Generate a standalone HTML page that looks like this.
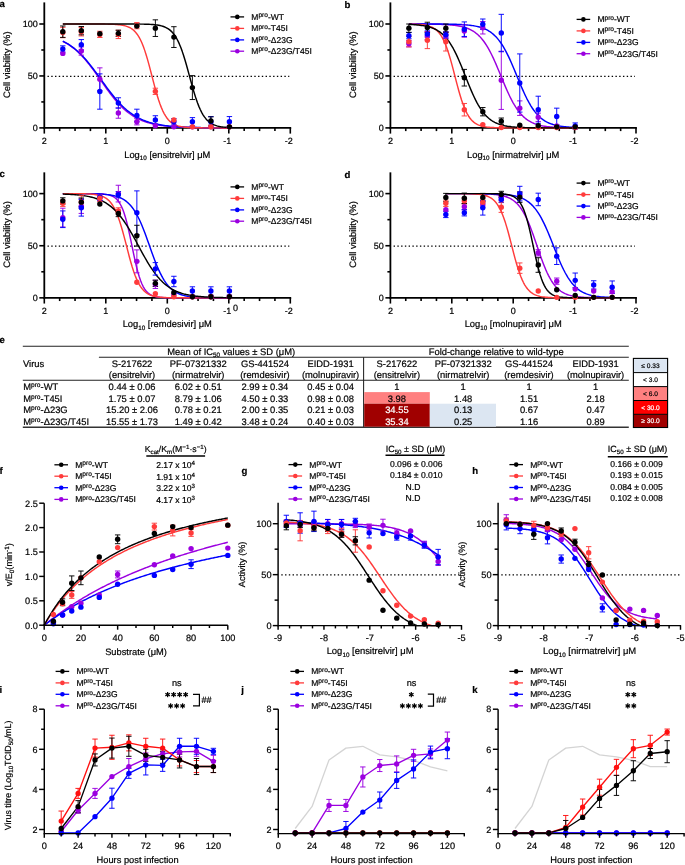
<!DOCTYPE html><html><head><meta charset="utf-8"><style>html,body{margin:0;padding:0;background:#fff;overflow:hidden}svg{display:block}text{font-family:"Liberation Sans",sans-serif;text-rendering:geometricPrecision;stroke:#000;stroke-width:.2px}text.w{stroke:#fff}</style></head><body><div style="will-change:transform"><svg width="685" height="865" viewBox="0 0 685 865" font-family="Liberation Sans, sans-serif">
<rect width="685" height="865" fill="#fff"/>
<text x="-0.6" y="7.2" font-size="9.6" text-anchor="start" fill="#000" font-weight="bold">a</text>
<line x1="47.5" y1="76.25" x2="289.3" y2="76.25" stroke="#000" stroke-width="1.25" stroke-dasharray="1.4 2.36"/>
<line x1="44.3" y1="2.4" x2="44.3" y2="128.8" stroke="#000" stroke-width="1.8" />
<line x1="43.4" y1="127.9" x2="291.2" y2="127.9" stroke="#000" stroke-width="1.8" />
<line x1="39.3" y1="127.9" x2="44.3" y2="127.9" stroke="#000" stroke-width="1.6" />
<line x1="39.3" y1="75.95" x2="44.3" y2="75.95" stroke="#000" stroke-width="1.6" />
<line x1="39.3" y1="24" x2="44.3" y2="24" stroke="#000" stroke-width="1.6" />
<line x1="41.3" y1="101.93" x2="44.3" y2="101.93" stroke="#000" stroke-width="1.6" />
<line x1="41.3" y1="49.98" x2="44.3" y2="49.98" stroke="#000" stroke-width="1.6" />
<line x1="44.3" y1="127.9" x2="44.3" y2="133.6" stroke="#000" stroke-width="1.6" />
<line x1="59.67" y1="127.9" x2="59.67" y2="131.1" stroke="#000" stroke-width="1.6" />
<line x1="75.05" y1="127.9" x2="75.05" y2="131.1" stroke="#000" stroke-width="1.6" />
<line x1="90.42" y1="127.9" x2="90.42" y2="131.1" stroke="#000" stroke-width="1.6" />
<line x1="105.8" y1="127.9" x2="105.8" y2="133.6" stroke="#000" stroke-width="1.6" />
<line x1="121.17" y1="127.9" x2="121.17" y2="131.1" stroke="#000" stroke-width="1.6" />
<line x1="136.55" y1="127.9" x2="136.55" y2="131.1" stroke="#000" stroke-width="1.6" />
<line x1="151.93" y1="127.9" x2="151.93" y2="131.1" stroke="#000" stroke-width="1.6" />
<line x1="167.3" y1="127.9" x2="167.3" y2="133.6" stroke="#000" stroke-width="1.6" />
<line x1="182.68" y1="127.9" x2="182.68" y2="131.1" stroke="#000" stroke-width="1.6" />
<line x1="198.05" y1="127.9" x2="198.05" y2="131.1" stroke="#000" stroke-width="1.6" />
<line x1="213.43" y1="127.9" x2="213.43" y2="131.1" stroke="#000" stroke-width="1.6" />
<line x1="228.8" y1="127.9" x2="228.8" y2="133.6" stroke="#000" stroke-width="1.6" />
<line x1="244.18" y1="127.9" x2="244.18" y2="131.1" stroke="#000" stroke-width="1.6" />
<line x1="259.55" y1="127.9" x2="259.55" y2="131.1" stroke="#000" stroke-width="1.6" />
<line x1="274.93" y1="127.9" x2="274.93" y2="131.1" stroke="#000" stroke-width="1.6" />
<line x1="290.3" y1="127.9" x2="290.3" y2="133.6" stroke="#000" stroke-width="1.6" />
<text x="37.7" y="131.1" font-size="9.0" text-anchor="end" fill="#000" >0</text>
<text x="37.7" y="79.15" font-size="9.0" text-anchor="end" fill="#000" >50</text>
<text x="37.7" y="27.2" font-size="9.0" text-anchor="end" fill="#000" >100</text>
<text x="44.3" y="143.7" font-size="9.0" text-anchor="middle" fill="#000" >2</text>
<text x="105.8" y="143.7" font-size="9.0" text-anchor="middle" fill="#000" >1</text>
<text x="167.3" y="143.7" font-size="9.0" text-anchor="middle" fill="#000" >0</text>
<text x="227.3" y="143.7" font-size="9.0" text-anchor="middle" fill="#000" >-1</text>
<text x="288.8" y="143.7" font-size="9.0" text-anchor="middle" fill="#000" >-2</text>
<text transform="translate(9.9,64.73) rotate(-90)" font-size="9.35" text-anchor="middle">Cell viability (%)</text>
<text x="167.3" y="157.5" font-size="9.35" text-anchor="middle">Log<tspan font-size="6.3" dy="2.2">10</tspan><tspan dy="-2.2"> [ensitrelvir] μM</tspan></text>
<polyline points="62.81,41.33 64.2,42.03 65.59,42.78 66.98,43.58 68.36,44.43 69.75,45.34 71.14,46.31 72.53,47.33 73.92,48.41 75.31,49.56 76.7,50.76 78.08,52.03 79.47,53.37 80.86,54.77 82.25,56.23 83.64,57.75 85.03,59.33 86.41,60.97 87.8,62.67 89.19,64.42 90.58,66.21 91.97,68.05 93.36,69.93 94.74,71.85 96.13,73.79 97.52,75.75 98.91,77.73 100.3,79.71 101.69,81.7 103.07,83.68 104.46,85.65 105.85,87.6 107.24,89.52 108.63,91.42 110.02,93.28 111.4,95.09 112.79,96.86 114.18,98.58 115.57,100.24 116.96,101.84 118.35,103.39 119.73,104.88 121.12,106.3 122.51,107.66 123.9,108.95 125.29,110.18 126.68,111.35 128.06,112.46 129.45,113.51 130.84,114.49 132.23,115.42 133.62,116.3 135.01,117.12 136.39,117.89 137.78,118.61 139.17,119.29 140.56,119.92 141.95,120.5 143.34,121.05 144.72,121.56 146.11,122.04 147.5,122.48 148.89,122.89 150.28,123.27 151.67,123.62 153.06,123.95 154.44,124.25 155.83,124.53 157.22,124.79 158.61,125.03 160,125.26 161.39,125.46 162.77,125.65 164.16,125.83 165.55,125.99 166.94,126.14 168.33,126.28 169.72,126.4 171.1,126.52 172.49,126.63 173.88,126.73 175.27,126.82 176.66,126.91 178.05,126.99 179.43,127.06 180.82,127.13 182.21,127.19 183.6,127.24 184.99,127.3 186.38,127.34 187.76,127.39 189.15,127.43 190.54,127.47 191.93,127.5 193.32,127.53 194.71,127.56 196.09,127.59 197.48,127.61 198.87,127.64 200.26,127.66 201.65,127.68 203.04,127.69 204.42,127.71 205.81,127.73 207.2,127.74 208.59,127.75 209.98,127.76 211.37,127.77 212.75,127.78 214.14,127.79 215.53,127.8 216.92,127.81 218.31,127.82 219.7,127.82 221.08,127.83 222.47,127.84 223.86,127.84 225.25,127.85 226.64,127.85 228.03,127.85 229.41,127.86" fill="none" stroke="#9b00e0" stroke-width="1.45" stroke-linejoin="round" />
<polyline points="62.81,41.14 64.2,41.84 65.59,42.59 66.98,43.38 68.36,44.23 69.75,45.12 71.14,46.07 72.53,47.08 73.92,48.14 75.31,49.26 76.7,50.44 78.08,51.68 79.47,52.98 80.86,54.34 82.25,55.75 83.64,57.23 85.03,58.76 86.41,60.35 87.8,61.99 89.19,63.68 90.58,65.41 91.97,67.19 93.36,69.01 94.74,70.86 96.13,72.74 97.52,74.64 98.91,76.55 100.3,78.48 101.69,80.41 103.07,82.34 104.46,84.26 105.85,86.17 107.24,88.06 108.63,89.92 110.02,91.75 111.4,93.55 112.79,95.3 114.18,97.01 115.57,98.67 116.96,100.28 118.35,101.83 119.73,103.33 121.12,104.78 122.51,106.16 123.9,107.48 125.29,108.74 126.68,109.95 128.06,111.09 129.45,112.18 130.84,113.21 132.23,114.18 133.62,115.1 135.01,115.97 136.39,116.78 137.78,117.55 139.17,118.27 140.56,118.94 141.95,119.57 143.34,120.17 144.72,120.72 146.11,121.24 147.5,121.72 148.89,122.17 150.28,122.58 151.67,122.97 153.06,123.34 154.44,123.67 155.83,123.99 157.22,124.28 158.61,124.55 160,124.8 161.39,125.03 162.77,125.25 164.16,125.45 165.55,125.63 166.94,125.8 168.33,125.96 169.72,126.11 171.1,126.24 172.49,126.37 173.88,126.49 175.27,126.59 176.66,126.69 178.05,126.79 179.43,126.87 180.82,126.95 182.21,127.02 183.6,127.09 184.99,127.15 186.38,127.21 187.76,127.26 189.15,127.31 190.54,127.36 191.93,127.4 193.32,127.44 194.71,127.47 196.09,127.51 197.48,127.54 198.87,127.56 200.26,127.59 201.65,127.61 203.04,127.64 204.42,127.66 205.81,127.67 207.2,127.69 208.59,127.71 209.98,127.72 211.37,127.74 212.75,127.75 214.14,127.76 215.53,127.77 216.92,127.78 218.31,127.79 219.7,127.8 221.08,127.81 222.47,127.81 223.86,127.82 225.25,127.83 226.64,127.83 228.03,127.84 229.41,127.84" fill="none" stroke="#0000ff" stroke-width="1.45" stroke-linejoin="round" />
<polyline points="62.81,24 64.2,24 65.59,24 66.98,24 68.36,24 69.75,24 71.14,24 72.53,24 73.92,24 75.31,24 76.7,24 78.08,24 79.47,24 80.86,24 82.25,24 83.64,24 85.03,24 86.41,24.01 87.8,24.01 89.19,24.01 90.58,24.01 91.97,24.01 93.36,24.02 94.74,24.02 96.13,24.02 97.52,24.03 98.91,24.04 100.3,24.05 101.69,24.06 103.07,24.07 104.46,24.08 105.85,24.1 107.24,24.13 108.63,24.16 110.02,24.19 111.4,24.24 112.79,24.3 114.18,24.36 115.57,24.45 116.96,24.55 118.35,24.68 119.73,24.83 121.12,25.02 122.51,25.25 123.9,25.54 125.29,25.89 126.68,26.32 128.06,26.84 129.45,27.47 130.84,28.24 132.23,29.17 133.62,30.29 135.01,31.64 136.39,33.25 137.78,35.16 139.17,37.4 140.56,40.02 141.95,43.04 143.34,46.49 144.72,50.37 146.11,54.67 147.5,59.35 148.89,64.34 150.28,69.58 151.67,74.95 153.06,80.34 154.44,85.63 155.83,90.73 157.22,95.53 158.61,99.98 160,104.01 161.39,107.62 162.77,110.8 164.16,113.57 165.55,115.95 166.94,117.98 168.33,119.69 169.72,121.13 171.1,122.34 172.49,123.34 173.88,124.16 175.27,124.84 176.66,125.4 178.05,125.86 179.43,126.24 180.82,126.55 182.21,126.8 183.6,127 184.99,127.17 186.38,127.31 187.76,127.42 189.15,127.51 190.54,127.58 191.93,127.64 193.32,127.69 194.71,127.73 196.09,127.76 197.48,127.79 198.87,127.81 200.26,127.83 201.65,127.84 203.04,127.85 204.42,127.86 205.81,127.87 207.2,127.87 208.59,127.88 209.98,127.88 211.37,127.89 212.75,127.89 214.14,127.89 215.53,127.89 216.92,127.89 218.31,127.89 219.7,127.9 221.08,127.9 222.47,127.9 223.86,127.9 225.25,127.9 226.64,127.9 228.03,127.9 229.41,127.9" fill="none" stroke="#ff3b3b" stroke-width="1.45" stroke-linejoin="round" />
<polyline points="62.81,24 64.2,24 65.59,24 66.98,24 68.36,24 69.75,24 71.14,24 72.53,24 73.92,24 75.31,24 76.7,24 78.08,24 79.47,24 80.86,24 82.25,24 83.64,24 85.03,24 86.41,24 87.8,24 89.19,24 90.58,24 91.97,24 93.36,24 94.74,24 96.13,24 97.52,24 98.91,24 100.3,24 101.69,24 103.07,24 104.46,24 105.85,24 107.24,24 108.63,24 110.02,24 111.4,24 112.79,24 114.18,24 115.57,24 116.96,24 118.35,24 119.73,24.01 121.12,24.01 122.51,24.01 123.9,24.01 125.29,24.01 126.68,24.01 128.06,24.02 129.45,24.02 130.84,24.02 132.23,24.03 133.62,24.04 135.01,24.04 136.39,24.05 137.78,24.07 139.17,24.08 140.56,24.1 141.95,24.12 143.34,24.15 144.72,24.18 146.11,24.22 147.5,24.27 148.89,24.32 150.28,24.39 151.67,24.48 153.06,24.58 154.44,24.71 155.83,24.86 157.22,25.05 158.61,25.28 160,25.55 161.39,25.88 162.77,26.29 164.16,26.77 165.55,27.36 166.94,28.06 168.33,28.91 169.72,29.92 171.1,31.13 172.49,32.55 173.88,34.24 175.27,36.21 176.66,38.5 178.05,41.15 179.43,44.17 180.82,47.57 182.21,51.36 183.6,55.53 184.99,60.02 186.38,64.8 187.76,69.79 189.15,74.89 190.54,80.01 191.93,85.05 193.32,89.93 194.71,94.55 196.09,98.86 197.48,102.8 198.87,106.37 200.26,109.55 201.65,112.34 203.04,114.78 204.42,116.88 205.81,118.68 207.2,120.21 208.59,121.51 209.98,122.59 211.37,123.5 212.75,124.26 214.14,124.9 215.53,125.42 216.92,125.86 218.31,126.22 219.7,126.52 221.08,126.76 222.47,126.96 223.86,127.13 225.25,127.27 226.64,127.38 228.03,127.47 229.41,127.55" fill="none" stroke="#000000" stroke-width="1.45" stroke-linejoin="round" />
<line x1="81.32" y1="46.86" x2="81.32" y2="55.17" stroke="#9b00e0" stroke-width="0.95" />
<line x1="78.62" y1="46.86" x2="84.02" y2="46.86" stroke="#9b00e0" stroke-width="0.95" />
<line x1="78.62" y1="55.17" x2="84.02" y2="55.17" stroke="#9b00e0" stroke-width="0.95" />
<line x1="99.83" y1="67.85" x2="99.83" y2="90.7" stroke="#9b00e0" stroke-width="0.95" />
<line x1="97.13" y1="67.85" x2="102.53" y2="67.85" stroke="#9b00e0" stroke-width="0.95" />
<line x1="97.13" y1="90.7" x2="102.53" y2="90.7" stroke="#9b00e0" stroke-width="0.95" />
<line x1="118.35" y1="107.85" x2="118.35" y2="118.24" stroke="#9b00e0" stroke-width="0.95" />
<line x1="115.65" y1="107.85" x2="121.05" y2="107.85" stroke="#9b00e0" stroke-width="0.95" />
<line x1="115.65" y1="118.24" x2="121.05" y2="118.24" stroke="#9b00e0" stroke-width="0.95" />
<line x1="136.86" y1="118.65" x2="136.86" y2="124.89" stroke="#9b00e0" stroke-width="0.95" />
<line x1="134.16" y1="118.65" x2="139.56" y2="118.65" stroke="#9b00e0" stroke-width="0.95" />
<line x1="134.16" y1="124.89" x2="139.56" y2="124.89" stroke="#9b00e0" stroke-width="0.95" />
<line x1="62.81" y1="45.82" x2="62.81" y2="52.05" stroke="#0000ff" stroke-width="0.95" />
<line x1="60.11" y1="45.82" x2="65.51" y2="45.82" stroke="#0000ff" stroke-width="0.95" />
<line x1="60.11" y1="52.05" x2="65.51" y2="52.05" stroke="#0000ff" stroke-width="0.95" />
<line x1="81.32" y1="39.59" x2="81.32" y2="49.98" stroke="#0000ff" stroke-width="0.95" />
<line x1="78.62" y1="39.59" x2="84.02" y2="39.59" stroke="#0000ff" stroke-width="0.95" />
<line x1="78.62" y1="49.98" x2="84.02" y2="49.98" stroke="#0000ff" stroke-width="0.95" />
<line x1="99.83" y1="73.87" x2="99.83" y2="109.2" stroke="#0000ff" stroke-width="0.95" />
<line x1="97.13" y1="73.87" x2="102.53" y2="73.87" stroke="#0000ff" stroke-width="0.95" />
<line x1="97.13" y1="109.2" x2="102.53" y2="109.2" stroke="#0000ff" stroke-width="0.95" />
<line x1="118.35" y1="97.77" x2="118.35" y2="108.16" stroke="#0000ff" stroke-width="0.95" />
<line x1="115.65" y1="97.77" x2="121.05" y2="97.77" stroke="#0000ff" stroke-width="0.95" />
<line x1="115.65" y1="108.16" x2="121.05" y2="108.16" stroke="#0000ff" stroke-width="0.95" />
<line x1="136.86" y1="109.2" x2="136.86" y2="121.67" stroke="#0000ff" stroke-width="0.95" />
<line x1="134.16" y1="109.2" x2="139.56" y2="109.2" stroke="#0000ff" stroke-width="0.95" />
<line x1="134.16" y1="121.67" x2="139.56" y2="121.67" stroke="#0000ff" stroke-width="0.95" />
<line x1="155.37" y1="115.74" x2="155.37" y2="124.06" stroke="#0000ff" stroke-width="0.95" />
<line x1="152.67" y1="115.74" x2="158.07" y2="115.74" stroke="#0000ff" stroke-width="0.95" />
<line x1="152.67" y1="124.06" x2="158.07" y2="124.06" stroke="#0000ff" stroke-width="0.95" />
<line x1="173.88" y1="118.65" x2="173.88" y2="124.89" stroke="#0000ff" stroke-width="0.95" />
<line x1="171.18" y1="118.65" x2="176.58" y2="118.65" stroke="#0000ff" stroke-width="0.95" />
<line x1="171.18" y1="124.89" x2="176.58" y2="124.89" stroke="#0000ff" stroke-width="0.95" />
<line x1="192.39" y1="117.61" x2="192.39" y2="125.93" stroke="#0000ff" stroke-width="0.95" />
<line x1="189.69" y1="117.61" x2="195.09" y2="117.61" stroke="#0000ff" stroke-width="0.95" />
<line x1="189.69" y1="125.93" x2="195.09" y2="125.93" stroke="#0000ff" stroke-width="0.95" />
<line x1="210.9" y1="116.57" x2="210.9" y2="126.96" stroke="#0000ff" stroke-width="0.95" />
<line x1="208.2" y1="116.57" x2="213.6" y2="116.57" stroke="#0000ff" stroke-width="0.95" />
<line x1="208.2" y1="126.96" x2="213.6" y2="126.96" stroke="#0000ff" stroke-width="0.95" />
<line x1="229.41" y1="116.57" x2="229.41" y2="126.96" stroke="#0000ff" stroke-width="0.95" />
<line x1="226.71" y1="116.57" x2="232.11" y2="116.57" stroke="#0000ff" stroke-width="0.95" />
<line x1="226.71" y1="126.96" x2="232.11" y2="126.96" stroke="#0000ff" stroke-width="0.95" />
<line x1="62.81" y1="27.32" x2="62.81" y2="37.71" stroke="#ff3b3b" stroke-width="0.95" />
<line x1="60.11" y1="27.32" x2="65.51" y2="27.32" stroke="#ff3b3b" stroke-width="0.95" />
<line x1="60.11" y1="37.71" x2="65.51" y2="37.71" stroke="#ff3b3b" stroke-width="0.95" />
<line x1="81.32" y1="27.64" x2="81.32" y2="35.95" stroke="#ff3b3b" stroke-width="0.95" />
<line x1="78.62" y1="27.64" x2="84.02" y2="27.64" stroke="#ff3b3b" stroke-width="0.95" />
<line x1="78.62" y1="35.95" x2="84.02" y2="35.95" stroke="#ff3b3b" stroke-width="0.95" />
<line x1="99.83" y1="31.27" x2="99.83" y2="37.51" stroke="#ff3b3b" stroke-width="0.95" />
<line x1="97.13" y1="31.27" x2="102.53" y2="31.27" stroke="#ff3b3b" stroke-width="0.95" />
<line x1="97.13" y1="37.51" x2="102.53" y2="37.51" stroke="#ff3b3b" stroke-width="0.95" />
<line x1="118.35" y1="30.23" x2="118.35" y2="38.55" stroke="#ff3b3b" stroke-width="0.95" />
<line x1="115.65" y1="30.23" x2="121.05" y2="30.23" stroke="#ff3b3b" stroke-width="0.95" />
<line x1="115.65" y1="38.55" x2="121.05" y2="38.55" stroke="#ff3b3b" stroke-width="0.95" />
<line x1="136.86" y1="22.55" x2="136.86" y2="28.78" stroke="#ff3b3b" stroke-width="0.95" />
<line x1="134.16" y1="22.55" x2="139.56" y2="22.55" stroke="#ff3b3b" stroke-width="0.95" />
<line x1="134.16" y1="28.78" x2="139.56" y2="28.78" stroke="#ff3b3b" stroke-width="0.95" />
<line x1="155.37" y1="88.21" x2="155.37" y2="94.44" stroke="#ff3b3b" stroke-width="0.95" />
<line x1="152.67" y1="88.21" x2="158.07" y2="88.21" stroke="#ff3b3b" stroke-width="0.95" />
<line x1="152.67" y1="94.44" x2="158.07" y2="94.44" stroke="#ff3b3b" stroke-width="0.95" />
<line x1="62.81" y1="25.97" x2="62.81" y2="37.4" stroke="#000000" stroke-width="0.95" />
<line x1="60.11" y1="25.97" x2="65.51" y2="25.97" stroke="#000000" stroke-width="0.95" />
<line x1="60.11" y1="37.4" x2="65.51" y2="37.4" stroke="#000000" stroke-width="0.95" />
<line x1="81.32" y1="26.49" x2="81.32" y2="34.81" stroke="#000000" stroke-width="0.95" />
<line x1="78.62" y1="26.49" x2="84.02" y2="26.49" stroke="#000000" stroke-width="0.95" />
<line x1="78.62" y1="34.81" x2="84.02" y2="34.81" stroke="#000000" stroke-width="0.95" />
<line x1="118.35" y1="30.23" x2="118.35" y2="36.47" stroke="#000000" stroke-width="0.95" />
<line x1="115.65" y1="30.23" x2="121.05" y2="30.23" stroke="#000000" stroke-width="0.95" />
<line x1="115.65" y1="36.47" x2="121.05" y2="36.47" stroke="#000000" stroke-width="0.95" />
<line x1="155.37" y1="19.84" x2="155.37" y2="36.47" stroke="#000000" stroke-width="0.95" />
<line x1="152.67" y1="19.84" x2="158.07" y2="19.84" stroke="#000000" stroke-width="0.95" />
<line x1="152.67" y1="36.47" x2="158.07" y2="36.47" stroke="#000000" stroke-width="0.95" />
<line x1="173.88" y1="26.7" x2="173.88" y2="47.48" stroke="#000000" stroke-width="0.95" />
<line x1="171.18" y1="26.7" x2="176.58" y2="26.7" stroke="#000000" stroke-width="0.95" />
<line x1="171.18" y1="47.48" x2="176.58" y2="47.48" stroke="#000000" stroke-width="0.95" />
<line x1="192.39" y1="75.64" x2="192.39" y2="99.54" stroke="#000000" stroke-width="0.95" />
<line x1="189.69" y1="75.64" x2="195.09" y2="75.64" stroke="#000000" stroke-width="0.95" />
<line x1="189.69" y1="99.54" x2="195.09" y2="99.54" stroke="#000000" stroke-width="0.95" />
<line x1="210.9" y1="116.89" x2="210.9" y2="125.2" stroke="#000000" stroke-width="0.95" />
<line x1="208.2" y1="116.89" x2="213.6" y2="116.89" stroke="#000000" stroke-width="0.95" />
<line x1="208.2" y1="125.2" x2="213.6" y2="125.2" stroke="#000000" stroke-width="0.95" />
<circle cx="62.81" cy="53.4" r="2.7" fill="#9b00e0"/>
<circle cx="81.32" cy="51.01" r="2.7" fill="#9b00e0"/>
<circle cx="99.83" cy="79.27" r="2.7" fill="#9b00e0"/>
<circle cx="118.35" cy="113.04" r="2.7" fill="#9b00e0"/>
<circle cx="136.86" cy="121.77" r="2.7" fill="#9b00e0"/>
<circle cx="155.37" cy="125.82" r="2.7" fill="#9b00e0"/>
<circle cx="173.88" cy="126.86" r="2.7" fill="#9b00e0"/>
<circle cx="192.39" cy="126.86" r="2.7" fill="#9b00e0"/>
<circle cx="210.9" cy="126.86" r="2.7" fill="#9b00e0"/>
<circle cx="229.41" cy="126.86" r="2.7" fill="#9b00e0"/>
<circle cx="62.81" cy="48.94" r="2.7" fill="#0000ff"/>
<circle cx="81.32" cy="44.78" r="2.7" fill="#0000ff"/>
<circle cx="99.83" cy="91.54" r="2.7" fill="#0000ff"/>
<circle cx="118.35" cy="102.96" r="2.7" fill="#0000ff"/>
<circle cx="136.86" cy="115.43" r="2.7" fill="#0000ff"/>
<circle cx="155.37" cy="119.9" r="2.7" fill="#0000ff"/>
<circle cx="173.88" cy="121.77" r="2.7" fill="#0000ff"/>
<circle cx="192.39" cy="121.77" r="2.7" fill="#0000ff"/>
<circle cx="210.9" cy="121.77" r="2.7" fill="#0000ff"/>
<circle cx="229.41" cy="121.77" r="2.7" fill="#0000ff"/>
<circle cx="62.81" cy="32.52" r="2.7" fill="#ff3b3b"/>
<circle cx="81.32" cy="31.79" r="2.7" fill="#ff3b3b"/>
<circle cx="99.83" cy="34.39" r="2.7" fill="#ff3b3b"/>
<circle cx="118.35" cy="34.39" r="2.7" fill="#ff3b3b"/>
<circle cx="136.86" cy="25.66" r="2.7" fill="#ff3b3b"/>
<circle cx="155.37" cy="91.33" r="2.7" fill="#ff3b3b"/>
<circle cx="173.88" cy="119.9" r="2.7" fill="#ff3b3b"/>
<circle cx="192.39" cy="126.86" r="2.7" fill="#ff3b3b"/>
<circle cx="210.9" cy="126.86" r="2.7" fill="#ff3b3b"/>
<circle cx="229.41" cy="126.86" r="2.7" fill="#ff3b3b"/>
<circle cx="62.81" cy="31.69" r="2.7" fill="#000000"/>
<circle cx="81.32" cy="30.65" r="2.7" fill="#000000"/>
<circle cx="99.83" cy="33.66" r="2.7" fill="#000000"/>
<circle cx="118.35" cy="33.35" r="2.7" fill="#000000"/>
<circle cx="136.86" cy="26.08" r="2.7" fill="#000000"/>
<circle cx="155.37" cy="28.16" r="2.7" fill="#000000"/>
<circle cx="173.88" cy="37.09" r="2.7" fill="#000000"/>
<circle cx="192.39" cy="87.59" r="2.7" fill="#000000"/>
<circle cx="210.9" cy="121.04" r="2.7" fill="#000000"/>
<circle cx="229.41" cy="126.86" r="2.7" fill="#000000"/>
<line x1="230.5" y1="16.9" x2="244.1" y2="16.9" stroke="#000000" stroke-width="1.3" />
<circle cx="237.3" cy="16.9" r="2.3" fill="#000000"/>
<text x="251.3" y="19.9" font-size="8.5" text-anchor="start" fill="#000" >M<tspan font-size="6.6" dy="-2.8">pro</tspan><tspan dy="2.8">-WT</tspan></text>
<line x1="230.5" y1="28.4" x2="244.1" y2="28.4" stroke="#ff3b3b" stroke-width="1.3" />
<circle cx="237.3" cy="28.4" r="2.3" fill="#ff3b3b"/>
<text x="251.3" y="31.4" font-size="8.5" text-anchor="start" fill="#000" >M<tspan font-size="6.6" dy="-2.8">pro</tspan><tspan dy="2.8">-T45I</tspan></text>
<line x1="230.5" y1="39.9" x2="244.1" y2="39.9" stroke="#0000ff" stroke-width="1.3" />
<circle cx="237.3" cy="39.9" r="2.3" fill="#0000ff"/>
<text x="251.3" y="42.9" font-size="8.5" text-anchor="start" fill="#000" >M<tspan font-size="6.6" dy="-2.8">pro</tspan><tspan dy="2.8">-Δ23G</tspan></text>
<line x1="230.5" y1="51.2" x2="244.1" y2="51.2" stroke="#9b00e0" stroke-width="1.3" />
<circle cx="237.3" cy="51.2" r="2.3" fill="#9b00e0"/>
<text x="251.3" y="54.2" font-size="8.5" text-anchor="start" fill="#000" >M<tspan font-size="6.6" dy="-2.8">pro</tspan><tspan dy="2.8">-Δ23G/T45I</tspan></text>
<text x="344.6" y="8.3" font-size="9.6" text-anchor="start" fill="#000" font-weight="bold">b</text>
<line x1="393.6" y1="76.25" x2="635" y2="76.25" stroke="#000" stroke-width="1.25" stroke-dasharray="1.4 2.36"/>
<line x1="390.4" y1="2.4" x2="390.4" y2="128.8" stroke="#000" stroke-width="1.8" />
<line x1="389.5" y1="127.9" x2="636.9" y2="127.9" stroke="#000" stroke-width="1.8" />
<line x1="385.4" y1="127.9" x2="390.4" y2="127.9" stroke="#000" stroke-width="1.6" />
<line x1="385.4" y1="75.95" x2="390.4" y2="75.95" stroke="#000" stroke-width="1.6" />
<line x1="385.4" y1="24" x2="390.4" y2="24" stroke="#000" stroke-width="1.6" />
<line x1="387.4" y1="101.93" x2="390.4" y2="101.93" stroke="#000" stroke-width="1.6" />
<line x1="387.4" y1="49.98" x2="390.4" y2="49.98" stroke="#000" stroke-width="1.6" />
<line x1="390.4" y1="127.9" x2="390.4" y2="133.6" stroke="#000" stroke-width="1.6" />
<line x1="405.75" y1="127.9" x2="405.75" y2="131.1" stroke="#000" stroke-width="1.6" />
<line x1="421.1" y1="127.9" x2="421.1" y2="131.1" stroke="#000" stroke-width="1.6" />
<line x1="436.45" y1="127.9" x2="436.45" y2="131.1" stroke="#000" stroke-width="1.6" />
<line x1="451.8" y1="127.9" x2="451.8" y2="133.6" stroke="#000" stroke-width="1.6" />
<line x1="467.15" y1="127.9" x2="467.15" y2="131.1" stroke="#000" stroke-width="1.6" />
<line x1="482.5" y1="127.9" x2="482.5" y2="131.1" stroke="#000" stroke-width="1.6" />
<line x1="497.85" y1="127.9" x2="497.85" y2="131.1" stroke="#000" stroke-width="1.6" />
<line x1="513.2" y1="127.9" x2="513.2" y2="133.6" stroke="#000" stroke-width="1.6" />
<line x1="528.55" y1="127.9" x2="528.55" y2="131.1" stroke="#000" stroke-width="1.6" />
<line x1="543.9" y1="127.9" x2="543.9" y2="131.1" stroke="#000" stroke-width="1.6" />
<line x1="559.25" y1="127.9" x2="559.25" y2="131.1" stroke="#000" stroke-width="1.6" />
<line x1="574.6" y1="127.9" x2="574.6" y2="133.6" stroke="#000" stroke-width="1.6" />
<line x1="589.95" y1="127.9" x2="589.95" y2="131.1" stroke="#000" stroke-width="1.6" />
<line x1="605.3" y1="127.9" x2="605.3" y2="131.1" stroke="#000" stroke-width="1.6" />
<line x1="620.65" y1="127.9" x2="620.65" y2="131.1" stroke="#000" stroke-width="1.6" />
<line x1="636" y1="127.9" x2="636" y2="133.6" stroke="#000" stroke-width="1.6" />
<text x="383.8" y="131.1" font-size="9.0" text-anchor="end" fill="#000" >0</text>
<text x="383.8" y="79.15" font-size="9.0" text-anchor="end" fill="#000" >50</text>
<text x="383.8" y="27.2" font-size="9.0" text-anchor="end" fill="#000" >100</text>
<text x="390.4" y="143.7" font-size="9.0" text-anchor="middle" fill="#000" >2</text>
<text x="451.8" y="143.7" font-size="9.0" text-anchor="middle" fill="#000" >1</text>
<text x="513.2" y="143.7" font-size="9.0" text-anchor="middle" fill="#000" >0</text>
<text x="573.1" y="143.7" font-size="9.0" text-anchor="middle" fill="#000" >-1</text>
<text x="634.5" y="143.7" font-size="9.0" text-anchor="middle" fill="#000" >-2</text>
<text transform="translate(356,64.73) rotate(-90)" font-size="9.35" text-anchor="middle">Cell viability (%)</text>
<text x="513.2" y="157.5" font-size="9.35" text-anchor="middle">Log<tspan font-size="6.3" dy="2.2">10</tspan><tspan dy="-2.2"> [nirmatrelvir] μM</tspan></text>
<polyline points="408.88,24.02 410.27,24.02 411.65,24.02 413.04,24.03 414.43,24.03 415.81,24.04 417.2,24.04 418.58,24.05 419.97,24.05 421.36,24.06 422.74,24.07 424.13,24.08 425.51,24.09 426.9,24.1 428.29,24.11 429.67,24.13 431.06,24.15 432.45,24.17 433.83,24.19 435.22,24.22 436.6,24.25 437.99,24.28 439.38,24.32 440.76,24.37 442.15,24.42 443.53,24.48 444.92,24.54 446.31,24.62 447.69,24.7 449.08,24.8 450.46,24.91 451.85,25.03 453.24,25.18 454.62,25.34 456.01,25.52 457.4,25.73 458.78,25.96 460.17,26.23 461.55,26.53 462.94,26.87 464.33,27.26 465.71,27.69 467.1,28.18 468.48,28.74 469.87,29.36 471.26,30.06 472.64,30.85 474.03,31.73 475.41,32.71 476.8,33.81 478.19,35.02 479.57,36.37 480.96,37.86 482.34,39.49 483.73,41.29 485.12,43.24 486.5,45.36 487.89,47.65 489.28,50.11 490.66,52.73 492.05,55.51 493.43,58.43 494.82,61.49 496.21,64.65 497.59,67.91 498.98,71.23 500.36,74.6 501.75,77.97 503.14,81.33 504.52,84.64 505.91,87.88 507.29,91.03 508.68,94.06 510.07,96.95 511.45,99.7 512.84,102.29 514.23,104.72 515.61,106.97 517,109.06 518.38,110.98 519.77,112.74 521.16,114.35 522.54,115.81 523.93,117.13 525.31,118.32 526.7,119.39 528.09,120.35 529.47,121.21 530.86,121.98 532.24,122.67 533.63,123.28 535.02,123.82 536.4,124.3 537.79,124.72 539.18,125.1 540.56,125.43 541.95,125.73 543.33,125.99 544.72,126.22 546.11,126.42 547.49,126.6 548.88,126.75 550.26,126.89 551.65,127.01 553.04,127.12 554.42,127.22 555.81,127.3 557.19,127.37 558.58,127.44 559.97,127.49 561.35,127.54 562.74,127.59 564.13,127.62 565.51,127.66 566.9,127.69 568.28,127.71 569.67,127.74 571.06,127.76 572.44,127.77 573.83,127.79 575.21,127.8" fill="none" stroke="#9b00e0" stroke-width="1.45" stroke-linejoin="round" />
<polyline points="408.88,24 410.27,24 411.65,24.01 413.04,24.01 414.43,24.01 415.81,24.01 417.2,24.01 418.58,24.01 419.97,24.01 421.36,24.01 422.74,24.02 424.13,24.02 425.51,24.02 426.9,24.02 428.29,24.03 429.67,24.03 431.06,24.03 432.45,24.04 433.83,24.04 435.22,24.05 436.6,24.06 437.99,24.06 439.38,24.07 440.76,24.08 442.15,24.09 443.53,24.11 444.92,24.12 446.31,24.14 447.69,24.16 449.08,24.18 450.46,24.2 451.85,24.23 453.24,24.27 454.62,24.3 456.01,24.34 457.4,24.39 458.78,24.45 460.17,24.51 461.55,24.58 462.94,24.66 464.33,24.75 465.71,24.85 467.1,24.97 468.48,25.1 469.87,25.25 471.26,25.42 472.64,25.62 474.03,25.84 475.41,26.09 476.8,26.37 478.19,26.69 479.57,27.05 480.96,27.46 482.34,27.92 483.73,28.44 485.12,29.03 486.5,29.69 487.89,30.43 489.28,31.26 490.66,32.19 492.05,33.23 493.43,34.38 494.82,35.66 496.21,37.07 497.59,38.63 498.98,40.34 500.36,42.21 501.75,44.24 503.14,46.45 504.52,48.82 505.91,51.36 507.29,54.05 508.68,56.9 510.07,59.89 511.45,63 512.84,66.22 514.23,69.51 515.61,72.85 517,76.23 518.38,79.6 519.77,82.94 521.16,86.22 522.54,89.41 523.93,92.51 525.31,95.47 526.7,98.3 528.09,100.97 529.47,103.48 530.86,105.83 532.24,108 533.63,110.01 535.02,111.85 536.4,113.54 537.79,115.07 539.18,116.46 540.56,117.72 541.95,118.85 543.33,119.87 544.72,120.78 546.11,121.6 547.49,122.32 548.88,122.97 550.26,123.55 551.65,124.06 553.04,124.51 554.42,124.91 555.81,125.27 557.19,125.58 558.58,125.86 559.97,126.1 561.35,126.32 562.74,126.51 564.13,126.68 565.51,126.82 566.9,126.95 568.28,127.07 569.67,127.17 571.06,127.26 572.44,127.33 573.83,127.4 575.21,127.46" fill="none" stroke="#0000ff" stroke-width="1.45" stroke-linejoin="round" />
<polyline points="408.88,24.1 410.27,24.13 411.65,24.16 413.04,24.2 414.43,24.24 415.81,24.3 417.2,24.36 418.58,24.45 419.97,24.55 421.36,24.68 422.74,24.83 424.13,25.02 425.51,25.26 426.9,25.54 428.29,25.89 429.67,26.32 431.06,26.84 432.45,27.47 433.83,28.25 435.22,29.18 436.6,30.3 437.99,31.65 439.38,33.26 440.76,35.17 442.15,37.42 443.53,40.04 444.92,43.07 446.31,46.52 447.69,50.4 449.08,54.7 450.46,59.38 451.85,64.38 453.24,69.62 454.62,74.99 456.01,80.38 457.4,85.67 458.78,90.77 460.17,95.57 461.55,100.01 462.94,104.04 464.33,107.65 465.71,110.83 467.1,113.59 468.48,115.97 469.87,117.99 471.26,119.71 472.64,121.15 474.03,122.35 475.41,123.34 476.8,124.17 478.19,124.85 479.57,125.41 480.96,125.87 482.34,126.24 483.73,126.55 485.12,126.8 486.5,127 487.89,127.17 489.28,127.31 490.66,127.42 492.05,127.51 493.43,127.58 494.82,127.64 496.21,127.69 497.59,127.73 498.98,127.76 500.36,127.79 501.75,127.81 503.14,127.83 504.52,127.84 505.91,127.85 507.29,127.86 508.68,127.87 510.07,127.87 511.45,127.88 512.84,127.88 514.23,127.89 515.61,127.89 517,127.89 518.38,127.89 519.77,127.89 521.16,127.9 522.54,127.9 523.93,127.9 525.31,127.9 526.7,127.9 528.09,127.9 529.47,127.9 530.86,127.9 532.24,127.9 533.63,127.9 535.02,127.9 536.4,127.9 537.79,127.9 539.18,127.9 540.56,127.9 541.95,127.9 543.33,127.9 544.72,127.9 546.11,127.9 547.49,127.9 548.88,127.9 550.26,127.9 551.65,127.9 553.04,127.9 554.42,127.9 555.81,127.9 557.19,127.9 558.58,127.9 559.97,127.9 561.35,127.9 562.74,127.9 564.13,127.9 565.51,127.9 566.9,127.9 568.28,127.9 569.67,127.9 571.06,127.9 572.44,127.9 573.83,127.9 575.21,127.9" fill="none" stroke="#ff3b3b" stroke-width="1.45" stroke-linejoin="round" />
<polyline points="408.88,24.42 410.27,24.48 411.65,24.55 413.04,24.63 414.43,24.72 415.81,24.83 417.2,24.94 418.58,25.08 419.97,25.23 421.36,25.41 422.74,25.61 424.13,25.84 425.51,26.1 426.9,26.4 428.29,26.74 429.67,27.12 431.06,27.56 432.45,28.05 433.83,28.61 435.22,29.25 436.6,29.96 437.99,30.77 439.38,31.68 440.76,32.69 442.15,33.83 443.53,35.1 444.92,36.52 446.31,38.08 447.69,39.81 449.08,41.71 450.46,43.78 451.85,46.04 453.24,48.48 454.62,51.1 456.01,53.89 457.4,56.85 458.78,59.96 460.17,63.2 461.55,66.55 462.94,69.98 464.33,73.46 465.71,76.97 467.1,80.47 468.48,83.93 469.87,87.32 471.26,90.61 472.64,93.77 474.03,96.79 475.41,99.66 476.8,102.35 478.19,104.86 479.57,107.2 480.96,109.35 482.34,111.32 483.73,113.12 485.12,114.75 486.5,116.22 487.89,117.55 489.28,118.75 490.66,119.81 492.05,120.76 493.43,121.61 494.82,122.36 496.21,123.03 497.59,123.62 498.98,124.14 500.36,124.6 501.75,125.01 503.14,125.36 504.52,125.68 505.91,125.95 507.29,126.2 508.68,126.41 510.07,126.59 511.45,126.76 512.84,126.9 514.23,127.03 515.61,127.14 517,127.23 518.38,127.32 519.77,127.39 521.16,127.45 522.54,127.51 523.93,127.56 525.31,127.6 526.7,127.64 528.09,127.67 529.47,127.7 530.86,127.73 532.24,127.75 533.63,127.77 535.02,127.78 536.4,127.8 537.79,127.81 539.18,127.82 540.56,127.83 541.95,127.84 543.33,127.85 544.72,127.85 546.11,127.86 547.49,127.87 548.88,127.87 550.26,127.87 551.65,127.88 553.04,127.88 554.42,127.88 555.81,127.88 557.19,127.89 558.58,127.89 559.97,127.89 561.35,127.89 562.74,127.89 564.13,127.89 565.51,127.89 566.9,127.89 568.28,127.9 569.67,127.9 571.06,127.9 572.44,127.9 573.83,127.9 575.21,127.9" fill="none" stroke="#000000" stroke-width="1.45" stroke-linejoin="round" />
<line x1="408.88" y1="40.62" x2="408.88" y2="46.86" stroke="#9b00e0" stroke-width="0.95" />
<line x1="406.18" y1="40.62" x2="411.58" y2="40.62" stroke="#9b00e0" stroke-width="0.95" />
<line x1="406.18" y1="46.86" x2="411.58" y2="46.86" stroke="#9b00e0" stroke-width="0.95" />
<line x1="427.36" y1="31.48" x2="427.36" y2="39.79" stroke="#9b00e0" stroke-width="0.95" />
<line x1="424.66" y1="31.48" x2="430.06" y2="31.48" stroke="#9b00e0" stroke-width="0.95" />
<line x1="424.66" y1="39.79" x2="430.06" y2="39.79" stroke="#9b00e0" stroke-width="0.95" />
<line x1="445.84" y1="32.31" x2="445.84" y2="38.55" stroke="#9b00e0" stroke-width="0.95" />
<line x1="443.14" y1="32.31" x2="448.54" y2="32.31" stroke="#9b00e0" stroke-width="0.95" />
<line x1="443.14" y1="38.55" x2="448.54" y2="38.55" stroke="#9b00e0" stroke-width="0.95" />
<line x1="464.33" y1="24.73" x2="464.33" y2="37.2" stroke="#9b00e0" stroke-width="0.95" />
<line x1="461.63" y1="24.73" x2="467.03" y2="24.73" stroke="#9b00e0" stroke-width="0.95" />
<line x1="461.63" y1="37.2" x2="467.03" y2="37.2" stroke="#9b00e0" stroke-width="0.95" />
<line x1="482.81" y1="21.51" x2="482.81" y2="33.97" stroke="#9b00e0" stroke-width="0.95" />
<line x1="480.11" y1="21.51" x2="485.51" y2="21.51" stroke="#9b00e0" stroke-width="0.95" />
<line x1="480.11" y1="33.97" x2="485.51" y2="33.97" stroke="#9b00e0" stroke-width="0.95" />
<line x1="501.29" y1="51.22" x2="501.29" y2="109.41" stroke="#9b00e0" stroke-width="0.95" />
<line x1="498.59" y1="51.22" x2="503.99" y2="51.22" stroke="#9b00e0" stroke-width="0.95" />
<line x1="498.59" y1="109.41" x2="503.99" y2="109.41" stroke="#9b00e0" stroke-width="0.95" />
<line x1="519.77" y1="100.89" x2="519.77" y2="115.43" stroke="#9b00e0" stroke-width="0.95" />
<line x1="517.07" y1="100.89" x2="522.47" y2="100.89" stroke="#9b00e0" stroke-width="0.95" />
<line x1="517.07" y1="115.43" x2="522.47" y2="115.43" stroke="#9b00e0" stroke-width="0.95" />
<line x1="538.25" y1="113.15" x2="538.25" y2="121.46" stroke="#9b00e0" stroke-width="0.95" />
<line x1="535.55" y1="113.15" x2="540.95" y2="113.15" stroke="#9b00e0" stroke-width="0.95" />
<line x1="535.55" y1="121.46" x2="540.95" y2="121.46" stroke="#9b00e0" stroke-width="0.95" />
<line x1="408.88" y1="32.52" x2="408.88" y2="38.75" stroke="#0000ff" stroke-width="0.95" />
<line x1="406.18" y1="32.52" x2="411.58" y2="32.52" stroke="#0000ff" stroke-width="0.95" />
<line x1="406.18" y1="38.75" x2="411.58" y2="38.75" stroke="#0000ff" stroke-width="0.95" />
<line x1="427.36" y1="30.86" x2="427.36" y2="37.09" stroke="#0000ff" stroke-width="0.95" />
<line x1="424.66" y1="30.86" x2="430.06" y2="30.86" stroke="#0000ff" stroke-width="0.95" />
<line x1="424.66" y1="37.09" x2="430.06" y2="37.09" stroke="#0000ff" stroke-width="0.95" />
<line x1="445.84" y1="31.58" x2="445.84" y2="37.82" stroke="#0000ff" stroke-width="0.95" />
<line x1="443.14" y1="31.58" x2="448.54" y2="31.58" stroke="#0000ff" stroke-width="0.95" />
<line x1="443.14" y1="37.82" x2="448.54" y2="37.82" stroke="#0000ff" stroke-width="0.95" />
<line x1="464.33" y1="21.92" x2="464.33" y2="36.47" stroke="#0000ff" stroke-width="0.95" />
<line x1="461.63" y1="21.92" x2="467.03" y2="21.92" stroke="#0000ff" stroke-width="0.95" />
<line x1="461.63" y1="36.47" x2="467.03" y2="36.47" stroke="#0000ff" stroke-width="0.95" />
<line x1="482.81" y1="19.01" x2="482.81" y2="29.4" stroke="#0000ff" stroke-width="0.95" />
<line x1="480.11" y1="19.01" x2="485.51" y2="19.01" stroke="#0000ff" stroke-width="0.95" />
<line x1="480.11" y1="29.4" x2="485.51" y2="29.4" stroke="#0000ff" stroke-width="0.95" />
<line x1="501.29" y1="14.34" x2="501.29" y2="51.74" stroke="#0000ff" stroke-width="0.95" />
<line x1="498.59" y1="14.34" x2="503.99" y2="14.34" stroke="#0000ff" stroke-width="0.95" />
<line x1="498.59" y1="51.74" x2="503.99" y2="51.74" stroke="#0000ff" stroke-width="0.95" />
<line x1="519.77" y1="53.92" x2="519.77" y2="112.11" stroke="#0000ff" stroke-width="0.95" />
<line x1="517.07" y1="53.92" x2="522.47" y2="53.92" stroke="#0000ff" stroke-width="0.95" />
<line x1="517.07" y1="112.11" x2="522.47" y2="112.11" stroke="#0000ff" stroke-width="0.95" />
<line x1="538.25" y1="96.21" x2="538.25" y2="123.22" stroke="#0000ff" stroke-width="0.95" />
<line x1="535.55" y1="96.21" x2="540.95" y2="96.21" stroke="#0000ff" stroke-width="0.95" />
<line x1="535.55" y1="123.22" x2="540.95" y2="123.22" stroke="#0000ff" stroke-width="0.95" />
<line x1="556.73" y1="108.16" x2="556.73" y2="124.78" stroke="#0000ff" stroke-width="0.95" />
<line x1="554.03" y1="108.16" x2="559.43" y2="108.16" stroke="#0000ff" stroke-width="0.95" />
<line x1="554.03" y1="124.78" x2="559.43" y2="124.78" stroke="#0000ff" stroke-width="0.95" />
<line x1="575.21" y1="122.91" x2="575.21" y2="129.15" stroke="#0000ff" stroke-width="0.95" />
<line x1="572.51" y1="122.91" x2="577.91" y2="122.91" stroke="#0000ff" stroke-width="0.95" />
<line x1="572.51" y1="129.15" x2="577.91" y2="129.15" stroke="#0000ff" stroke-width="0.95" />
<line x1="408.88" y1="36.47" x2="408.88" y2="46.86" stroke="#ff3b3b" stroke-width="0.95" />
<line x1="406.18" y1="36.47" x2="411.58" y2="36.47" stroke="#ff3b3b" stroke-width="0.95" />
<line x1="406.18" y1="46.86" x2="411.58" y2="46.86" stroke="#ff3b3b" stroke-width="0.95" />
<line x1="427.36" y1="32" x2="427.36" y2="48.62" stroke="#ff3b3b" stroke-width="0.95" />
<line x1="424.66" y1="32" x2="430.06" y2="32" stroke="#ff3b3b" stroke-width="0.95" />
<line x1="424.66" y1="48.62" x2="430.06" y2="48.62" stroke="#ff3b3b" stroke-width="0.95" />
<line x1="445.84" y1="32.31" x2="445.84" y2="51.01" stroke="#ff3b3b" stroke-width="0.95" />
<line x1="443.14" y1="32.31" x2="448.54" y2="32.31" stroke="#ff3b3b" stroke-width="0.95" />
<line x1="443.14" y1="51.01" x2="448.54" y2="51.01" stroke="#ff3b3b" stroke-width="0.95" />
<line x1="464.33" y1="103.48" x2="464.33" y2="115.95" stroke="#ff3b3b" stroke-width="0.95" />
<line x1="461.63" y1="103.48" x2="467.03" y2="103.48" stroke="#ff3b3b" stroke-width="0.95" />
<line x1="461.63" y1="115.95" x2="467.03" y2="115.95" stroke="#ff3b3b" stroke-width="0.95" />
<line x1="408.88" y1="24" x2="408.88" y2="32.31" stroke="#000000" stroke-width="0.95" />
<line x1="406.18" y1="24" x2="411.58" y2="24" stroke="#000000" stroke-width="0.95" />
<line x1="406.18" y1="32.31" x2="411.58" y2="32.31" stroke="#000000" stroke-width="0.95" />
<line x1="427.36" y1="22.23" x2="427.36" y2="32.62" stroke="#000000" stroke-width="0.95" />
<line x1="424.66" y1="22.23" x2="430.06" y2="22.23" stroke="#000000" stroke-width="0.95" />
<line x1="424.66" y1="32.62" x2="430.06" y2="32.62" stroke="#000000" stroke-width="0.95" />
<line x1="445.84" y1="24" x2="445.84" y2="32.31" stroke="#000000" stroke-width="0.95" />
<line x1="443.14" y1="24" x2="448.54" y2="24" stroke="#000000" stroke-width="0.95" />
<line x1="443.14" y1="32.31" x2="448.54" y2="32.31" stroke="#000000" stroke-width="0.95" />
<line x1="464.33" y1="69.4" x2="464.33" y2="86.03" stroke="#000000" stroke-width="0.95" />
<line x1="461.63" y1="69.4" x2="467.03" y2="69.4" stroke="#000000" stroke-width="0.95" />
<line x1="461.63" y1="86.03" x2="467.03" y2="86.03" stroke="#000000" stroke-width="0.95" />
<line x1="482.81" y1="107.54" x2="482.81" y2="115.85" stroke="#000000" stroke-width="0.95" />
<line x1="480.11" y1="107.54" x2="485.51" y2="107.54" stroke="#000000" stroke-width="0.95" />
<line x1="480.11" y1="115.85" x2="485.51" y2="115.85" stroke="#000000" stroke-width="0.95" />
<line x1="501.29" y1="118.03" x2="501.29" y2="124.26" stroke="#000000" stroke-width="0.95" />
<line x1="498.59" y1="118.03" x2="503.99" y2="118.03" stroke="#000000" stroke-width="0.95" />
<line x1="498.59" y1="124.26" x2="503.99" y2="124.26" stroke="#000000" stroke-width="0.95" />
<circle cx="408.88" cy="43.74" r="2.7" fill="#9b00e0"/>
<circle cx="427.36" cy="35.64" r="2.7" fill="#9b00e0"/>
<circle cx="445.84" cy="35.43" r="2.7" fill="#9b00e0"/>
<circle cx="464.33" cy="30.96" r="2.7" fill="#9b00e0"/>
<circle cx="482.81" cy="27.74" r="2.7" fill="#9b00e0"/>
<circle cx="501.29" cy="80.31" r="2.7" fill="#9b00e0"/>
<circle cx="519.77" cy="108.16" r="2.7" fill="#9b00e0"/>
<circle cx="538.25" cy="117.3" r="2.7" fill="#9b00e0"/>
<circle cx="556.73" cy="126.03" r="2.7" fill="#9b00e0"/>
<circle cx="575.21" cy="126.86" r="2.7" fill="#9b00e0"/>
<circle cx="408.88" cy="35.64" r="2.7" fill="#0000ff"/>
<circle cx="427.36" cy="33.97" r="2.7" fill="#0000ff"/>
<circle cx="445.84" cy="34.7" r="2.7" fill="#0000ff"/>
<circle cx="464.33" cy="29.2" r="2.7" fill="#0000ff"/>
<circle cx="482.81" cy="24.21" r="2.7" fill="#0000ff"/>
<circle cx="501.29" cy="33.04" r="2.7" fill="#0000ff"/>
<circle cx="519.77" cy="83.02" r="2.7" fill="#0000ff"/>
<circle cx="538.25" cy="109.72" r="2.7" fill="#0000ff"/>
<circle cx="556.73" cy="116.47" r="2.7" fill="#0000ff"/>
<circle cx="575.21" cy="126.03" r="2.7" fill="#0000ff"/>
<circle cx="408.88" cy="41.66" r="2.7" fill="#ff3b3b"/>
<circle cx="427.36" cy="40.31" r="2.7" fill="#ff3b3b"/>
<circle cx="445.84" cy="41.66" r="2.7" fill="#ff3b3b"/>
<circle cx="464.33" cy="109.72" r="2.7" fill="#ff3b3b"/>
<circle cx="482.81" cy="124.58" r="2.7" fill="#ff3b3b"/>
<circle cx="501.29" cy="127.59" r="2.7" fill="#ff3b3b"/>
<circle cx="519.77" cy="127.59" r="2.7" fill="#ff3b3b"/>
<circle cx="538.25" cy="127.59" r="2.7" fill="#ff3b3b"/>
<circle cx="556.73" cy="127.59" r="2.7" fill="#ff3b3b"/>
<circle cx="575.21" cy="127.59" r="2.7" fill="#ff3b3b"/>
<circle cx="408.88" cy="28.16" r="2.7" fill="#000000"/>
<circle cx="427.36" cy="27.43" r="2.7" fill="#000000"/>
<circle cx="445.84" cy="28.16" r="2.7" fill="#000000"/>
<circle cx="464.33" cy="77.72" r="2.7" fill="#000000"/>
<circle cx="482.81" cy="111.69" r="2.7" fill="#000000"/>
<circle cx="501.29" cy="121.15" r="2.7" fill="#000000"/>
<circle cx="519.77" cy="125.2" r="2.7" fill="#000000"/>
<circle cx="538.25" cy="125.82" r="2.7" fill="#000000"/>
<circle cx="556.73" cy="126.86" r="2.7" fill="#000000"/>
<circle cx="575.21" cy="126.86" r="2.7" fill="#000000"/>
<line x1="576.6" y1="19.4" x2="590.2" y2="19.4" stroke="#000000" stroke-width="1.3" />
<circle cx="583.4" cy="19.4" r="2.3" fill="#000000"/>
<text x="597.4" y="22.4" font-size="8.5" text-anchor="start" fill="#000" >M<tspan font-size="6.6" dy="-2.8">pro</tspan><tspan dy="2.8">-WT</tspan></text>
<line x1="576.6" y1="30.9" x2="590.2" y2="30.9" stroke="#ff3b3b" stroke-width="1.3" />
<circle cx="583.4" cy="30.9" r="2.3" fill="#ff3b3b"/>
<text x="597.4" y="33.9" font-size="8.5" text-anchor="start" fill="#000" >M<tspan font-size="6.6" dy="-2.8">pro</tspan><tspan dy="2.8">-T45I</tspan></text>
<line x1="576.6" y1="42.4" x2="590.2" y2="42.4" stroke="#0000ff" stroke-width="1.3" />
<circle cx="583.4" cy="42.4" r="2.3" fill="#0000ff"/>
<text x="597.4" y="45.4" font-size="8.5" text-anchor="start" fill="#000" >M<tspan font-size="6.6" dy="-2.8">pro</tspan><tspan dy="2.8">-Δ23G</tspan></text>
<line x1="576.6" y1="53.7" x2="590.2" y2="53.7" stroke="#9b00e0" stroke-width="1.3" />
<circle cx="583.4" cy="53.7" r="2.3" fill="#9b00e0"/>
<text x="597.4" y="56.7" font-size="8.5" text-anchor="start" fill="#000" >M<tspan font-size="6.6" dy="-2.8">pro</tspan><tspan dy="2.8">-Δ23G/T45I</tspan></text>
<text x="-0.6" y="177.2" font-size="9.6" text-anchor="start" fill="#000" font-weight="bold">c</text>
<line x1="47.5" y1="246.03" x2="289.3" y2="246.03" stroke="#000" stroke-width="1.25" stroke-dasharray="1.4 2.36"/>
<line x1="44.3" y1="172.35" x2="44.3" y2="298.75" stroke="#000" stroke-width="1.8" />
<line x1="43.4" y1="297.85" x2="291.2" y2="297.85" stroke="#000" stroke-width="1.8" />
<line x1="39.3" y1="297.85" x2="44.3" y2="297.85" stroke="#000" stroke-width="1.6" />
<line x1="39.3" y1="245.73" x2="44.3" y2="245.73" stroke="#000" stroke-width="1.6" />
<line x1="39.3" y1="193.6" x2="44.3" y2="193.6" stroke="#000" stroke-width="1.6" />
<line x1="41.3" y1="271.79" x2="44.3" y2="271.79" stroke="#000" stroke-width="1.6" />
<line x1="41.3" y1="219.66" x2="44.3" y2="219.66" stroke="#000" stroke-width="1.6" />
<line x1="44.3" y1="297.85" x2="44.3" y2="303.55" stroke="#000" stroke-width="1.6" />
<line x1="59.67" y1="297.85" x2="59.67" y2="301.05" stroke="#000" stroke-width="1.6" />
<line x1="75.05" y1="297.85" x2="75.05" y2="301.05" stroke="#000" stroke-width="1.6" />
<line x1="90.42" y1="297.85" x2="90.42" y2="301.05" stroke="#000" stroke-width="1.6" />
<line x1="105.8" y1="297.85" x2="105.8" y2="303.55" stroke="#000" stroke-width="1.6" />
<line x1="121.17" y1="297.85" x2="121.17" y2="301.05" stroke="#000" stroke-width="1.6" />
<line x1="136.55" y1="297.85" x2="136.55" y2="301.05" stroke="#000" stroke-width="1.6" />
<line x1="151.93" y1="297.85" x2="151.93" y2="301.05" stroke="#000" stroke-width="1.6" />
<line x1="167.3" y1="297.85" x2="167.3" y2="303.55" stroke="#000" stroke-width="1.6" />
<line x1="182.68" y1="297.85" x2="182.68" y2="301.05" stroke="#000" stroke-width="1.6" />
<line x1="198.05" y1="297.85" x2="198.05" y2="301.05" stroke="#000" stroke-width="1.6" />
<line x1="213.43" y1="297.85" x2="213.43" y2="301.05" stroke="#000" stroke-width="1.6" />
<line x1="228.8" y1="297.85" x2="228.8" y2="303.55" stroke="#000" stroke-width="1.6" />
<line x1="244.18" y1="297.85" x2="244.18" y2="301.05" stroke="#000" stroke-width="1.6" />
<line x1="259.55" y1="297.85" x2="259.55" y2="301.05" stroke="#000" stroke-width="1.6" />
<line x1="274.93" y1="297.85" x2="274.93" y2="301.05" stroke="#000" stroke-width="1.6" />
<line x1="290.3" y1="297.85" x2="290.3" y2="303.55" stroke="#000" stroke-width="1.6" />
<text x="37.7" y="301.05" font-size="9.0" text-anchor="end" fill="#000" >0</text>
<text x="37.7" y="248.93" font-size="9.0" text-anchor="end" fill="#000" >50</text>
<text x="37.7" y="196.8" font-size="9.0" text-anchor="end" fill="#000" >100</text>
<text x="44.3" y="313.65" font-size="9.0" text-anchor="middle" fill="#000" >2</text>
<text x="105.8" y="313.65" font-size="9.0" text-anchor="middle" fill="#000" >1</text>
<text x="167.3" y="313.65" font-size="9.0" text-anchor="middle" fill="#000" >0</text>
<text x="227.3" y="313.65" font-size="9.0" text-anchor="middle" fill="#000" >-1</text>
<text x="288.8" y="313.65" font-size="9.0" text-anchor="middle" fill="#000" >-2</text>
<text x="235.4" y="310.85" font-size="9.0" text-anchor="middle" fill="#000" >0</text>
<text transform="translate(9.9,234.47) rotate(-90)" font-size="9.35" text-anchor="middle">Cell viability (%)</text>
<text x="167.3" y="327.45" font-size="9.35" text-anchor="middle">Log<tspan font-size="6.3" dy="2.2">10</tspan><tspan dy="-2.2"> [remdesivir] μM</tspan></text>
<polyline points="62.81,193.6 64.2,193.6 65.59,193.6 66.98,193.6 68.36,193.6 69.75,193.6 71.14,193.6 72.53,193.6 73.92,193.6 75.31,193.6 76.7,193.6 78.08,193.6 79.47,193.61 80.86,193.61 82.25,193.61 83.64,193.61 85.03,193.62 86.41,193.62 87.8,193.63 89.19,193.63 90.58,193.65 91.97,193.66 93.36,193.68 94.74,193.7 96.13,193.73 97.52,193.77 98.91,193.81 100.3,193.88 101.69,193.96 103.07,194.07 104.46,194.21 105.85,194.38 107.24,194.61 108.63,194.91 110.02,195.29 111.4,195.79 112.79,196.42 114.18,197.22 115.57,198.25 116.96,199.55 118.35,201.19 119.73,203.23 121.12,205.76 122.51,208.84 123.9,212.54 125.29,216.91 126.68,221.95 128.06,227.62 129.45,233.82 130.84,240.4 132.23,247.15 133.62,253.86 135.01,260.3 136.39,266.29 137.78,271.7 139.17,276.46 140.56,280.54 141.95,283.98 143.34,286.82 144.72,289.13 146.11,290.99 147.5,292.48 148.89,293.66 150.28,294.59 151.67,295.32 153.06,295.89 154.44,296.33 155.83,296.67 157.22,296.94 158.61,297.15 160,297.31 161.39,297.43 162.77,297.53 164.16,297.6 165.55,297.66 166.94,297.7 168.33,297.74 169.72,297.76 171.1,297.78 172.49,297.8 173.88,297.81 175.27,297.82 176.66,297.83 178.05,297.83 179.43,297.84 180.82,297.84 182.21,297.84 183.6,297.84 184.99,297.84 186.38,297.85 187.76,297.85 189.15,297.85 190.54,297.85 191.93,297.85 193.32,297.85 194.71,297.85 196.09,297.85 197.48,297.85 198.87,297.85 200.26,297.85 201.65,297.85 203.04,297.85 204.42,297.85 205.81,297.85 207.2,297.85 208.59,297.85 209.98,297.85 211.37,297.85 212.75,297.85 214.14,297.85 215.53,297.85 216.92,297.85 218.31,297.85 219.7,297.85 221.08,297.85 222.47,297.85 223.86,297.85 225.25,297.85 226.64,297.85 228.03,297.85 229.41,297.85" fill="none" stroke="#9b00e0" stroke-width="1.45" stroke-linejoin="round" />
<polyline points="62.81,193.61 64.2,193.61 65.59,193.61 66.98,193.61 68.36,193.62 69.75,193.62 71.14,193.62 72.53,193.62 73.92,193.63 75.31,193.63 76.7,193.64 78.08,193.64 79.47,193.65 80.86,193.66 82.25,193.67 83.64,193.68 85.03,193.7 86.41,193.71 87.8,193.73 89.19,193.75 90.58,193.77 91.97,193.8 93.36,193.84 94.74,193.87 96.13,193.92 97.52,193.97 98.91,194.03 100.3,194.1 101.69,194.18 103.07,194.27 104.46,194.38 105.85,194.51 107.24,194.65 108.63,194.82 110.02,195.02 111.4,195.25 112.79,195.51 114.18,195.81 115.57,196.16 116.96,196.57 118.35,197.04 119.73,197.57 121.12,198.19 122.51,198.9 123.9,199.71 125.29,200.64 126.68,201.7 128.06,202.9 129.45,204.26 130.84,205.79 132.23,207.51 133.62,209.42 135.01,211.56 136.39,213.91 137.78,216.49 139.17,219.29 140.56,222.32 141.95,225.56 143.34,229 144.72,232.6 146.11,236.34 147.5,240.19 148.89,244.1 150.28,248.03 151.67,251.93 153.06,255.76 154.44,259.48 155.83,263.06 157.22,266.46 158.61,269.66 160,272.66 161.39,275.42 162.77,277.96 164.16,280.28 165.55,282.37 166.94,284.25 168.33,285.94 169.72,287.44 171.1,288.77 172.49,289.94 173.88,290.98 175.27,291.88 176.66,292.68 178.05,293.37 179.43,293.97 180.82,294.5 182.21,294.95 183.6,295.35 184.99,295.69 186.38,295.99 187.76,296.25 189.15,296.47 190.54,296.66 191.93,296.82 193.32,296.97 194.71,297.09 196.09,297.19 197.48,297.29 198.87,297.36 200.26,297.43 201.65,297.49 203.04,297.54 204.42,297.58 205.81,297.62 207.2,297.65 208.59,297.68 209.98,297.7 211.37,297.72 212.75,297.74 214.14,297.76 215.53,297.77 216.92,297.78 218.31,297.79 219.7,297.8 221.08,297.81 222.47,297.81 223.86,297.82 225.25,297.82 226.64,297.83 228.03,297.83 229.41,297.83" fill="none" stroke="#0000ff" stroke-width="1.45" stroke-linejoin="round" />
<polyline points="62.81,193.61 64.2,193.61 65.59,193.61 66.98,193.61 68.36,193.62 69.75,193.62 71.14,193.63 72.53,193.63 73.92,193.64 75.31,193.65 76.7,193.66 78.08,193.67 79.47,193.69 80.86,193.71 82.25,193.74 83.64,193.77 85.03,193.81 86.41,193.86 87.8,193.92 89.19,193.99 90.58,194.08 91.97,194.19 93.36,194.33 94.74,194.49 96.13,194.7 97.52,194.95 98.91,195.26 100.3,195.63 101.69,196.09 103.07,196.65 104.46,197.33 105.85,198.15 107.24,199.15 108.63,200.34 110.02,201.78 111.4,203.49 112.79,205.52 114.18,207.89 115.57,210.66 116.96,213.83 118.35,217.44 119.73,221.48 121.12,225.92 122.51,230.73 123.9,235.84 125.29,241.15 126.68,246.55 128.06,251.94 129.45,257.2 130.84,262.22 132.23,266.93 133.62,271.25 135.01,275.16 136.39,278.63 137.78,281.68 139.17,284.32 140.56,286.59 141.95,288.51 143.34,290.14 144.72,291.5 146.11,292.63 147.5,293.57 148.89,294.35 150.28,294.99 151.67,295.51 153.06,295.94 154.44,296.29 155.83,296.58 157.22,296.82 158.61,297.01 160,297.17 161.39,297.29 162.77,297.4 164.16,297.48 165.55,297.55 166.94,297.61 168.33,297.65 169.72,297.69 171.1,297.72 172.49,297.74 173.88,297.76 175.27,297.78 176.66,297.79 178.05,297.8 179.43,297.81 180.82,297.82 182.21,297.83 183.6,297.83 184.99,297.83 186.38,297.84 187.76,297.84 189.15,297.84 190.54,297.84 191.93,297.84 193.32,297.85 194.71,297.85 196.09,297.85 197.48,297.85 198.87,297.85 200.26,297.85 201.65,297.85 203.04,297.85 204.42,297.85 205.81,297.85 207.2,297.85 208.59,297.85 209.98,297.85 211.37,297.85 212.75,297.85 214.14,297.85 215.53,297.85 216.92,297.85 218.31,297.85 219.7,297.85 221.08,297.85 222.47,297.85 223.86,297.85 225.25,297.85 226.64,297.85 228.03,297.85 229.41,297.85" fill="none" stroke="#ff3b3b" stroke-width="1.45" stroke-linejoin="round" />
<polyline points="62.81,194.08 64.2,194.13 65.59,194.18 66.98,194.24 68.36,194.31 69.75,194.38 71.14,194.46 72.53,194.55 73.92,194.65 75.31,194.76 76.7,194.88 78.08,195.01 79.47,195.15 80.86,195.31 82.25,195.49 83.64,195.68 85.03,195.89 86.41,196.12 87.8,196.38 89.19,196.66 90.58,196.96 91.97,197.3 93.36,197.67 94.74,198.07 96.13,198.51 97.52,199 98.91,199.53 100.3,200.1 101.69,200.73 103.07,201.42 104.46,202.16 105.85,202.97 107.24,203.85 108.63,204.8 110.02,205.82 111.4,206.93 112.79,208.12 114.18,209.4 115.57,210.77 116.96,212.23 118.35,213.79 119.73,215.45 121.12,217.2 122.51,219.06 123.9,221 125.29,223.04 126.68,225.17 128.06,227.39 129.45,229.68 130.84,232.05 132.23,234.47 133.62,236.95 135.01,239.47 136.39,242.02 137.78,244.59 139.17,247.16 140.56,249.73 141.95,252.28 143.34,254.79 144.72,257.27 146.11,259.69 147.5,262.04 148.89,264.33 150.28,266.53 151.67,268.65 153.06,270.68 154.44,272.62 155.83,274.46 157.22,276.2 158.61,277.85 160,279.4 161.39,280.85 162.77,282.21 164.16,283.48 165.55,284.66 166.94,285.75 168.33,286.77 169.72,287.71 171.1,288.58 172.49,289.38 173.88,290.12 175.27,290.8 176.66,291.42 178.05,291.99 179.43,292.51 180.82,292.99 182.21,293.43 183.6,293.83 184.99,294.19 186.38,294.53 187.76,294.83 189.15,295.11 190.54,295.36 191.93,295.59 193.32,295.8 194.71,295.99 196.09,296.16 197.48,296.31 198.87,296.46 200.26,296.59 201.65,296.7 203.04,296.81 204.42,296.91 205.81,297 207.2,297.08 208.59,297.15 209.98,297.21 211.37,297.27 212.75,297.33 214.14,297.38 215.53,297.42 216.92,297.46 218.31,297.5 219.7,297.53 221.08,297.56 222.47,297.59 223.86,297.61 225.25,297.63 226.64,297.65 228.03,297.67 229.41,297.69" fill="none" stroke="#000000" stroke-width="1.45" stroke-linejoin="round" />
<line x1="62.81" y1="208.2" x2="62.81" y2="226.96" stroke="#9b00e0" stroke-width="0.95" />
<line x1="60.11" y1="208.2" x2="65.51" y2="208.2" stroke="#9b00e0" stroke-width="0.95" />
<line x1="60.11" y1="226.96" x2="65.51" y2="226.96" stroke="#9b00e0" stroke-width="0.95" />
<line x1="81.32" y1="198.81" x2="81.32" y2="213.41" stroke="#9b00e0" stroke-width="0.95" />
<line x1="78.62" y1="198.81" x2="84.02" y2="198.81" stroke="#9b00e0" stroke-width="0.95" />
<line x1="78.62" y1="213.41" x2="84.02" y2="213.41" stroke="#9b00e0" stroke-width="0.95" />
<line x1="99.83" y1="194.64" x2="99.83" y2="200.9" stroke="#9b00e0" stroke-width="0.95" />
<line x1="97.13" y1="194.64" x2="102.53" y2="194.64" stroke="#9b00e0" stroke-width="0.95" />
<line x1="97.13" y1="200.9" x2="102.53" y2="200.9" stroke="#9b00e0" stroke-width="0.95" />
<line x1="118.35" y1="185.26" x2="118.35" y2="201.94" stroke="#9b00e0" stroke-width="0.95" />
<line x1="115.65" y1="185.26" x2="121.05" y2="185.26" stroke="#9b00e0" stroke-width="0.95" />
<line x1="115.65" y1="201.94" x2="121.05" y2="201.94" stroke="#9b00e0" stroke-width="0.95" />
<line x1="136.86" y1="249.9" x2="136.86" y2="272.83" stroke="#9b00e0" stroke-width="0.95" />
<line x1="134.16" y1="249.9" x2="139.56" y2="249.9" stroke="#9b00e0" stroke-width="0.95" />
<line x1="134.16" y1="272.83" x2="139.56" y2="272.83" stroke="#9b00e0" stroke-width="0.95" />
<line x1="155.37" y1="280.13" x2="155.37" y2="288.47" stroke="#9b00e0" stroke-width="0.95" />
<line x1="152.67" y1="280.13" x2="158.07" y2="280.13" stroke="#9b00e0" stroke-width="0.95" />
<line x1="152.67" y1="288.47" x2="158.07" y2="288.47" stroke="#9b00e0" stroke-width="0.95" />
<line x1="62.81" y1="210.91" x2="62.81" y2="227.59" stroke="#0000ff" stroke-width="0.95" />
<line x1="60.11" y1="210.91" x2="65.51" y2="210.91" stroke="#0000ff" stroke-width="0.95" />
<line x1="60.11" y1="227.59" x2="65.51" y2="227.59" stroke="#0000ff" stroke-width="0.95" />
<line x1="81.32" y1="199.44" x2="81.32" y2="216.12" stroke="#0000ff" stroke-width="0.95" />
<line x1="78.62" y1="199.44" x2="84.02" y2="199.44" stroke="#0000ff" stroke-width="0.95" />
<line x1="78.62" y1="216.12" x2="84.02" y2="216.12" stroke="#0000ff" stroke-width="0.95" />
<line x1="99.83" y1="194.02" x2="99.83" y2="200.27" stroke="#0000ff" stroke-width="0.95" />
<line x1="97.13" y1="194.02" x2="102.53" y2="194.02" stroke="#0000ff" stroke-width="0.95" />
<line x1="97.13" y1="200.27" x2="102.53" y2="200.27" stroke="#0000ff" stroke-width="0.95" />
<line x1="118.35" y1="191.52" x2="118.35" y2="197.77" stroke="#0000ff" stroke-width="0.95" />
<line x1="115.65" y1="191.52" x2="121.05" y2="191.52" stroke="#0000ff" stroke-width="0.95" />
<line x1="115.65" y1="197.77" x2="121.05" y2="197.77" stroke="#0000ff" stroke-width="0.95" />
<line x1="136.86" y1="190.89" x2="136.86" y2="234.67" stroke="#0000ff" stroke-width="0.95" />
<line x1="134.16" y1="190.89" x2="139.56" y2="190.89" stroke="#0000ff" stroke-width="0.95" />
<line x1="134.16" y1="234.67" x2="139.56" y2="234.67" stroke="#0000ff" stroke-width="0.95" />
<line x1="155.37" y1="262.61" x2="155.37" y2="275.12" stroke="#0000ff" stroke-width="0.95" />
<line x1="152.67" y1="262.61" x2="158.07" y2="262.61" stroke="#0000ff" stroke-width="0.95" />
<line x1="152.67" y1="275.12" x2="158.07" y2="275.12" stroke="#0000ff" stroke-width="0.95" />
<line x1="173.88" y1="276.27" x2="173.88" y2="286.7" stroke="#0000ff" stroke-width="0.95" />
<line x1="171.18" y1="276.27" x2="176.58" y2="276.27" stroke="#0000ff" stroke-width="0.95" />
<line x1="171.18" y1="286.7" x2="176.58" y2="286.7" stroke="#0000ff" stroke-width="0.95" />
<line x1="192.39" y1="286.8" x2="192.39" y2="295.14" stroke="#0000ff" stroke-width="0.95" />
<line x1="189.69" y1="286.8" x2="195.09" y2="286.8" stroke="#0000ff" stroke-width="0.95" />
<line x1="189.69" y1="295.14" x2="195.09" y2="295.14" stroke="#0000ff" stroke-width="0.95" />
<line x1="210.9" y1="286.8" x2="210.9" y2="295.14" stroke="#0000ff" stroke-width="0.95" />
<line x1="208.2" y1="286.8" x2="213.6" y2="286.8" stroke="#0000ff" stroke-width="0.95" />
<line x1="208.2" y1="295.14" x2="213.6" y2="295.14" stroke="#0000ff" stroke-width="0.95" />
<line x1="229.41" y1="286.8" x2="229.41" y2="295.14" stroke="#0000ff" stroke-width="0.95" />
<line x1="226.71" y1="286.8" x2="232.11" y2="286.8" stroke="#0000ff" stroke-width="0.95" />
<line x1="226.71" y1="295.14" x2="232.11" y2="295.14" stroke="#0000ff" stroke-width="0.95" />
<line x1="62.81" y1="200.17" x2="62.81" y2="206.42" stroke="#ff3b3b" stroke-width="0.95" />
<line x1="60.11" y1="200.17" x2="65.51" y2="200.17" stroke="#ff3b3b" stroke-width="0.95" />
<line x1="60.11" y1="206.42" x2="65.51" y2="206.42" stroke="#ff3b3b" stroke-width="0.95" />
<line x1="81.32" y1="195.69" x2="81.32" y2="208.2" stroke="#ff3b3b" stroke-width="0.95" />
<line x1="78.62" y1="195.69" x2="84.02" y2="195.69" stroke="#ff3b3b" stroke-width="0.95" />
<line x1="78.62" y1="208.2" x2="84.02" y2="208.2" stroke="#ff3b3b" stroke-width="0.95" />
<line x1="99.83" y1="195.16" x2="99.83" y2="201.42" stroke="#ff3b3b" stroke-width="0.95" />
<line x1="97.13" y1="195.16" x2="102.53" y2="195.16" stroke="#ff3b3b" stroke-width="0.95" />
<line x1="97.13" y1="201.42" x2="102.53" y2="201.42" stroke="#ff3b3b" stroke-width="0.95" />
<line x1="118.35" y1="207.78" x2="118.35" y2="214.03" stroke="#ff3b3b" stroke-width="0.95" />
<line x1="115.65" y1="207.78" x2="121.05" y2="207.78" stroke="#ff3b3b" stroke-width="0.95" />
<line x1="115.65" y1="214.03" x2="121.05" y2="214.03" stroke="#ff3b3b" stroke-width="0.95" />
<line x1="62.81" y1="197.77" x2="62.81" y2="204.03" stroke="#000000" stroke-width="0.95" />
<line x1="60.11" y1="197.77" x2="65.51" y2="197.77" stroke="#000000" stroke-width="0.95" />
<line x1="60.11" y1="204.03" x2="65.51" y2="204.03" stroke="#000000" stroke-width="0.95" />
<line x1="81.32" y1="197.98" x2="81.32" y2="206.32" stroke="#000000" stroke-width="0.95" />
<line x1="78.62" y1="197.98" x2="84.02" y2="197.98" stroke="#000000" stroke-width="0.95" />
<line x1="78.62" y1="206.32" x2="84.02" y2="206.32" stroke="#000000" stroke-width="0.95" />
<line x1="118.35" y1="210.38" x2="118.35" y2="216.64" stroke="#000000" stroke-width="0.95" />
<line x1="115.65" y1="210.38" x2="121.05" y2="210.38" stroke="#000000" stroke-width="0.95" />
<line x1="115.65" y1="216.64" x2="121.05" y2="216.64" stroke="#000000" stroke-width="0.95" />
<line x1="136.86" y1="225.29" x2="136.86" y2="246.14" stroke="#000000" stroke-width="0.95" />
<line x1="134.16" y1="225.29" x2="139.56" y2="225.29" stroke="#000000" stroke-width="0.95" />
<line x1="134.16" y1="246.14" x2="139.56" y2="246.14" stroke="#000000" stroke-width="0.95" />
<line x1="155.37" y1="280.23" x2="155.37" y2="286.49" stroke="#000000" stroke-width="0.95" />
<line x1="152.67" y1="280.23" x2="158.07" y2="280.23" stroke="#000000" stroke-width="0.95" />
<line x1="152.67" y1="286.49" x2="158.07" y2="286.49" stroke="#000000" stroke-width="0.95" />
<circle cx="62.81" cy="217.58" r="2.7" fill="#9b00e0"/>
<circle cx="81.32" cy="206.11" r="2.7" fill="#9b00e0"/>
<circle cx="99.83" cy="197.77" r="2.7" fill="#9b00e0"/>
<circle cx="118.35" cy="193.6" r="2.7" fill="#9b00e0"/>
<circle cx="136.86" cy="261.36" r="2.7" fill="#9b00e0"/>
<circle cx="155.37" cy="284.3" r="2.7" fill="#9b00e0"/>
<circle cx="173.88" cy="294.72" r="2.7" fill="#9b00e0"/>
<circle cx="192.39" cy="296.81" r="2.7" fill="#9b00e0"/>
<circle cx="210.9" cy="296.81" r="2.7" fill="#9b00e0"/>
<circle cx="229.41" cy="296.81" r="2.7" fill="#9b00e0"/>
<circle cx="62.81" cy="219.25" r="2.7" fill="#0000ff"/>
<circle cx="81.32" cy="207.78" r="2.7" fill="#0000ff"/>
<circle cx="99.83" cy="197.14" r="2.7" fill="#0000ff"/>
<circle cx="118.35" cy="194.64" r="2.7" fill="#0000ff"/>
<circle cx="136.86" cy="212.78" r="2.7" fill="#0000ff"/>
<circle cx="155.37" cy="268.87" r="2.7" fill="#0000ff"/>
<circle cx="173.88" cy="281.48" r="2.7" fill="#0000ff"/>
<circle cx="192.39" cy="290.97" r="2.7" fill="#0000ff"/>
<circle cx="210.9" cy="290.97" r="2.7" fill="#0000ff"/>
<circle cx="229.41" cy="290.97" r="2.7" fill="#0000ff"/>
<circle cx="62.81" cy="203.3" r="2.7" fill="#ff3b3b"/>
<circle cx="81.32" cy="201.94" r="2.7" fill="#ff3b3b"/>
<circle cx="99.83" cy="198.29" r="2.7" fill="#ff3b3b"/>
<circle cx="118.35" cy="210.91" r="2.7" fill="#ff3b3b"/>
<circle cx="136.86" cy="282.21" r="2.7" fill="#ff3b3b"/>
<circle cx="155.37" cy="293.68" r="2.7" fill="#ff3b3b"/>
<circle cx="173.88" cy="296.81" r="2.7" fill="#ff3b3b"/>
<circle cx="192.39" cy="296.81" r="2.7" fill="#ff3b3b"/>
<circle cx="210.9" cy="296.81" r="2.7" fill="#ff3b3b"/>
<circle cx="229.41" cy="296.81" r="2.7" fill="#ff3b3b"/>
<circle cx="62.81" cy="200.9" r="2.7" fill="#000000"/>
<circle cx="81.32" cy="202.15" r="2.7" fill="#000000"/>
<circle cx="99.83" cy="204.03" r="2.7" fill="#000000"/>
<circle cx="118.35" cy="213.51" r="2.7" fill="#000000"/>
<circle cx="136.86" cy="235.72" r="2.7" fill="#000000"/>
<circle cx="155.37" cy="283.36" r="2.7" fill="#000000"/>
<circle cx="173.88" cy="292.53" r="2.7" fill="#000000"/>
<circle cx="192.39" cy="296.81" r="2.7" fill="#000000"/>
<circle cx="210.9" cy="296.81" r="2.7" fill="#000000"/>
<circle cx="229.41" cy="296.81" r="2.7" fill="#000000"/>
<line x1="230.5" y1="186.9" x2="244.1" y2="186.9" stroke="#000000" stroke-width="1.3" />
<circle cx="237.3" cy="186.9" r="2.3" fill="#000000"/>
<text x="251.3" y="189.9" font-size="8.5" text-anchor="start" fill="#000" >M<tspan font-size="6.6" dy="-2.8">pro</tspan><tspan dy="2.8">-WT</tspan></text>
<line x1="230.5" y1="198.4" x2="244.1" y2="198.4" stroke="#ff3b3b" stroke-width="1.3" />
<circle cx="237.3" cy="198.4" r="2.3" fill="#ff3b3b"/>
<text x="251.3" y="201.4" font-size="8.5" text-anchor="start" fill="#000" >M<tspan font-size="6.6" dy="-2.8">pro</tspan><tspan dy="2.8">-T45I</tspan></text>
<line x1="230.5" y1="209.9" x2="244.1" y2="209.9" stroke="#0000ff" stroke-width="1.3" />
<circle cx="237.3" cy="209.9" r="2.3" fill="#0000ff"/>
<text x="251.3" y="212.9" font-size="8.5" text-anchor="start" fill="#000" >M<tspan font-size="6.6" dy="-2.8">pro</tspan><tspan dy="2.8">-Δ23G</tspan></text>
<line x1="230.5" y1="221.2" x2="244.1" y2="221.2" stroke="#9b00e0" stroke-width="1.3" />
<circle cx="237.3" cy="221.2" r="2.3" fill="#9b00e0"/>
<text x="251.3" y="224.2" font-size="8.5" text-anchor="start" fill="#000" >M<tspan font-size="6.6" dy="-2.8">pro</tspan><tspan dy="2.8">-Δ23G/T45I</tspan></text>
<text x="344.6" y="178.3" font-size="9.6" text-anchor="start" fill="#000" font-weight="bold">d</text>
<line x1="393.6" y1="246.03" x2="635" y2="246.03" stroke="#000" stroke-width="1.25" stroke-dasharray="1.4 2.36"/>
<line x1="390.4" y1="172.35" x2="390.4" y2="298.75" stroke="#000" stroke-width="1.8" />
<line x1="389.5" y1="297.85" x2="636.9" y2="297.85" stroke="#000" stroke-width="1.8" />
<line x1="385.4" y1="297.85" x2="390.4" y2="297.85" stroke="#000" stroke-width="1.6" />
<line x1="385.4" y1="245.73" x2="390.4" y2="245.73" stroke="#000" stroke-width="1.6" />
<line x1="385.4" y1="193.6" x2="390.4" y2="193.6" stroke="#000" stroke-width="1.6" />
<line x1="387.4" y1="271.79" x2="390.4" y2="271.79" stroke="#000" stroke-width="1.6" />
<line x1="387.4" y1="219.66" x2="390.4" y2="219.66" stroke="#000" stroke-width="1.6" />
<line x1="390.4" y1="297.85" x2="390.4" y2="303.55" stroke="#000" stroke-width="1.6" />
<line x1="405.75" y1="297.85" x2="405.75" y2="301.05" stroke="#000" stroke-width="1.6" />
<line x1="421.1" y1="297.85" x2="421.1" y2="301.05" stroke="#000" stroke-width="1.6" />
<line x1="436.45" y1="297.85" x2="436.45" y2="301.05" stroke="#000" stroke-width="1.6" />
<line x1="451.8" y1="297.85" x2="451.8" y2="303.55" stroke="#000" stroke-width="1.6" />
<line x1="467.15" y1="297.85" x2="467.15" y2="301.05" stroke="#000" stroke-width="1.6" />
<line x1="482.5" y1="297.85" x2="482.5" y2="301.05" stroke="#000" stroke-width="1.6" />
<line x1="497.85" y1="297.85" x2="497.85" y2="301.05" stroke="#000" stroke-width="1.6" />
<line x1="513.2" y1="297.85" x2="513.2" y2="303.55" stroke="#000" stroke-width="1.6" />
<line x1="528.55" y1="297.85" x2="528.55" y2="301.05" stroke="#000" stroke-width="1.6" />
<line x1="543.9" y1="297.85" x2="543.9" y2="301.05" stroke="#000" stroke-width="1.6" />
<line x1="559.25" y1="297.85" x2="559.25" y2="301.05" stroke="#000" stroke-width="1.6" />
<line x1="574.6" y1="297.85" x2="574.6" y2="303.55" stroke="#000" stroke-width="1.6" />
<line x1="589.95" y1="297.85" x2="589.95" y2="301.05" stroke="#000" stroke-width="1.6" />
<line x1="605.3" y1="297.85" x2="605.3" y2="301.05" stroke="#000" stroke-width="1.6" />
<line x1="620.65" y1="297.85" x2="620.65" y2="301.05" stroke="#000" stroke-width="1.6" />
<line x1="636" y1="297.85" x2="636" y2="303.55" stroke="#000" stroke-width="1.6" />
<text x="383.8" y="301.05" font-size="9.0" text-anchor="end" fill="#000" >0</text>
<text x="383.8" y="248.93" font-size="9.0" text-anchor="end" fill="#000" >50</text>
<text x="383.8" y="196.8" font-size="9.0" text-anchor="end" fill="#000" >100</text>
<text x="390.4" y="313.65" font-size="9.0" text-anchor="middle" fill="#000" >2</text>
<text x="451.8" y="313.65" font-size="9.0" text-anchor="middle" fill="#000" >1</text>
<text x="513.2" y="313.65" font-size="9.0" text-anchor="middle" fill="#000" >0</text>
<text x="573.1" y="313.65" font-size="9.0" text-anchor="middle" fill="#000" >-1</text>
<text x="634.5" y="313.65" font-size="9.0" text-anchor="middle" fill="#000" >-2</text>
<text transform="translate(356,234.47) rotate(-90)" font-size="9.35" text-anchor="middle">Cell viability (%)</text>
<text x="513.2" y="327.45" font-size="9.35" text-anchor="middle">Log<tspan font-size="6.3" dy="2.2">10</tspan><tspan dy="-2.2"> [molnupiravir] μM</tspan></text>
<polyline points="445.84,193.6 447.23,193.6 448.62,193.61 450,193.61 451.39,193.61 452.77,193.61 454.16,193.61 455.55,193.61 456.93,193.61 458.32,193.61 459.71,193.62 461.09,193.62 462.48,193.62 463.86,193.63 465.25,193.63 466.64,193.64 468.02,193.64 469.41,193.65 470.79,193.66 472.18,193.67 473.57,193.68 474.95,193.7 476.34,193.71 477.72,193.73 479.11,193.76 480.5,193.78 481.88,193.81 483.27,193.85 484.66,193.89 486.04,193.94 487.43,193.99 488.81,194.06 490.2,194.14 491.59,194.23 492.97,194.33 494.36,194.46 495.74,194.6 497.13,194.77 498.52,194.96 499.9,195.19 501.29,195.45 502.67,195.76 504.06,196.11 505.45,196.52 506.83,197 508.22,197.55 509.61,198.19 510.99,198.93 512.38,199.77 513.76,200.74 515.15,201.85 516.54,203.12 517.92,204.55 519.31,206.18 520.69,208.01 522.08,210.06 523.47,212.33 524.85,214.85 526.24,217.61 527.62,220.61 529.01,223.85 530.4,227.3 531.78,230.95 533.17,234.77 534.55,238.71 535.94,242.74 537.33,246.8 538.71,250.84 540.1,254.83 541.49,258.71 542.87,262.44 544.26,265.99 545.64,269.33 547.03,272.45 548.42,275.32 549.8,277.96 551.19,280.35 552.57,282.5 553.96,284.43 555.35,286.15 556.73,287.68 558.12,289.02 559.5,290.2 560.89,291.24 562.28,292.14 563.66,292.92 565.05,293.61 566.44,294.2 567.82,294.71 569.21,295.15 570.59,295.53 571.98,295.86 573.37,296.14 574.75,296.39 576.14,296.59 577.52,296.77 578.91,296.93 580.3,297.06 581.68,297.17 583.07,297.27 584.45,297.35 585.84,297.43 587.23,297.49 588.61,297.54 590,297.58 591.39,297.62 592.77,297.65 594.16,297.68 595.54,297.71 596.93,297.73 598.32,297.75 599.7,297.76 601.09,297.77 602.47,297.78 603.86,297.79 605.25,297.8 606.63,297.81 608.02,297.81 609.4,297.82 610.79,297.82 612.18,297.83" fill="none" stroke="#9b00e0" stroke-width="1.45" stroke-linejoin="round" />
<polyline points="445.84,193.6 447.23,193.6 448.62,193.6 450,193.6 451.39,193.6 452.77,193.61 454.16,193.61 455.55,193.61 456.93,193.61 458.32,193.61 459.71,193.61 461.09,193.61 462.48,193.61 463.86,193.62 465.25,193.62 466.64,193.62 468.02,193.63 469.41,193.63 470.79,193.63 472.18,193.64 473.57,193.64 474.95,193.65 476.34,193.66 477.72,193.66 479.11,193.67 480.5,193.69 481.88,193.7 483.27,193.71 484.66,193.73 486.04,193.75 487.43,193.77 488.81,193.79 490.2,193.82 491.59,193.85 492.97,193.89 494.36,193.93 495.74,193.98 497.13,194.03 498.52,194.09 499.9,194.16 501.29,194.24 502.67,194.34 504.06,194.44 505.45,194.56 506.83,194.7 508.22,194.86 509.61,195.03 510.99,195.24 512.38,195.47 513.76,195.74 515.15,196.04 516.54,196.38 517.92,196.77 519.31,197.22 520.69,197.72 522.08,198.29 523.47,198.93 524.85,199.66 526.24,200.48 527.62,201.4 529.01,202.43 530.4,203.59 531.78,204.88 533.17,206.31 534.55,207.9 535.94,209.65 537.33,211.57 538.71,213.67 540.1,215.95 541.49,218.42 542.87,221.06 544.26,223.88 545.64,226.87 547.03,230 548.42,233.26 549.8,236.63 551.19,240.08 552.57,243.58 553.96,247.11 555.35,250.61 556.73,254.08 558.12,257.47 559.5,260.76 560.89,263.92 562.28,266.94 563.66,269.79 565.05,272.48 566.44,274.98 567.82,277.3 569.21,279.44 570.59,281.4 571.98,283.19 573.37,284.81 574.75,286.27 576.14,287.59 577.52,288.78 578.91,289.84 580.3,290.78 581.68,291.62 583.07,292.37 584.45,293.03 585.84,293.61 587.23,294.13 588.61,294.59 590,294.99 591.39,295.34 592.77,295.65 594.16,295.92 595.54,296.16 596.93,296.37 598.32,296.56 599.7,296.72 601.09,296.86 602.47,296.98 603.86,297.09 605.25,297.19 606.63,297.27 608.02,297.34 609.4,297.41 610.79,297.46 612.18,297.51" fill="none" stroke="#0000ff" stroke-width="1.45" stroke-linejoin="round" />
<polyline points="445.84,193.61 447.23,193.61 448.62,193.61 450,193.61 451.39,193.61 452.77,193.62 454.16,193.62 455.55,193.62 456.93,193.63 458.32,193.63 459.71,193.64 461.09,193.65 462.48,193.66 463.86,193.68 465.25,193.7 466.64,193.72 468.02,193.75 469.41,193.78 470.79,193.82 472.18,193.88 473.57,193.94 474.95,194.02 476.34,194.11 477.72,194.23 479.11,194.38 480.5,194.55 481.88,194.77 483.27,195.04 484.66,195.37 486.04,195.77 487.43,196.25 488.81,196.85 490.2,197.57 491.59,198.45 492.97,199.5 494.36,200.77 495.74,202.29 497.13,204.1 498.52,206.23 499.9,208.73 501.29,211.62 502.67,214.93 504.06,218.67 505.45,222.84 506.83,227.41 508.22,232.32 509.61,237.5 510.99,242.85 512.38,248.27 513.76,253.63 515.15,258.82 516.54,263.75 517.92,268.34 519.31,272.54 520.69,276.31 522.08,279.64 523.47,282.56 524.85,285.08 526.24,287.23 527.62,289.06 529.01,290.59 530.4,291.88 531.78,292.95 533.17,293.83 534.55,294.56 535.94,295.16 537.33,295.66 538.71,296.06 540.1,296.39 541.49,296.66 542.87,296.88 544.26,297.06 545.64,297.21 547.03,297.33 548.42,297.43 549.8,297.51 551.19,297.57 552.57,297.62 553.96,297.67 555.35,297.7 556.73,297.73 558.12,297.75 559.5,297.77 560.89,297.78 562.28,297.8 563.66,297.81 565.05,297.81 566.44,297.82 567.82,297.83 569.21,297.83 570.59,297.83 571.98,297.84 573.37,297.84 574.75,297.84 576.14,297.84 577.52,297.84 578.91,297.85 580.3,297.85 581.68,297.85 583.07,297.85 584.45,297.85 585.84,297.85 587.23,297.85 588.61,297.85 590,297.85 591.39,297.85 592.77,297.85 594.16,297.85 595.54,297.85 596.93,297.85 598.32,297.85 599.7,297.85 601.09,297.85 602.47,297.85 603.86,297.85 605.25,297.85 606.63,297.85 608.02,297.85 609.4,297.85 610.79,297.85 612.18,297.85" fill="none" stroke="#ff3b3b" stroke-width="1.45" stroke-linejoin="round" />
<polyline points="445.84,193.6 447.23,193.6 448.62,193.6 450,193.6 451.39,193.6 452.77,193.6 454.16,193.6 455.55,193.6 456.93,193.6 458.32,193.6 459.71,193.6 461.09,193.6 462.48,193.6 463.86,193.6 465.25,193.6 466.64,193.6 468.02,193.6 469.41,193.6 470.79,193.6 472.18,193.6 473.57,193.6 474.95,193.6 476.34,193.6 477.72,193.6 479.11,193.61 480.5,193.61 481.88,193.61 483.27,193.61 484.66,193.62 486.04,193.62 487.43,193.63 488.81,193.64 490.2,193.65 491.59,193.66 492.97,193.68 494.36,193.7 495.74,193.72 497.13,193.76 498.52,193.8 499.9,193.86 501.29,193.94 502.67,194.03 504.06,194.15 505.45,194.31 506.83,194.5 508.22,194.76 509.61,195.08 510.99,195.49 512.38,196.02 513.76,196.68 515.15,197.52 516.54,198.58 517.92,199.91 519.31,201.56 520.69,203.6 522.08,206.1 523.47,209.11 524.85,212.7 526.24,216.91 527.62,221.73 529.01,227.14 530.4,233.04 531.78,239.32 533.17,245.79 534.55,252.26 535.94,258.53 537.33,264.43 538.71,269.82 540.1,274.63 541.49,278.82 542.87,282.4 544.26,285.41 545.64,287.89 547.03,289.92 548.42,291.57 549.8,292.89 551.19,293.94 552.57,294.78 553.96,295.44 555.35,295.96 556.73,296.38 558.12,296.7 559.5,296.95 560.89,297.15 562.28,297.3 563.66,297.42 565.05,297.52 566.44,297.59 567.82,297.65 569.21,297.69 570.59,297.73 571.98,297.75 573.37,297.78 574.75,297.79 576.14,297.8 577.52,297.81 578.91,297.82 580.3,297.83 581.68,297.83 583.07,297.84 584.45,297.84 585.84,297.84 587.23,297.84 588.61,297.85 590,297.85 591.39,297.85 592.77,297.85 594.16,297.85 595.54,297.85 596.93,297.85 598.32,297.85 599.7,297.85 601.09,297.85 602.47,297.85 603.86,297.85 605.25,297.85 606.63,297.85 608.02,297.85 609.4,297.85 610.79,297.85 612.18,297.85" fill="none" stroke="#000000" stroke-width="1.45" stroke-linejoin="round" />
<line x1="464.33" y1="203.61" x2="464.33" y2="209.86" stroke="#9b00e0" stroke-width="0.95" />
<line x1="461.63" y1="203.61" x2="467.03" y2="203.61" stroke="#9b00e0" stroke-width="0.95" />
<line x1="461.63" y1="209.86" x2="467.03" y2="209.86" stroke="#9b00e0" stroke-width="0.95" />
<line x1="482.81" y1="200.9" x2="482.81" y2="207.15" stroke="#9b00e0" stroke-width="0.95" />
<line x1="480.11" y1="200.9" x2="485.51" y2="200.9" stroke="#9b00e0" stroke-width="0.95" />
<line x1="480.11" y1="207.15" x2="485.51" y2="207.15" stroke="#9b00e0" stroke-width="0.95" />
<line x1="501.29" y1="194.02" x2="501.29" y2="200.27" stroke="#9b00e0" stroke-width="0.95" />
<line x1="498.59" y1="194.02" x2="503.99" y2="194.02" stroke="#9b00e0" stroke-width="0.95" />
<line x1="498.59" y1="200.27" x2="503.99" y2="200.27" stroke="#9b00e0" stroke-width="0.95" />
<line x1="519.77" y1="192.14" x2="519.77" y2="198.4" stroke="#9b00e0" stroke-width="0.95" />
<line x1="517.07" y1="192.14" x2="522.47" y2="192.14" stroke="#9b00e0" stroke-width="0.95" />
<line x1="517.07" y1="198.4" x2="522.47" y2="198.4" stroke="#9b00e0" stroke-width="0.95" />
<line x1="538.25" y1="249.69" x2="538.25" y2="255.94" stroke="#9b00e0" stroke-width="0.95" />
<line x1="535.55" y1="249.69" x2="540.95" y2="249.69" stroke="#9b00e0" stroke-width="0.95" />
<line x1="535.55" y1="255.94" x2="540.95" y2="255.94" stroke="#9b00e0" stroke-width="0.95" />
<line x1="556.73" y1="278.04" x2="556.73" y2="284.3" stroke="#9b00e0" stroke-width="0.95" />
<line x1="554.03" y1="278.04" x2="559.43" y2="278.04" stroke="#9b00e0" stroke-width="0.95" />
<line x1="554.03" y1="284.3" x2="559.43" y2="284.3" stroke="#9b00e0" stroke-width="0.95" />
<line x1="445.84" y1="211.32" x2="445.84" y2="217.58" stroke="#0000ff" stroke-width="0.95" />
<line x1="443.14" y1="211.32" x2="448.54" y2="211.32" stroke="#0000ff" stroke-width="0.95" />
<line x1="443.14" y1="217.58" x2="448.54" y2="217.58" stroke="#0000ff" stroke-width="0.95" />
<line x1="464.33" y1="209.65" x2="464.33" y2="215.91" stroke="#0000ff" stroke-width="0.95" />
<line x1="461.63" y1="209.65" x2="467.03" y2="209.65" stroke="#0000ff" stroke-width="0.95" />
<line x1="461.63" y1="215.91" x2="467.03" y2="215.91" stroke="#0000ff" stroke-width="0.95" />
<line x1="482.81" y1="200.48" x2="482.81" y2="215.08" stroke="#0000ff" stroke-width="0.95" />
<line x1="480.11" y1="200.48" x2="485.51" y2="200.48" stroke="#0000ff" stroke-width="0.95" />
<line x1="480.11" y1="215.08" x2="485.51" y2="215.08" stroke="#0000ff" stroke-width="0.95" />
<line x1="501.29" y1="196.31" x2="501.29" y2="202.57" stroke="#0000ff" stroke-width="0.95" />
<line x1="498.59" y1="196.31" x2="503.99" y2="196.31" stroke="#0000ff" stroke-width="0.95" />
<line x1="498.59" y1="202.57" x2="503.99" y2="202.57" stroke="#0000ff" stroke-width="0.95" />
<line x1="519.77" y1="186.3" x2="519.77" y2="200.9" stroke="#0000ff" stroke-width="0.95" />
<line x1="517.07" y1="186.3" x2="522.47" y2="186.3" stroke="#0000ff" stroke-width="0.95" />
<line x1="517.07" y1="200.9" x2="522.47" y2="200.9" stroke="#0000ff" stroke-width="0.95" />
<line x1="538.25" y1="193.18" x2="538.25" y2="205.69" stroke="#0000ff" stroke-width="0.95" />
<line x1="535.55" y1="193.18" x2="540.95" y2="193.18" stroke="#0000ff" stroke-width="0.95" />
<line x1="535.55" y1="205.69" x2="540.95" y2="205.69" stroke="#0000ff" stroke-width="0.95" />
<line x1="556.73" y1="247.81" x2="556.73" y2="264.49" stroke="#0000ff" stroke-width="0.95" />
<line x1="554.03" y1="247.81" x2="559.43" y2="247.81" stroke="#0000ff" stroke-width="0.95" />
<line x1="554.03" y1="264.49" x2="559.43" y2="264.49" stroke="#0000ff" stroke-width="0.95" />
<line x1="575.21" y1="273.04" x2="575.21" y2="287.63" stroke="#0000ff" stroke-width="0.95" />
<line x1="572.51" y1="273.04" x2="577.91" y2="273.04" stroke="#0000ff" stroke-width="0.95" />
<line x1="572.51" y1="287.63" x2="577.91" y2="287.63" stroke="#0000ff" stroke-width="0.95" />
<line x1="593.7" y1="280.75" x2="593.7" y2="289.09" stroke="#0000ff" stroke-width="0.95" />
<line x1="591" y1="280.75" x2="596.4" y2="280.75" stroke="#0000ff" stroke-width="0.95" />
<line x1="591" y1="289.09" x2="596.4" y2="289.09" stroke="#0000ff" stroke-width="0.95" />
<line x1="612.18" y1="280.96" x2="612.18" y2="293.47" stroke="#0000ff" stroke-width="0.95" />
<line x1="609.48" y1="280.96" x2="614.88" y2="280.96" stroke="#0000ff" stroke-width="0.95" />
<line x1="609.48" y1="293.47" x2="614.88" y2="293.47" stroke="#0000ff" stroke-width="0.95" />
<line x1="445.84" y1="200.17" x2="445.84" y2="206.42" stroke="#ff3b3b" stroke-width="0.95" />
<line x1="443.14" y1="200.17" x2="448.54" y2="200.17" stroke="#ff3b3b" stroke-width="0.95" />
<line x1="443.14" y1="206.42" x2="448.54" y2="206.42" stroke="#ff3b3b" stroke-width="0.95" />
<line x1="464.33" y1="197.77" x2="464.33" y2="204.03" stroke="#ff3b3b" stroke-width="0.95" />
<line x1="461.63" y1="197.77" x2="467.03" y2="197.77" stroke="#ff3b3b" stroke-width="0.95" />
<line x1="461.63" y1="204.03" x2="467.03" y2="204.03" stroke="#ff3b3b" stroke-width="0.95" />
<line x1="482.81" y1="199.02" x2="482.81" y2="205.28" stroke="#ff3b3b" stroke-width="0.95" />
<line x1="480.11" y1="199.02" x2="485.51" y2="199.02" stroke="#ff3b3b" stroke-width="0.95" />
<line x1="480.11" y1="205.28" x2="485.51" y2="205.28" stroke="#ff3b3b" stroke-width="0.95" />
<line x1="501.29" y1="201.94" x2="501.29" y2="212.37" stroke="#ff3b3b" stroke-width="0.95" />
<line x1="498.59" y1="201.94" x2="503.99" y2="201.94" stroke="#ff3b3b" stroke-width="0.95" />
<line x1="498.59" y1="212.37" x2="503.99" y2="212.37" stroke="#ff3b3b" stroke-width="0.95" />
<line x1="519.77" y1="262.93" x2="519.77" y2="273.35" stroke="#ff3b3b" stroke-width="0.95" />
<line x1="517.07" y1="262.93" x2="522.47" y2="262.93" stroke="#ff3b3b" stroke-width="0.95" />
<line x1="517.07" y1="273.35" x2="522.47" y2="273.35" stroke="#ff3b3b" stroke-width="0.95" />
<line x1="445.84" y1="193.39" x2="445.84" y2="201.73" stroke="#000000" stroke-width="0.95" />
<line x1="443.14" y1="193.39" x2="448.54" y2="193.39" stroke="#000000" stroke-width="0.95" />
<line x1="443.14" y1="201.73" x2="448.54" y2="201.73" stroke="#000000" stroke-width="0.95" />
<line x1="464.33" y1="193.08" x2="464.33" y2="203.5" stroke="#000000" stroke-width="0.95" />
<line x1="461.63" y1="193.08" x2="467.03" y2="193.08" stroke="#000000" stroke-width="0.95" />
<line x1="461.63" y1="203.5" x2="467.03" y2="203.5" stroke="#000000" stroke-width="0.95" />
<line x1="482.81" y1="193.39" x2="482.81" y2="201.73" stroke="#000000" stroke-width="0.95" />
<line x1="480.11" y1="193.39" x2="485.51" y2="193.39" stroke="#000000" stroke-width="0.95" />
<line x1="480.11" y1="201.73" x2="485.51" y2="201.73" stroke="#000000" stroke-width="0.95" />
<line x1="501.29" y1="191.31" x2="501.29" y2="197.56" stroke="#000000" stroke-width="0.95" />
<line x1="498.59" y1="191.31" x2="503.99" y2="191.31" stroke="#000000" stroke-width="0.95" />
<line x1="498.59" y1="197.56" x2="503.99" y2="197.56" stroke="#000000" stroke-width="0.95" />
<line x1="519.77" y1="191.93" x2="519.77" y2="202.36" stroke="#000000" stroke-width="0.95" />
<line x1="517.07" y1="191.93" x2="522.47" y2="191.93" stroke="#000000" stroke-width="0.95" />
<line x1="517.07" y1="202.36" x2="522.47" y2="202.36" stroke="#000000" stroke-width="0.95" />
<line x1="538.25" y1="257.71" x2="538.25" y2="272.31" stroke="#000000" stroke-width="0.95" />
<line x1="535.55" y1="257.71" x2="540.95" y2="257.71" stroke="#000000" stroke-width="0.95" />
<line x1="535.55" y1="272.31" x2="540.95" y2="272.31" stroke="#000000" stroke-width="0.95" />
<circle cx="445.84" cy="209.76" r="2.7" fill="#9b00e0"/>
<circle cx="464.33" cy="206.74" r="2.7" fill="#9b00e0"/>
<circle cx="482.81" cy="204.03" r="2.7" fill="#9b00e0"/>
<circle cx="501.29" cy="197.14" r="2.7" fill="#9b00e0"/>
<circle cx="519.77" cy="195.27" r="2.7" fill="#9b00e0"/>
<circle cx="538.25" cy="252.81" r="2.7" fill="#9b00e0"/>
<circle cx="556.73" cy="281.17" r="2.7" fill="#9b00e0"/>
<circle cx="575.21" cy="289.09" r="2.7" fill="#9b00e0"/>
<circle cx="593.7" cy="290.97" r="2.7" fill="#9b00e0"/>
<circle cx="612.18" cy="291.7" r="2.7" fill="#9b00e0"/>
<circle cx="445.84" cy="214.45" r="2.7" fill="#0000ff"/>
<circle cx="464.33" cy="212.78" r="2.7" fill="#0000ff"/>
<circle cx="482.81" cy="207.78" r="2.7" fill="#0000ff"/>
<circle cx="501.29" cy="199.44" r="2.7" fill="#0000ff"/>
<circle cx="519.77" cy="193.6" r="2.7" fill="#0000ff"/>
<circle cx="538.25" cy="199.44" r="2.7" fill="#0000ff"/>
<circle cx="556.73" cy="256.15" r="2.7" fill="#0000ff"/>
<circle cx="575.21" cy="280.34" r="2.7" fill="#0000ff"/>
<circle cx="593.7" cy="284.92" r="2.7" fill="#0000ff"/>
<circle cx="612.18" cy="287.22" r="2.7" fill="#0000ff"/>
<circle cx="445.84" cy="203.3" r="2.7" fill="#ff3b3b"/>
<circle cx="464.33" cy="200.9" r="2.7" fill="#ff3b3b"/>
<circle cx="482.81" cy="202.15" r="2.7" fill="#ff3b3b"/>
<circle cx="501.29" cy="207.15" r="2.7" fill="#ff3b3b"/>
<circle cx="519.77" cy="268.14" r="2.7" fill="#ff3b3b"/>
<circle cx="538.25" cy="290.97" r="2.7" fill="#ff3b3b"/>
<circle cx="556.73" cy="297.33" r="2.7" fill="#ff3b3b"/>
<circle cx="575.21" cy="297.33" r="2.7" fill="#ff3b3b"/>
<circle cx="593.7" cy="297.33" r="2.7" fill="#ff3b3b"/>
<circle cx="612.18" cy="297.33" r="2.7" fill="#ff3b3b"/>
<circle cx="445.84" cy="197.56" r="2.7" fill="#000000"/>
<circle cx="464.33" cy="198.29" r="2.7" fill="#000000"/>
<circle cx="482.81" cy="197.56" r="2.7" fill="#000000"/>
<circle cx="501.29" cy="194.43" r="2.7" fill="#000000"/>
<circle cx="519.77" cy="197.14" r="2.7" fill="#000000"/>
<circle cx="538.25" cy="265.01" r="2.7" fill="#000000"/>
<circle cx="556.73" cy="289.82" r="2.7" fill="#000000"/>
<circle cx="575.21" cy="295.56" r="2.7" fill="#000000"/>
<circle cx="593.7" cy="297.33" r="2.7" fill="#000000"/>
<circle cx="612.18" cy="297.33" r="2.7" fill="#000000"/>
<line x1="576.6" y1="183.1" x2="590.2" y2="183.1" stroke="#000000" stroke-width="1.3" />
<circle cx="583.4" cy="183.1" r="2.3" fill="#000000"/>
<text x="597.4" y="186.1" font-size="8.5" text-anchor="start" fill="#000" >M<tspan font-size="6.6" dy="-2.8">pro</tspan><tspan dy="2.8">-WT</tspan></text>
<line x1="576.6" y1="194.6" x2="590.2" y2="194.6" stroke="#ff3b3b" stroke-width="1.3" />
<circle cx="583.4" cy="194.6" r="2.3" fill="#ff3b3b"/>
<text x="597.4" y="197.6" font-size="8.5" text-anchor="start" fill="#000" >M<tspan font-size="6.6" dy="-2.8">pro</tspan><tspan dy="2.8">-T45I</tspan></text>
<line x1="576.6" y1="206.1" x2="590.2" y2="206.1" stroke="#0000ff" stroke-width="1.3" />
<circle cx="583.4" cy="206.1" r="2.3" fill="#0000ff"/>
<text x="597.4" y="209.1" font-size="8.5" text-anchor="start" fill="#000" >M<tspan font-size="6.6" dy="-2.8">pro</tspan><tspan dy="2.8">-Δ23G</tspan></text>
<line x1="576.6" y1="217.4" x2="590.2" y2="217.4" stroke="#9b00e0" stroke-width="1.3" />
<circle cx="583.4" cy="217.4" r="2.3" fill="#9b00e0"/>
<text x="597.4" y="220.4" font-size="8.5" text-anchor="start" fill="#000" >M<tspan font-size="6.6" dy="-2.8">pro</tspan><tspan dy="2.8">-Δ23G/T45I</tspan></text>
<text x="-0.6" y="342.8" font-size="9.6" text-anchor="start" fill="#000" font-weight="bold">e</text>
<line x1="22.8" y1="346.3" x2="628.8" y2="346.3" stroke="#222" stroke-width="1.05" />
<line x1="98.9" y1="357.3" x2="628.8" y2="357.3" stroke="#222" stroke-width="1.05" />
<line x1="363.6" y1="357.3" x2="363.6" y2="427.2" stroke="#222" stroke-width="1.05" />
<line x1="22.8" y1="380.2" x2="628.8" y2="380.2" stroke="#222" stroke-width="1.05" />
<line x1="22.8" y1="427.3" x2="628.8" y2="427.3" stroke="#333" stroke-width="1.4" />
<rect x="364.2" y="392.1" width="65.6" height="11.6" fill="#ff8080"/>
<rect x="364.2" y="403.7" width="65.6" height="23.0" fill="#a00000"/>
<rect x="429.8" y="403.7" width="66.2" height="23.0" fill="#dce6f2"/>
<text x="231.2" y="355.2" font-size="9.4" text-anchor="middle">Mean of IC<tspan font-size="6.3" dy="1.8">50</tspan><tspan dy="-1.8"> values ± SD (μM)</tspan></text>
<text x="496.2" y="355.2" font-size="9.4" text-anchor="middle" fill="#000" >Fold-change relative to wild-type</text>
<text x="23" y="367.4" font-size="9.4" text-anchor="start" fill="#000" >Virus</text>
<text x="132" y="366.9" font-size="9.4" text-anchor="middle" fill="#000" >S-217622</text>
<text x="132" y="377.9" font-size="9.4" text-anchor="middle" fill="#000" >(ensitrelvir)</text>
<text x="198.2" y="366.9" font-size="9.4" text-anchor="middle" fill="#000" >PF-07321332</text>
<text x="198.2" y="377.9" font-size="9.4" text-anchor="middle" fill="#000" >(nirmatrelvir)</text>
<text x="264.9" y="366.9" font-size="9.4" text-anchor="middle" fill="#000" >GS-441524</text>
<text x="264.9" y="377.9" font-size="9.4" text-anchor="middle" fill="#000" >(remdesivir)</text>
<text x="330.6" y="366.9" font-size="9.4" text-anchor="middle" fill="#000" >EIDD-1931</text>
<text x="330.6" y="377.9" font-size="9.4" text-anchor="middle" fill="#000" >(molnupiravir)</text>
<text x="396.9" y="366.9" font-size="9.4" text-anchor="middle" fill="#000" >S-217622</text>
<text x="396.9" y="377.9" font-size="9.4" text-anchor="middle" fill="#000" >(ensitrelvir)</text>
<text x="463.2" y="366.9" font-size="9.4" text-anchor="middle" fill="#000" >PF-07321332</text>
<text x="463.2" y="377.9" font-size="9.4" text-anchor="middle" fill="#000" >(nirmatrelvir)</text>
<text x="529" y="366.9" font-size="9.4" text-anchor="middle" fill="#000" >GS-441524</text>
<text x="529" y="377.9" font-size="9.4" text-anchor="middle" fill="#000" >(remdesivir)</text>
<text x="595.6" y="366.9" font-size="9.4" text-anchor="middle" fill="#000" >EIDD-1931</text>
<text x="595.6" y="377.9" font-size="9.4" text-anchor="middle" fill="#000" >(molnupiravir)</text>
<text x="23.2" y="390.2" font-size="9.4" text-anchor="start" fill="#000" >M<tspan font-size="6.6" dy="-2.8">pro</tspan><tspan dy="2.8">-WT</tspan></text>
<text x="23.2" y="401.7" font-size="9.4" text-anchor="start" fill="#000" >M<tspan font-size="6.6" dy="-2.8">pro</tspan><tspan dy="2.8">-T45I</tspan></text>
<text x="23.2" y="413.2" font-size="9.4" text-anchor="start" fill="#000" >M<tspan font-size="6.6" dy="-2.8">pro</tspan><tspan dy="2.8">-Δ23G</tspan></text>
<text x="23.2" y="424.6" font-size="9.4" text-anchor="start" fill="#000" >M<tspan font-size="6.6" dy="-2.8">pro</tspan><tspan dy="2.8">-Δ23G/T45I</tspan></text>
<text x="132" y="390.2" font-size="9.4" text-anchor="middle" fill="#000" >0.44 ± 0.06</text>
<text x="396.9" y="390.2" font-size="9.4" text-anchor="middle" fill="#000" >1</text>
<text x="198.2" y="390.2" font-size="9.4" text-anchor="middle" fill="#000" >6.02 ± 0.51</text>
<text x="463.2" y="390.2" font-size="9.4" text-anchor="middle" fill="#000" >1</text>
<text x="264.9" y="390.2" font-size="9.4" text-anchor="middle" fill="#000" >2.99 ± 0.34</text>
<text x="529" y="390.2" font-size="9.4" text-anchor="middle" fill="#000" >1</text>
<text x="330.6" y="390.2" font-size="9.4" text-anchor="middle" fill="#000" >0.45 ± 0.04</text>
<text x="595.6" y="390.2" font-size="9.4" text-anchor="middle" fill="#000" >1</text>
<text x="132" y="401.7" font-size="9.4" text-anchor="middle" fill="#000" >1.75 ± 0.07</text>
<text x="396.9" y="401.7" font-size="9.4" text-anchor="middle" fill="#000" >3.98</text>
<text x="198.2" y="401.7" font-size="9.4" text-anchor="middle" fill="#000" >8.79 ± 1.06</text>
<text x="463.2" y="401.7" font-size="9.4" text-anchor="middle" fill="#000" >1.48</text>
<text x="264.9" y="401.7" font-size="9.4" text-anchor="middle" fill="#000" >4.50 ± 0.33</text>
<text x="529" y="401.7" font-size="9.4" text-anchor="middle" fill="#000" >1.51</text>
<text x="330.6" y="401.7" font-size="9.4" text-anchor="middle" fill="#000" >0.98 ± 0.08</text>
<text x="595.6" y="401.7" font-size="9.4" text-anchor="middle" fill="#000" >2.18</text>
<text x="132" y="413.2" font-size="9.4" text-anchor="middle" fill="#000" >15.20 ± 2.06</text>
<text class="w" x="396.9" y="413.2" font-size="9.4" text-anchor="middle" fill="#fff" >34.55</text>
<text x="198.2" y="413.2" font-size="9.4" text-anchor="middle" fill="#000" >0.78 ± 0.21</text>
<text x="463.2" y="413.2" font-size="9.4" text-anchor="middle" fill="#000" >0.13</text>
<text x="264.9" y="413.2" font-size="9.4" text-anchor="middle" fill="#000" >2.00 ± 0.35</text>
<text x="529" y="413.2" font-size="9.4" text-anchor="middle" fill="#000" >0.67</text>
<text x="330.6" y="413.2" font-size="9.4" text-anchor="middle" fill="#000" >0.21 ± 0.03</text>
<text x="595.6" y="413.2" font-size="9.4" text-anchor="middle" fill="#000" >0.47</text>
<text x="132" y="424.6" font-size="9.4" text-anchor="middle" fill="#000" >15.55 ± 1.73</text>
<text class="w" x="396.9" y="424.6" font-size="9.4" text-anchor="middle" fill="#fff" >35.34</text>
<text x="198.2" y="424.6" font-size="9.4" text-anchor="middle" fill="#000" >1.49 ± 0.42</text>
<text x="463.2" y="424.6" font-size="9.4" text-anchor="middle" fill="#000" >0.25</text>
<text x="264.9" y="424.6" font-size="9.4" text-anchor="middle" fill="#000" >3.48 ± 0.24</text>
<text x="529" y="424.6" font-size="9.4" text-anchor="middle" fill="#000" >1.16</text>
<text x="330.6" y="424.6" font-size="9.4" text-anchor="middle" fill="#000" >0.40 ± 0.03</text>
<text x="595.6" y="424.6" font-size="9.4" text-anchor="middle" fill="#000" >0.89</text>
<rect x="633.4" y="358.4" width="34.2" height="14.2" fill="#dce6f2"/>
<rect x="633.4" y="372.6" width="34.2" height="14" fill="#ffffff"/>
<rect x="633.4" y="386.6" width="34.2" height="13.9" fill="#ff8080"/>
<rect x="633.4" y="400.5" width="34.2" height="13.8" fill="#ff0000"/>
<rect x="633.4" y="414.3" width="34.2" height="13.2" fill="#a00000"/>
<text x="650.5" y="367.8" font-size="6.6" text-anchor="middle" fill="#000" >≤ 0.33</text>
<text x="650.5" y="381.9" font-size="6.6" text-anchor="middle" fill="#000" >&lt; 3.0</text>
<text x="650.5" y="395.85" font-size="6.6" text-anchor="middle" fill="#000" >&lt; 6.0</text>
<text class="w" x="650.5" y="409.7" font-size="6.6" text-anchor="middle" fill="#fff" >&lt; 30.0</text>
<text class="w" x="650.5" y="423.2" font-size="6.6" text-anchor="middle" fill="#fff" >≥ 30.0</text>
<line x1="633.4" y1="372.6" x2="667.6" y2="372.6" stroke="#000" stroke-width="1.0" />
<line x1="633.4" y1="386.6" x2="667.6" y2="386.6" stroke="#000" stroke-width="1.0" />
<line x1="633.4" y1="400.5" x2="667.6" y2="400.5" stroke="#000" stroke-width="1.0" />
<line x1="633.4" y1="414.3" x2="667.6" y2="414.3" stroke="#000" stroke-width="1.0" />
<rect x="633.4" y="358.4" width="34.2" height="69.1" fill="none" stroke="#000" stroke-width="1.1"/>
<text x="-0.6" y="474" font-size="9.6" text-anchor="start" fill="#000" font-weight="bold">f</text>
<polyline points="44.2,625.2 45.12,624.45 46.04,623.71 46.95,622.97 47.87,622.24 48.79,621.52 49.71,620.8 50.63,620.08 51.54,619.37 52.46,618.67 53.38,617.98 54.3,617.28 55.22,616.6 56.13,615.92 57.05,615.24 57.97,614.57 58.89,613.91 59.81,613.24 60.72,612.59 61.64,611.94 62.56,611.29 63.48,610.65 64.4,610.02 65.31,609.39 66.23,608.76 67.15,608.14 68.07,607.52 68.99,606.91 69.9,606.3 70.82,605.7 71.74,605.1 72.66,604.5 73.58,603.91 74.49,603.32 75.41,602.74 76.33,602.16 77.25,601.59 78.17,601.02 79.08,600.45 80,599.89 80.92,599.33 81.84,598.78 82.76,598.23 83.67,597.68 84.59,597.14 85.51,596.6 86.43,596.06 87.35,595.53 88.26,595 89.18,594.48 90.1,593.96 91.02,593.44 91.94,592.93 92.85,592.42 93.77,591.91 94.69,591.4 95.61,590.9 96.53,590.41 97.44,589.91 98.36,589.42 99.28,588.93 100.2,588.45 101.12,587.97 102.03,587.49 102.95,587.02 103.87,586.54 104.79,586.08 105.71,585.61 106.62,585.15 107.54,584.69 108.46,584.23 109.38,583.78 110.3,583.32 111.21,582.88 112.13,582.43 113.05,581.99 113.97,581.55 114.89,581.11 115.8,580.67 116.72,580.24 117.64,579.81 118.56,579.39 119.48,578.96 120.39,578.54 121.31,578.12 122.23,577.7 123.15,577.29 124.07,576.88 124.98,576.47 125.9,576.06 126.82,575.66 127.74,575.26 128.66,574.86 129.57,574.46 130.49,574.07 131.41,573.67 132.33,573.28 133.25,572.9 134.16,572.51 135.08,572.13 136,571.75 136.92,571.37 137.84,570.99 138.75,570.62 139.67,570.24 140.59,569.87 141.51,569.5 142.43,569.14 143.34,568.77 144.26,568.41 145.18,568.05 146.1,567.69 147.02,567.34 147.93,566.98 148.85,566.63 149.77,566.28 150.69,565.93 151.61,565.59 152.52,565.24 153.44,564.9 154.36,564.56 155.28,564.22 156.2,563.88 157.11,563.55 158.03,563.22 158.95,562.88 159.87,562.55 160.79,562.23 161.7,561.9 162.62,561.58 163.54,561.25 164.46,560.93 165.38,560.61 166.29,560.3 167.21,559.98 168.13,559.67 169.05,559.35 169.97,559.04 170.88,558.73 171.8,558.43 172.72,558.12 173.64,557.81 174.56,557.51 175.47,557.21 176.39,556.91 177.31,556.61 178.23,556.31 179.15,556.02 180.06,555.73 180.98,555.43 181.9,555.14 182.82,554.85 183.74,554.57 184.65,554.28 185.57,553.99 186.49,553.71 187.41,553.43 188.33,553.15 189.24,552.87 190.16,552.59 191.08,552.31 192,552.04 192.92,551.76 193.83,551.49 194.75,551.22 195.67,550.95 196.59,550.68 197.51,550.41 198.42,550.15 199.34,549.88 200.26,549.62 201.18,549.36 202.1,549.1 203.01,548.84 203.93,548.58 204.85,548.32 205.77,548.06 206.69,547.81 207.6,547.56 208.52,547.3 209.44,547.05 210.36,546.8 211.28,546.55 212.19,546.3 213.11,546.06 214.03,545.81 214.95,545.57 215.87,545.32 216.78,545.08 217.7,544.84 218.62,544.6 219.54,544.36 220.46,544.13 221.37,543.89 222.29,543.65 223.21,543.42 224.13,543.19 225.05,542.95 225.96,542.72 226.88,542.49 227.8,542.26" fill="none" stroke="#9b00e0" stroke-width="1.45" stroke-linejoin="round" />
<polyline points="44.2,625.2 45.12,624.51 46.04,623.82 46.95,623.14 47.87,622.47 48.79,621.8 49.71,621.14 50.63,620.49 51.54,619.84 52.46,619.2 53.38,618.56 54.3,617.93 55.22,617.31 56.13,616.69 57.05,616.08 57.97,615.47 58.89,614.87 59.81,614.27 60.72,613.68 61.64,613.1 62.56,612.52 63.48,611.94 64.4,611.37 65.31,610.81 66.23,610.25 67.15,609.7 68.07,609.15 68.99,608.6 69.9,608.06 70.82,607.53 71.74,606.99 72.66,606.47 73.58,605.95 74.49,605.43 75.41,604.91 76.33,604.41 77.25,603.9 78.17,603.4 79.08,602.9 80,602.41 80.92,601.92 81.84,601.44 82.76,600.96 83.67,600.48 84.59,600.01 85.51,599.54 86.43,599.08 87.35,598.62 88.26,598.16 89.18,597.7 90.1,597.25 91.02,596.81 91.94,596.36 92.85,595.92 93.77,595.49 94.69,595.05 95.61,594.62 96.53,594.2 97.44,593.78 98.36,593.36 99.28,592.94 100.2,592.53 101.12,592.11 102.03,591.71 102.95,591.3 103.87,590.9 104.79,590.5 105.71,590.11 106.62,589.72 107.54,589.33 108.46,588.94 109.38,588.56 110.3,588.17 111.21,587.8 112.13,587.42 113.05,587.05 113.97,586.68 114.89,586.31 115.8,585.94 116.72,585.58 117.64,585.22 118.56,584.87 119.48,584.51 120.39,584.16 121.31,583.81 122.23,583.46 123.15,583.12 124.07,582.77 124.98,582.43 125.9,582.1 126.82,581.76 127.74,581.43 128.66,581.09 129.57,580.77 130.49,580.44 131.41,580.11 132.33,579.79 133.25,579.47 134.16,579.15 135.08,578.84 136,578.52 136.92,578.21 137.84,577.9 138.75,577.6 139.67,577.29 140.59,576.99 141.51,576.68 142.43,576.38 143.34,576.09 144.26,575.79 145.18,575.5 146.1,575.2 147.02,574.91 147.93,574.63 148.85,574.34 149.77,574.05 150.69,573.77 151.61,573.49 152.52,573.21 153.44,572.93 154.36,572.66 155.28,572.38 156.2,572.11 157.11,571.84 158.03,571.57 158.95,571.3 159.87,571.03 160.79,570.77 161.7,570.51 162.62,570.24 163.54,569.99 164.46,569.73 165.38,569.47 166.29,569.21 167.21,568.96 168.13,568.71 169.05,568.46 169.97,568.21 170.88,567.96 171.8,567.72 172.72,567.47 173.64,567.23 174.56,566.98 175.47,566.74 176.39,566.51 177.31,566.27 178.23,566.03 179.15,565.8 180.06,565.56 180.98,565.33 181.9,565.1 182.82,564.87 183.74,564.64 184.65,564.41 185.57,564.19 186.49,563.96 187.41,563.74 188.33,563.52 189.24,563.29 190.16,563.07 191.08,562.86 192,562.64 192.92,562.42 193.83,562.21 194.75,561.99 195.67,561.78 196.59,561.57 197.51,561.36 198.42,561.15 199.34,560.94 200.26,560.73 201.18,560.53 202.1,560.32 203.01,560.12 203.93,559.92 204.85,559.72 205.77,559.52 206.69,559.32 207.6,559.12 208.52,558.92 209.44,558.72 210.36,558.53 211.28,558.33 212.19,558.14 213.11,557.95 214.03,557.76 214.95,557.57 215.87,557.38 216.78,557.19 217.7,557 218.62,556.82 219.54,556.63 220.46,556.45 221.37,556.26 222.29,556.08 223.21,555.9 224.13,555.72 225.05,555.54 225.96,555.36 226.88,555.18 227.8,555" fill="none" stroke="#0000ff" stroke-width="1.45" stroke-linejoin="round" />
<polyline points="44.2,625.2 45.12,623.63 46.04,622.09 46.95,620.58 47.87,619.1 48.79,617.65 49.71,616.22 50.63,614.82 51.54,613.45 52.46,612.1 53.38,610.78 54.3,609.48 55.22,608.21 56.13,606.95 57.05,605.72 57.97,604.51 58.89,603.32 59.81,602.16 60.72,601.01 61.64,599.88 62.56,598.77 63.48,597.67 64.4,596.6 65.31,595.54 66.23,594.5 67.15,593.48 68.07,592.47 68.99,591.48 69.9,590.51 70.82,589.55 71.74,588.6 72.66,587.67 73.58,586.75 74.49,585.85 75.41,584.96 76.33,584.08 77.25,583.22 78.17,582.37 79.08,581.53 80,580.7 80.92,579.89 81.84,579.08 82.76,578.29 83.67,577.51 84.59,576.74 85.51,575.98 86.43,575.23 87.35,574.49 88.26,573.76 89.18,573.04 90.1,572.33 91.02,571.63 91.94,570.94 92.85,570.26 93.77,569.59 94.69,568.92 95.61,568.27 96.53,567.62 97.44,566.98 98.36,566.35 99.28,565.73 100.2,565.11 101.12,564.5 102.03,563.9 102.95,563.31 103.87,562.72 104.79,562.14 105.71,561.57 106.62,561 107.54,560.45 108.46,559.89 109.38,559.35 110.3,558.81 111.21,558.28 112.13,557.75 113.05,557.23 113.97,556.71 114.89,556.2 115.8,555.7 116.72,555.2 117.64,554.71 118.56,554.22 119.48,553.74 120.39,553.27 121.31,552.8 122.23,552.33 123.15,551.87 124.07,551.41 124.98,550.96 125.9,550.52 126.82,550.07 127.74,549.64 128.66,549.2 129.57,548.78 130.49,548.35 131.41,547.93 132.33,547.52 133.25,547.11 134.16,546.7 135.08,546.3 136,545.9 136.92,545.51 137.84,545.11 138.75,544.73 139.67,544.35 140.59,543.97 141.51,543.59 142.43,543.22 143.34,542.85 144.26,542.49 145.18,542.12 146.1,541.77 147.02,541.41 147.93,541.06 148.85,540.71 149.77,540.37 150.69,540.03 151.61,539.69 152.52,539.35 153.44,539.02 154.36,538.69 155.28,538.36 156.2,538.04 157.11,537.72 158.03,537.4 158.95,537.09 159.87,536.78 160.79,536.47 161.7,536.16 162.62,535.86 163.54,535.56 164.46,535.26 165.38,534.96 166.29,534.67 167.21,534.38 168.13,534.09 169.05,533.8 169.97,533.52 170.88,533.24 171.8,532.96 172.72,532.68 173.64,532.41 174.56,532.14 175.47,531.87 176.39,531.6 177.31,531.33 178.23,531.07 179.15,530.81 180.06,530.55 180.98,530.29 181.9,530.04 182.82,529.79 183.74,529.54 184.65,529.29 185.57,529.04 186.49,528.8 187.41,528.55 188.33,528.31 189.24,528.07 190.16,527.84 191.08,527.6 192,527.37 192.92,527.13 193.83,526.9 194.75,526.68 195.67,526.45 196.59,526.22 197.51,526 198.42,525.78 199.34,525.56 200.26,525.34 201.18,525.12 202.1,524.91 203.01,524.7 203.93,524.48 204.85,524.27 205.77,524.06 206.69,523.86 207.6,523.65 208.52,523.45 209.44,523.24 210.36,523.04 211.28,522.84 212.19,522.64 213.11,522.45 214.03,522.25 214.95,522.05 215.87,521.86 216.78,521.67 217.7,521.48 218.62,521.29 219.54,521.1 220.46,520.92 221.37,520.73 222.29,520.55 223.21,520.36 224.13,520.18 225.05,520 225.96,519.82 226.88,519.64 227.8,519.47" fill="none" stroke="#ff3b3b" stroke-width="1.45" stroke-linejoin="round" />
<polyline points="44.2,625.2 45.12,623.5 46.04,621.83 46.95,620.2 47.87,618.6 48.79,617.04 49.71,615.51 50.63,614.01 51.54,612.54 52.46,611.1 53.38,609.69 54.3,608.31 55.22,606.96 56.13,605.63 57.05,604.32 57.97,603.05 58.89,601.79 59.81,600.56 60.72,599.35 61.64,598.16 62.56,597 63.48,595.85 64.4,594.73 65.31,593.63 66.23,592.54 67.15,591.48 68.07,590.43 68.99,589.4 69.9,588.39 70.82,587.39 71.74,586.41 72.66,585.45 73.58,584.5 74.49,583.57 75.41,582.65 76.33,581.75 77.25,580.86 78.17,579.99 79.08,579.13 80,578.28 80.92,577.45 81.84,576.63 82.76,575.82 83.67,575.02 84.59,574.24 85.51,573.46 86.43,572.7 87.35,571.95 88.26,571.21 89.18,570.48 90.1,569.76 91.02,569.05 91.94,568.35 92.85,567.66 93.77,566.98 94.69,566.31 95.61,565.65 96.53,565 97.44,564.36 98.36,563.72 99.28,563.1 100.2,562.48 101.12,561.87 102.03,561.27 102.95,560.67 103.87,560.09 104.79,559.51 105.71,558.94 106.62,558.37 107.54,557.81 108.46,557.26 109.38,556.72 110.3,556.18 111.21,555.65 112.13,555.13 113.05,554.61 113.97,554.1 114.89,553.59 115.8,553.1 116.72,552.6 117.64,552.11 118.56,551.63 119.48,551.16 120.39,550.69 121.31,550.22 122.23,549.76 123.15,549.31 124.07,548.86 124.98,548.41 125.9,547.97 126.82,547.54 127.74,547.11 128.66,546.68 129.57,546.26 130.49,545.84 131.41,545.43 132.33,545.03 133.25,544.62 134.16,544.22 135.08,543.83 136,543.44 136.92,543.05 137.84,542.67 138.75,542.29 139.67,541.92 140.59,541.55 141.51,541.18 142.43,540.82 143.34,540.46 144.26,540.1 145.18,539.75 146.1,539.4 147.02,539.06 147.93,538.72 148.85,538.38 149.77,538.04 150.69,537.71 151.61,537.38 152.52,537.06 153.44,536.73 154.36,536.41 155.28,536.1 156.2,535.78 157.11,535.47 158.03,535.17 158.95,534.86 159.87,534.56 160.79,534.26 161.7,533.96 162.62,533.67 163.54,533.38 164.46,533.09 165.38,532.8 166.29,532.52 167.21,532.24 168.13,531.96 169.05,531.69 169.97,531.41 170.88,531.14 171.8,530.87 172.72,530.61 173.64,530.34 174.56,530.08 175.47,529.82 176.39,529.57 177.31,529.31 178.23,529.06 179.15,528.81 180.06,528.56 180.98,528.31 181.9,528.07 182.82,527.82 183.74,527.58 184.65,527.35 185.57,527.11 186.49,526.87 187.41,526.64 188.33,526.41 189.24,526.18 190.16,525.95 191.08,525.73 192,525.51 192.92,525.28 193.83,525.06 194.75,524.85 195.67,524.63 196.59,524.41 197.51,524.2 198.42,523.99 199.34,523.78 200.26,523.57 201.18,523.36 202.1,523.16 203.01,522.96 203.93,522.75 204.85,522.55 205.77,522.35 206.69,522.16 207.6,521.96 208.52,521.77 209.44,521.57 210.36,521.38 211.28,521.19 212.19,521 213.11,520.81 214.03,520.63 214.95,520.44 215.87,520.26 216.78,520.08 217.7,519.9 218.62,519.72 219.54,519.54 220.46,519.36 221.37,519.18 222.29,519.01 223.21,518.84 224.13,518.66 225.05,518.49 225.96,518.32 226.88,518.16 227.8,517.99" fill="none" stroke="#000000" stroke-width="1.45" stroke-linejoin="round" />
<line x1="117.64" y1="571.03" x2="117.64" y2="577.86" stroke="#9b00e0" stroke-width="0.95" />
<line x1="114.94" y1="571.03" x2="120.34" y2="571.03" stroke="#9b00e0" stroke-width="0.95" />
<line x1="114.94" y1="577.86" x2="120.34" y2="577.86" stroke="#9b00e0" stroke-width="0.95" />
<line x1="191.08" y1="559.81" x2="191.08" y2="568.59" stroke="#0000ff" stroke-width="0.95" />
<line x1="188.38" y1="559.81" x2="193.78" y2="559.81" stroke="#0000ff" stroke-width="0.95" />
<line x1="188.38" y1="568.59" x2="193.78" y2="568.59" stroke="#0000ff" stroke-width="0.95" />
<line x1="71.74" y1="591.53" x2="71.74" y2="598.36" stroke="#ff3b3b" stroke-width="0.95" />
<line x1="69.04" y1="591.53" x2="74.44" y2="591.53" stroke="#ff3b3b" stroke-width="0.95" />
<line x1="69.04" y1="598.36" x2="74.44" y2="598.36" stroke="#ff3b3b" stroke-width="0.95" />
<line x1="154.36" y1="523.21" x2="154.36" y2="530.04" stroke="#ff3b3b" stroke-width="0.95" />
<line x1="151.66" y1="523.21" x2="157.06" y2="523.21" stroke="#ff3b3b" stroke-width="0.95" />
<line x1="151.66" y1="530.04" x2="157.06" y2="530.04" stroke="#ff3b3b" stroke-width="0.95" />
<line x1="172.72" y1="525.16" x2="172.72" y2="535.9" stroke="#ff3b3b" stroke-width="0.95" />
<line x1="170.02" y1="525.16" x2="175.42" y2="525.16" stroke="#ff3b3b" stroke-width="0.95" />
<line x1="170.02" y1="535.9" x2="175.42" y2="535.9" stroke="#ff3b3b" stroke-width="0.95" />
<line x1="191.08" y1="529.55" x2="191.08" y2="536.38" stroke="#ff3b3b" stroke-width="0.95" />
<line x1="188.38" y1="529.55" x2="193.78" y2="529.55" stroke="#ff3b3b" stroke-width="0.95" />
<line x1="188.38" y1="536.38" x2="193.78" y2="536.38" stroke="#ff3b3b" stroke-width="0.95" />
<line x1="62.56" y1="598.85" x2="62.56" y2="605.68" stroke="#000000" stroke-width="0.95" />
<line x1="59.86" y1="598.85" x2="65.26" y2="598.85" stroke="#000000" stroke-width="0.95" />
<line x1="59.86" y1="605.68" x2="65.26" y2="605.68" stroke="#000000" stroke-width="0.95" />
<line x1="71.74" y1="575.91" x2="71.74" y2="590.55" stroke="#000000" stroke-width="0.95" />
<line x1="69.04" y1="575.91" x2="74.44" y2="575.91" stroke="#000000" stroke-width="0.95" />
<line x1="69.04" y1="590.55" x2="74.44" y2="590.55" stroke="#000000" stroke-width="0.95" />
<line x1="80.92" y1="571.03" x2="80.92" y2="584.7" stroke="#000000" stroke-width="0.95" />
<line x1="78.22" y1="571.03" x2="83.62" y2="571.03" stroke="#000000" stroke-width="0.95" />
<line x1="78.22" y1="584.7" x2="83.62" y2="584.7" stroke="#000000" stroke-width="0.95" />
<line x1="117.64" y1="534.92" x2="117.64" y2="543.7" stroke="#000000" stroke-width="0.95" />
<line x1="114.94" y1="534.92" x2="120.34" y2="534.92" stroke="#000000" stroke-width="0.95" />
<line x1="114.94" y1="543.7" x2="120.34" y2="543.7" stroke="#000000" stroke-width="0.95" />
<circle cx="53.38" cy="622.27" r="2.7" fill="#9b00e0"/>
<circle cx="62.56" cy="614.95" r="2.7" fill="#9b00e0"/>
<circle cx="71.74" cy="606.66" r="2.7" fill="#9b00e0"/>
<circle cx="80.92" cy="603.24" r="2.7" fill="#9b00e0"/>
<circle cx="99.28" cy="594.94" r="2.7" fill="#9b00e0"/>
<circle cx="117.64" cy="574.45" r="2.7" fill="#9b00e0"/>
<circle cx="154.36" cy="564.69" r="2.7" fill="#9b00e0"/>
<circle cx="172.72" cy="555.9" r="2.7" fill="#9b00e0"/>
<circle cx="191.08" cy="548.58" r="2.7" fill="#9b00e0"/>
<circle cx="227.8" cy="548.1" r="2.7" fill="#9b00e0"/>
<circle cx="53.38" cy="623.74" r="2.7" fill="#0000ff"/>
<circle cx="62.56" cy="614.95" r="2.7" fill="#0000ff"/>
<circle cx="71.74" cy="611.05" r="2.7" fill="#0000ff"/>
<circle cx="80.92" cy="607.14" r="2.7" fill="#0000ff"/>
<circle cx="99.28" cy="597.38" r="2.7" fill="#0000ff"/>
<circle cx="117.64" cy="584.21" r="2.7" fill="#0000ff"/>
<circle cx="154.36" cy="575.42" r="2.7" fill="#0000ff"/>
<circle cx="172.72" cy="569.57" r="2.7" fill="#0000ff"/>
<circle cx="191.08" cy="564.2" r="2.7" fill="#0000ff"/>
<circle cx="227.8" cy="555.42" r="2.7" fill="#0000ff"/>
<circle cx="53.38" cy="614.46" r="2.7" fill="#ff3b3b"/>
<circle cx="62.56" cy="603.73" r="2.7" fill="#ff3b3b"/>
<circle cx="71.74" cy="594.94" r="2.7" fill="#ff3b3b"/>
<circle cx="80.92" cy="577.86" r="2.7" fill="#ff3b3b"/>
<circle cx="99.28" cy="561.76" r="2.7" fill="#ff3b3b"/>
<circle cx="117.64" cy="547.61" r="2.7" fill="#ff3b3b"/>
<circle cx="154.36" cy="526.62" r="2.7" fill="#ff3b3b"/>
<circle cx="172.72" cy="530.53" r="2.7" fill="#ff3b3b"/>
<circle cx="191.08" cy="532.97" r="2.7" fill="#ff3b3b"/>
<circle cx="227.8" cy="525.16" r="2.7" fill="#ff3b3b"/>
<circle cx="53.38" cy="621.3" r="2.7" fill="#000000"/>
<circle cx="62.56" cy="602.26" r="2.7" fill="#000000"/>
<circle cx="71.74" cy="583.23" r="2.7" fill="#000000"/>
<circle cx="80.92" cy="577.86" r="2.7" fill="#000000"/>
<circle cx="99.28" cy="556.88" r="2.7" fill="#000000"/>
<circle cx="117.64" cy="539.31" r="2.7" fill="#000000"/>
<circle cx="154.36" cy="533.46" r="2.7" fill="#000000"/>
<circle cx="172.72" cy="526.62" r="2.7" fill="#000000"/>
<circle cx="191.08" cy="527.6" r="2.7" fill="#000000"/>
<circle cx="227.8" cy="525.16" r="2.7" fill="#000000"/>
<line x1="44.2" y1="503.3" x2="44.2" y2="625.9" stroke="#000" stroke-width="1.45" />
<line x1="39.2" y1="625.2" x2="44.2" y2="625.2" stroke="#000" stroke-width="1.45" />
<line x1="39.2" y1="600.8" x2="44.2" y2="600.8" stroke="#000" stroke-width="1.45" />
<line x1="39.2" y1="576.4" x2="44.2" y2="576.4" stroke="#000" stroke-width="1.45" />
<line x1="39.2" y1="552" x2="44.2" y2="552" stroke="#000" stroke-width="1.45" />
<line x1="39.2" y1="527.6" x2="44.2" y2="527.6" stroke="#000" stroke-width="1.45" />
<line x1="39.2" y1="503.2" x2="44.2" y2="503.2" stroke="#000" stroke-width="1.45" />
<text x="37.8" y="628.51" font-size="9.2" text-anchor="end" fill="#000" >0.0</text>
<text x="37.8" y="604.11" font-size="9.2" text-anchor="end" fill="#000" >0.5</text>
<text x="37.8" y="579.71" font-size="9.2" text-anchor="end" fill="#000" >1.0</text>
<text x="37.8" y="555.31" font-size="9.2" text-anchor="end" fill="#000" >1.5</text>
<text x="37.8" y="530.91" font-size="9.2" text-anchor="end" fill="#000" >2.0</text>
<text x="37.8" y="506.51" font-size="9.2" text-anchor="end" fill="#000" >2.5</text>
<line x1="43.6" y1="625.2" x2="227.9" y2="625.2" stroke="#000" stroke-width="1.45" />
<line x1="44.2" y1="625.2" x2="44.2" y2="629.7" stroke="#000" stroke-width="1.45" />
<line x1="80.92" y1="625.2" x2="80.92" y2="629.7" stroke="#000" stroke-width="1.45" />
<line x1="117.64" y1="625.2" x2="117.64" y2="629.7" stroke="#000" stroke-width="1.45" />
<line x1="154.36" y1="625.2" x2="154.36" y2="629.7" stroke="#000" stroke-width="1.45" />
<line x1="191.08" y1="625.2" x2="191.08" y2="629.7" stroke="#000" stroke-width="1.45" />
<line x1="227.8" y1="625.2" x2="227.8" y2="629.7" stroke="#000" stroke-width="1.45" />
<line x1="62.56" y1="625.2" x2="62.56" y2="628" stroke="#000" stroke-width="1.45" />
<line x1="99.28" y1="625.2" x2="99.28" y2="628" stroke="#000" stroke-width="1.45" />
<line x1="136" y1="625.2" x2="136" y2="628" stroke="#000" stroke-width="1.45" />
<line x1="172.72" y1="625.2" x2="172.72" y2="628" stroke="#000" stroke-width="1.45" />
<line x1="209.44" y1="625.2" x2="209.44" y2="628" stroke="#000" stroke-width="1.45" />
<text x="44.2" y="640.6" font-size="9.2" text-anchor="middle" fill="#000" >0</text>
<text x="80.92" y="640.6" font-size="9.2" text-anchor="middle" fill="#000" >20</text>
<text x="117.64" y="640.6" font-size="9.2" text-anchor="middle" fill="#000" >40</text>
<text x="154.36" y="640.6" font-size="9.2" text-anchor="middle" fill="#000" >60</text>
<text x="191.08" y="640.6" font-size="9.2" text-anchor="middle" fill="#000" >80</text>
<text x="227.8" y="640.6" font-size="9.2" text-anchor="middle" fill="#000" >100</text>
<text x="136" y="655.2" font-size="9.3" text-anchor="middle">Substrate (μM)</text>
<text transform="translate(11.9,564.8) rotate(-90)" font-size="9.1" text-anchor="middle">v/E<tspan font-size="6.3" dy="1.8">0</tspan><tspan dy="-1.8">(min</tspan><tspan font-size="6.3" dy="-3">-1</tspan><tspan dy="3">)</tspan></text>
<text x="175.7" y="451.9" font-size="8.7" text-anchor="middle">K<tspan font-size="6.2" dy="1.8">cat</tspan><tspan dy="-1.8">/K</tspan><tspan font-size="6.2" dy="1.8">m</tspan><tspan dy="-1.8">(M</tspan><tspan font-size="6.2" dy="-3">−1</tspan><tspan dy="3">·s</tspan><tspan font-size="6.2" dy="-3">−1</tspan><tspan dy="3">)</tspan></text>
<line x1="146.3" y1="456" x2="205.1" y2="456" stroke="#000" stroke-width="1.45" />
<line x1="54.4" y1="464.8" x2="68" y2="464.8" stroke="#000000" stroke-width="1.3" />
<circle cx="61.2" cy="464.8" r="2.3" fill="#000000"/>
<text x="75.2" y="467.8" font-size="8.5" text-anchor="start" fill="#000" >M<tspan font-size="6.6" dy="-2.8">pro</tspan><tspan dy="2.8">-WT</tspan></text>
<line x1="54.4" y1="476.2" x2="68" y2="476.2" stroke="#ff3b3b" stroke-width="1.3" />
<circle cx="61.2" cy="476.2" r="2.3" fill="#ff3b3b"/>
<text x="75.2" y="479.2" font-size="8.5" text-anchor="start" fill="#000" >M<tspan font-size="6.6" dy="-2.8">pro</tspan><tspan dy="2.8">-T45I</tspan></text>
<line x1="54.4" y1="487.7" x2="68" y2="487.7" stroke="#0000ff" stroke-width="1.3" />
<circle cx="61.2" cy="487.7" r="2.3" fill="#0000ff"/>
<text x="75.2" y="490.7" font-size="8.5" text-anchor="start" fill="#000" >M<tspan font-size="6.6" dy="-2.8">pro</tspan><tspan dy="2.8">-Δ23G</tspan></text>
<line x1="54.4" y1="499.4" x2="68" y2="499.4" stroke="#9b00e0" stroke-width="1.3" />
<circle cx="61.2" cy="499.4" r="2.3" fill="#9b00e0"/>
<text x="75.2" y="502.4" font-size="8.5" text-anchor="start" fill="#000" >M<tspan font-size="6.6" dy="-2.8">pro</tspan><tspan dy="2.8">-Δ23G/T45I</tspan></text>
<text x="175.6" y="468.3" font-size="8.6" text-anchor="middle">2.17 x 10<tspan font-size="6.2" dy="-3">4</tspan></text>
<text x="175.6" y="479.7" font-size="8.6" text-anchor="middle">1.91 x 10<tspan font-size="6.2" dy="-3">4</tspan></text>
<text x="175.6" y="491.2" font-size="8.6" text-anchor="middle">3.22 x 10<tspan font-size="6.2" dy="-3">3</tspan></text>
<text x="175.6" y="502.9" font-size="8.6" text-anchor="middle">4.17 x 10<tspan font-size="6.2" dy="-3">3</tspan></text>
<text x="241.6" y="474.3" font-size="9.6" text-anchor="start" fill="#000" font-weight="bold">g</text>
<line x1="281.3" y1="574.95" x2="461" y2="574.95" stroke="#000" stroke-width="1.25" stroke-dasharray="1.4 2.36"/>
<polyline points="286.35,523.75 287.62,523.75 288.88,523.76 290.15,523.76 291.41,523.76 292.68,523.76 293.94,523.76 295.21,523.76 296.47,523.76 297.74,523.76 299,523.77 300.27,523.77 301.53,523.77 302.8,523.77 304.06,523.77 305.33,523.78 306.59,523.78 307.86,523.78 309.12,523.79 310.39,523.79 311.65,523.79 312.92,523.8 314.18,523.8 315.45,523.8 316.71,523.81 317.98,523.81 319.25,523.82 320.51,523.82 321.78,523.83 323.04,523.84 324.31,523.84 325.57,523.85 326.84,523.86 328.1,523.87 329.37,523.88 330.63,523.89 331.9,523.9 333.16,523.91 334.43,523.92 335.69,523.93 336.96,523.95 338.22,523.96 339.49,523.98 340.75,523.99 342.02,524.01 343.28,524.03 344.55,524.05 345.81,524.07 347.08,524.1 348.34,524.12 349.61,524.15 350.87,524.18 352.14,524.21 353.4,524.24 354.67,524.28 355.93,524.32 357.2,524.36 358.46,524.41 359.73,524.45 360.99,524.5 362.26,524.56 363.52,524.62 364.79,524.68 366.05,524.75 367.32,524.82 368.58,524.89 369.85,524.98 371.11,525.06 372.38,525.16 373.64,525.26 374.91,525.36 376.17,525.48 377.44,525.6 378.7,525.73 379.97,525.87 381.23,526.02 382.5,526.18 383.76,526.36 385.03,526.54 386.29,526.74 387.56,526.94 388.82,527.17 390.09,527.4 391.35,527.66 392.62,527.93 393.88,528.22 395.15,528.52 396.41,528.85 397.68,529.2 398.94,529.57 400.21,529.96 401.48,530.38 402.74,530.83 404.01,531.3 405.27,531.8 406.54,532.33 407.8,532.89 409.07,533.49 410.33,534.12 411.6,534.78 412.86,535.49 414.13,536.23 415.39,537.01 416.66,537.83 417.92,538.7 419.19,539.61 420.45,540.56 421.72,541.56 422.98,542.61 424.25,543.7 425.51,544.84 426.78,546.02 428.04,547.26 429.31,548.54 430.57,549.86 431.84,551.24 433.1,552.65 434.37,554.11 435.63,555.62 436.9,557.16 438.16,558.74" fill="none" stroke="#9b00e0" stroke-width="1.45" stroke-linejoin="round" />
<polyline points="286.35,522.48 287.62,522.5 288.88,522.52 290.15,522.55 291.41,522.57 292.68,522.59 293.94,522.61 295.21,522.64 296.47,522.66 297.74,522.69 299,522.72 300.27,522.75 301.53,522.78 302.8,522.81 304.06,522.84 305.33,522.87 306.59,522.91 307.86,522.94 309.12,522.98 310.39,523.02 311.65,523.06 312.92,523.1 314.18,523.14 315.45,523.19 316.71,523.24 317.98,523.28 319.25,523.33 320.51,523.39 321.78,523.44 323.04,523.5 324.31,523.55 325.57,523.61 326.84,523.68 328.1,523.74 329.37,523.81 330.63,523.88 331.9,523.95 333.16,524.03 334.43,524.1 335.69,524.18 336.96,524.27 338.22,524.35 339.49,524.44 340.75,524.54 342.02,524.63 343.28,524.73 344.55,524.84 345.81,524.94 347.08,525.05 348.34,525.17 349.61,525.29 350.87,525.41 352.14,525.54 353.4,525.67 354.67,525.81 355.93,525.95 357.2,526.1 358.46,526.25 359.73,526.41 360.99,526.58 362.26,526.74 363.52,526.92 364.79,527.1 366.05,527.29 367.32,527.48 368.58,527.68 369.85,527.89 371.11,528.11 372.38,528.33 373.64,528.56 374.91,528.79 376.17,529.04 377.44,529.29 378.7,529.55 379.97,529.82 381.23,530.1 382.5,530.39 383.76,530.69 385.03,531 386.29,531.31 387.56,531.64 388.82,531.97 390.09,532.32 391.35,532.68 392.62,533.05 393.88,533.43 395.15,533.82 396.41,534.22 397.68,534.64 398.94,535.06 400.21,535.5 401.48,535.95 402.74,536.42 404.01,536.89 405.27,537.38 406.54,537.88 407.8,538.4 409.07,538.93 410.33,539.47 411.6,540.03 412.86,540.6 414.13,541.18 415.39,541.78 416.66,542.4 417.92,543.02 419.19,543.66 420.45,544.32 421.72,544.99 422.98,545.67 424.25,546.37 425.51,547.08 426.78,547.81 428.04,548.55 429.31,549.31 430.57,550.07 431.84,550.85 433.1,551.65 434.37,552.45 435.63,553.27 436.9,554.11 438.16,554.95" fill="none" stroke="#0000ff" stroke-width="1.45" stroke-linejoin="round" />
<polyline points="286.35,522.31 287.62,522.35 288.88,522.4 290.15,522.45 291.41,522.51 292.68,522.57 293.94,522.64 295.21,522.71 296.47,522.78 297.74,522.86 299,522.94 300.27,523.03 301.53,523.13 302.8,523.24 304.06,523.35 305.33,523.47 306.59,523.59 307.86,523.73 309.12,523.87 310.39,524.03 311.65,524.2 312.92,524.37 314.18,524.56 315.45,524.76 316.71,524.98 317.98,525.21 319.25,525.46 320.51,525.72 321.78,526 323.04,526.3 324.31,526.61 325.57,526.95 326.84,527.31 328.1,527.7 329.37,528.1 330.63,528.54 331.9,529 333.16,529.49 334.43,530.01 335.69,530.56 336.96,531.14 338.22,531.76 339.49,532.41 340.75,533.1 342.02,533.83 343.28,534.61 344.55,535.42 345.81,536.27 347.08,537.18 348.34,538.12 349.61,539.12 350.87,540.16 352.14,541.25 353.4,542.39 354.67,543.58 355.93,544.83 357.2,546.12 358.46,547.46 359.73,548.86 360.99,550.3 362.26,551.79 363.52,553.33 364.79,554.92 366.05,556.55 367.32,558.22 368.58,559.94 369.85,561.68 371.11,563.47 372.38,565.28 373.64,567.12 374.91,568.98 376.17,570.85 377.44,572.75 378.7,574.65 379.97,576.56 381.23,578.46 382.5,580.37 383.76,582.26 385.03,584.14 386.29,586 387.56,587.85 388.82,589.66 390.09,591.45 391.35,593.2 392.62,594.92 393.88,596.6 395.15,598.24 396.41,599.83 397.68,601.38 398.94,602.88 400.21,604.33 401.48,605.73 402.74,607.09 404.01,608.39 405.27,609.64 406.54,610.84 407.8,611.99 409.07,613.09 410.33,614.14 411.6,615.14 412.86,616.09 414.13,617 415.39,617.86 416.66,618.68 417.92,619.46 419.19,620.2 420.45,620.9 421.72,621.56 422.98,622.18 424.25,622.77 425.51,623.32 426.78,623.85 428.04,624.34 429.31,624.81 430.57,625.24 431.84,625.6 433.1,625.6 434.37,625.6 435.63,625.6 436.9,625.6 438.16,625.6" fill="none" stroke="#ff3b3b" stroke-width="1.45" stroke-linejoin="round" />
<polyline points="286.35,519.79 287.62,519.89 288.88,519.99 290.15,520.1 291.41,520.22 292.68,520.34 293.94,520.48 295.21,520.62 296.47,520.77 297.74,520.94 299,521.11 300.27,521.3 301.53,521.5 302.8,521.71 304.06,521.93 305.33,522.17 306.59,522.43 307.86,522.7 309.12,522.99 310.39,523.3 311.65,523.63 312.92,523.98 314.18,524.36 315.45,524.75 316.71,525.17 317.98,525.62 319.25,526.1 320.51,526.6 321.78,527.13 323.04,527.7 324.31,528.3 325.57,528.93 326.84,529.6 328.1,530.3 329.37,531.05 330.63,531.84 331.9,532.67 333.16,533.54 334.43,534.46 335.69,535.42 336.96,536.43 338.22,537.49 339.49,538.6 340.75,539.75 342.02,540.96 343.28,542.22 344.55,543.53 345.81,544.89 347.08,546.31 348.34,547.77 349.61,549.28 350.87,550.84 352.14,552.45 353.4,554.1 354.67,555.8 355.93,557.54 357.2,559.31 358.46,561.12 359.73,562.97 360.99,564.84 362.26,566.73 363.52,568.65 364.79,570.58 366.05,572.53 367.32,574.48 368.58,576.44 369.85,578.39 371.11,580.34 372.38,582.28 373.64,584.2 374.91,586.11 376.17,587.99 377.44,589.85 378.7,591.68 379.97,593.47 381.23,595.22 382.5,596.94 383.76,598.61 385.03,600.24 386.29,601.82 387.56,603.36 388.82,604.84 390.09,606.28 391.35,607.67 392.62,609 393.88,610.28 395.15,611.51 396.41,612.7 397.68,613.83 398.94,614.91 400.21,615.94 401.48,616.93 402.74,617.86 404.01,618.76 405.27,619.6 406.54,620.41 407.8,621.17 409.07,621.9 410.33,622.59 411.6,623.23 412.86,623.85 414.13,624.43 415.39,624.98 416.66,625.49 417.92,625.6 419.19,625.6 420.45,625.6 421.72,625.6 422.98,625.6 424.25,625.6 425.51,625.6 426.78,625.6 428.04,625.6 429.31,625.6 430.57,625.6 431.84,625.6 433.1,625.6 434.37,625.6 435.63,625.6 436.9,625.6 438.16,625.6" fill="none" stroke="#000000" stroke-width="1.45" stroke-linejoin="round" />
<line x1="286.35" y1="520.64" x2="286.35" y2="526.76" stroke="#9b00e0" stroke-width="0.95" />
<line x1="283.65" y1="520.64" x2="289.05" y2="520.64" stroke="#9b00e0" stroke-width="0.95" />
<line x1="283.65" y1="526.76" x2="289.05" y2="526.76" stroke="#9b00e0" stroke-width="0.95" />
<line x1="300.15" y1="520.64" x2="300.15" y2="526.76" stroke="#9b00e0" stroke-width="0.95" />
<line x1="297.45" y1="520.64" x2="302.85" y2="520.64" stroke="#9b00e0" stroke-width="0.95" />
<line x1="297.45" y1="526.76" x2="302.85" y2="526.76" stroke="#9b00e0" stroke-width="0.95" />
<line x1="313.95" y1="521.46" x2="313.95" y2="527.57" stroke="#9b00e0" stroke-width="0.95" />
<line x1="311.25" y1="521.46" x2="316.65" y2="521.46" stroke="#9b00e0" stroke-width="0.95" />
<line x1="311.25" y1="527.57" x2="316.65" y2="527.57" stroke="#9b00e0" stroke-width="0.95" />
<line x1="327.76" y1="519.62" x2="327.76" y2="527.78" stroke="#9b00e0" stroke-width="0.95" />
<line x1="325.06" y1="519.62" x2="330.46" y2="519.62" stroke="#9b00e0" stroke-width="0.95" />
<line x1="325.06" y1="527.78" x2="330.46" y2="527.78" stroke="#9b00e0" stroke-width="0.95" />
<line x1="341.56" y1="519.62" x2="341.56" y2="527.78" stroke="#9b00e0" stroke-width="0.95" />
<line x1="338.86" y1="519.62" x2="344.26" y2="519.62" stroke="#9b00e0" stroke-width="0.95" />
<line x1="338.86" y1="527.78" x2="344.26" y2="527.78" stroke="#9b00e0" stroke-width="0.95" />
<line x1="355.36" y1="521.46" x2="355.36" y2="527.57" stroke="#9b00e0" stroke-width="0.95" />
<line x1="352.66" y1="521.46" x2="358.06" y2="521.46" stroke="#9b00e0" stroke-width="0.95" />
<line x1="352.66" y1="527.57" x2="358.06" y2="527.57" stroke="#9b00e0" stroke-width="0.95" />
<line x1="369.16" y1="524.01" x2="369.16" y2="530.12" stroke="#9b00e0" stroke-width="0.95" />
<line x1="366.46" y1="524.01" x2="371.86" y2="524.01" stroke="#9b00e0" stroke-width="0.95" />
<line x1="366.46" y1="530.12" x2="371.86" y2="530.12" stroke="#9b00e0" stroke-width="0.95" />
<line x1="382.96" y1="519.22" x2="382.96" y2="531.44" stroke="#9b00e0" stroke-width="0.95" />
<line x1="380.26" y1="519.22" x2="385.66" y2="519.22" stroke="#9b00e0" stroke-width="0.95" />
<line x1="380.26" y1="531.44" x2="385.66" y2="531.44" stroke="#9b00e0" stroke-width="0.95" />
<line x1="396.76" y1="529.92" x2="396.76" y2="536.03" stroke="#9b00e0" stroke-width="0.95" />
<line x1="394.06" y1="529.92" x2="399.46" y2="529.92" stroke="#9b00e0" stroke-width="0.95" />
<line x1="394.06" y1="536.03" x2="399.46" y2="536.03" stroke="#9b00e0" stroke-width="0.95" />
<line x1="424.36" y1="541.23" x2="424.36" y2="547.34" stroke="#9b00e0" stroke-width="0.95" />
<line x1="421.66" y1="541.23" x2="427.06" y2="541.23" stroke="#9b00e0" stroke-width="0.95" />
<line x1="421.66" y1="547.34" x2="427.06" y2="547.34" stroke="#9b00e0" stroke-width="0.95" />
<line x1="438.16" y1="557.33" x2="438.16" y2="565.48" stroke="#9b00e0" stroke-width="0.95" />
<line x1="435.46" y1="557.33" x2="440.86" y2="557.33" stroke="#9b00e0" stroke-width="0.95" />
<line x1="435.46" y1="565.48" x2="440.86" y2="565.48" stroke="#9b00e0" stroke-width="0.95" />
<line x1="286.35" y1="515.24" x2="286.35" y2="527.47" stroke="#0000ff" stroke-width="0.95" />
<line x1="283.65" y1="515.24" x2="289.05" y2="515.24" stroke="#0000ff" stroke-width="0.95" />
<line x1="283.65" y1="527.47" x2="289.05" y2="527.47" stroke="#0000ff" stroke-width="0.95" />
<line x1="300.15" y1="512.8" x2="300.15" y2="533.18" stroke="#0000ff" stroke-width="0.95" />
<line x1="297.45" y1="512.8" x2="302.85" y2="512.8" stroke="#0000ff" stroke-width="0.95" />
<line x1="297.45" y1="533.18" x2="302.85" y2="533.18" stroke="#0000ff" stroke-width="0.95" />
<line x1="313.95" y1="511.17" x2="313.95" y2="531.55" stroke="#0000ff" stroke-width="0.95" />
<line x1="311.25" y1="511.17" x2="316.65" y2="511.17" stroke="#0000ff" stroke-width="0.95" />
<line x1="311.25" y1="531.55" x2="316.65" y2="531.55" stroke="#0000ff" stroke-width="0.95" />
<line x1="327.76" y1="519.42" x2="327.76" y2="529.61" stroke="#0000ff" stroke-width="0.95" />
<line x1="325.06" y1="519.42" x2="330.46" y2="519.42" stroke="#0000ff" stroke-width="0.95" />
<line x1="325.06" y1="529.61" x2="330.46" y2="529.61" stroke="#0000ff" stroke-width="0.95" />
<line x1="341.56" y1="519.42" x2="341.56" y2="529.61" stroke="#0000ff" stroke-width="0.95" />
<line x1="338.86" y1="519.42" x2="344.26" y2="519.42" stroke="#0000ff" stroke-width="0.95" />
<line x1="338.86" y1="529.61" x2="344.26" y2="529.61" stroke="#0000ff" stroke-width="0.95" />
<line x1="355.36" y1="518.3" x2="355.36" y2="524.41" stroke="#0000ff" stroke-width="0.95" />
<line x1="352.66" y1="518.3" x2="358.06" y2="518.3" stroke="#0000ff" stroke-width="0.95" />
<line x1="352.66" y1="524.41" x2="358.06" y2="524.41" stroke="#0000ff" stroke-width="0.95" />
<line x1="369.16" y1="527.78" x2="369.16" y2="537.97" stroke="#0000ff" stroke-width="0.95" />
<line x1="366.46" y1="527.78" x2="371.86" y2="527.78" stroke="#0000ff" stroke-width="0.95" />
<line x1="366.46" y1="537.97" x2="371.86" y2="537.97" stroke="#0000ff" stroke-width="0.95" />
<line x1="396.76" y1="533.99" x2="396.76" y2="540.11" stroke="#0000ff" stroke-width="0.95" />
<line x1="394.06" y1="533.99" x2="399.46" y2="533.99" stroke="#0000ff" stroke-width="0.95" />
<line x1="394.06" y1="540.11" x2="399.46" y2="540.11" stroke="#0000ff" stroke-width="0.95" />
<line x1="410.56" y1="531.95" x2="410.56" y2="540.11" stroke="#0000ff" stroke-width="0.95" />
<line x1="407.86" y1="531.95" x2="413.26" y2="531.95" stroke="#0000ff" stroke-width="0.95" />
<line x1="407.86" y1="540.11" x2="413.26" y2="540.11" stroke="#0000ff" stroke-width="0.95" />
<line x1="424.36" y1="542.14" x2="424.36" y2="548.26" stroke="#0000ff" stroke-width="0.95" />
<line x1="421.66" y1="542.14" x2="427.06" y2="542.14" stroke="#0000ff" stroke-width="0.95" />
<line x1="421.66" y1="548.26" x2="427.06" y2="548.26" stroke="#0000ff" stroke-width="0.95" />
<line x1="438.16" y1="549.38" x2="438.16" y2="564.66" stroke="#0000ff" stroke-width="0.95" />
<line x1="435.46" y1="549.38" x2="440.86" y2="549.38" stroke="#0000ff" stroke-width="0.95" />
<line x1="435.46" y1="564.66" x2="440.86" y2="564.66" stroke="#0000ff" stroke-width="0.95" />
<line x1="286.35" y1="519.93" x2="286.35" y2="526.04" stroke="#ff3b3b" stroke-width="0.95" />
<line x1="283.65" y1="519.93" x2="289.05" y2="519.93" stroke="#ff3b3b" stroke-width="0.95" />
<line x1="283.65" y1="526.04" x2="289.05" y2="526.04" stroke="#ff3b3b" stroke-width="0.95" />
<line x1="300.15" y1="520.44" x2="300.15" y2="540.82" stroke="#ff3b3b" stroke-width="0.95" />
<line x1="297.45" y1="520.44" x2="302.85" y2="520.44" stroke="#ff3b3b" stroke-width="0.95" />
<line x1="297.45" y1="540.82" x2="302.85" y2="540.82" stroke="#ff3b3b" stroke-width="0.95" />
<line x1="313.95" y1="523.7" x2="313.95" y2="529.81" stroke="#ff3b3b" stroke-width="0.95" />
<line x1="311.25" y1="523.7" x2="316.65" y2="523.7" stroke="#ff3b3b" stroke-width="0.95" />
<line x1="311.25" y1="529.81" x2="316.65" y2="529.81" stroke="#ff3b3b" stroke-width="0.95" />
<line x1="327.76" y1="525.43" x2="327.76" y2="533.58" stroke="#ff3b3b" stroke-width="0.95" />
<line x1="325.06" y1="525.43" x2="330.46" y2="525.43" stroke="#ff3b3b" stroke-width="0.95" />
<line x1="325.06" y1="533.58" x2="330.46" y2="533.58" stroke="#ff3b3b" stroke-width="0.95" />
<line x1="341.56" y1="528.8" x2="341.56" y2="536.95" stroke="#ff3b3b" stroke-width="0.95" />
<line x1="338.86" y1="528.8" x2="344.26" y2="528.8" stroke="#ff3b3b" stroke-width="0.95" />
<line x1="338.86" y1="536.95" x2="344.26" y2="536.95" stroke="#ff3b3b" stroke-width="0.95" />
<line x1="355.36" y1="529.81" x2="355.36" y2="552.23" stroke="#ff3b3b" stroke-width="0.95" />
<line x1="352.66" y1="529.81" x2="358.06" y2="529.81" stroke="#ff3b3b" stroke-width="0.95" />
<line x1="352.66" y1="552.23" x2="358.06" y2="552.23" stroke="#ff3b3b" stroke-width="0.95" />
<line x1="286.35" y1="521.66" x2="286.35" y2="529.81" stroke="#000000" stroke-width="0.95" />
<line x1="283.65" y1="521.66" x2="289.05" y2="521.66" stroke="#000000" stroke-width="0.95" />
<line x1="283.65" y1="529.81" x2="289.05" y2="529.81" stroke="#000000" stroke-width="0.95" />
<line x1="300.15" y1="521.46" x2="300.15" y2="527.57" stroke="#000000" stroke-width="0.95" />
<line x1="297.45" y1="521.46" x2="302.85" y2="521.46" stroke="#000000" stroke-width="0.95" />
<line x1="297.45" y1="527.57" x2="302.85" y2="527.57" stroke="#000000" stroke-width="0.95" />
<line x1="313.95" y1="524.72" x2="313.95" y2="530.83" stroke="#000000" stroke-width="0.95" />
<line x1="311.25" y1="524.72" x2="316.65" y2="524.72" stroke="#000000" stroke-width="0.95" />
<line x1="311.25" y1="530.83" x2="316.65" y2="530.83" stroke="#000000" stroke-width="0.95" />
<line x1="327.76" y1="525.33" x2="327.76" y2="531.44" stroke="#000000" stroke-width="0.95" />
<line x1="325.06" y1="525.33" x2="330.46" y2="525.33" stroke="#000000" stroke-width="0.95" />
<line x1="325.06" y1="531.44" x2="330.46" y2="531.44" stroke="#000000" stroke-width="0.95" />
<line x1="341.56" y1="531.24" x2="341.56" y2="537.35" stroke="#000000" stroke-width="0.95" />
<line x1="338.86" y1="531.24" x2="344.26" y2="531.24" stroke="#000000" stroke-width="0.95" />
<line x1="338.86" y1="537.35" x2="344.26" y2="537.35" stroke="#000000" stroke-width="0.95" />
<line x1="355.36" y1="536.74" x2="355.36" y2="544.9" stroke="#000000" stroke-width="0.95" />
<line x1="352.66" y1="536.74" x2="358.06" y2="536.74" stroke="#000000" stroke-width="0.95" />
<line x1="352.66" y1="544.9" x2="358.06" y2="544.9" stroke="#000000" stroke-width="0.95" />
<circle cx="286.35" cy="523.7" r="2.7" fill="#9b00e0"/>
<circle cx="300.15" cy="523.7" r="2.7" fill="#9b00e0"/>
<circle cx="313.95" cy="524.52" r="2.7" fill="#9b00e0"/>
<circle cx="327.76" cy="523.7" r="2.7" fill="#9b00e0"/>
<circle cx="341.56" cy="523.7" r="2.7" fill="#9b00e0"/>
<circle cx="355.36" cy="524.52" r="2.7" fill="#9b00e0"/>
<circle cx="369.16" cy="527.06" r="2.7" fill="#9b00e0"/>
<circle cx="382.96" cy="525.33" r="2.7" fill="#9b00e0"/>
<circle cx="396.76" cy="532.97" r="2.7" fill="#9b00e0"/>
<circle cx="410.56" cy="530.83" r="2.7" fill="#9b00e0"/>
<circle cx="424.36" cy="544.28" r="2.7" fill="#9b00e0"/>
<circle cx="438.16" cy="561.4" r="2.7" fill="#9b00e0"/>
<circle cx="286.35" cy="521.36" r="2.7" fill="#0000ff"/>
<circle cx="300.15" cy="522.99" r="2.7" fill="#0000ff"/>
<circle cx="313.95" cy="521.36" r="2.7" fill="#0000ff"/>
<circle cx="327.76" cy="524.52" r="2.7" fill="#0000ff"/>
<circle cx="341.56" cy="524.52" r="2.7" fill="#0000ff"/>
<circle cx="355.36" cy="521.36" r="2.7" fill="#0000ff"/>
<circle cx="369.16" cy="532.87" r="2.7" fill="#0000ff"/>
<circle cx="382.96" cy="533.58" r="2.7" fill="#0000ff"/>
<circle cx="396.76" cy="537.05" r="2.7" fill="#0000ff"/>
<circle cx="410.56" cy="536.03" r="2.7" fill="#0000ff"/>
<circle cx="424.36" cy="545.2" r="2.7" fill="#0000ff"/>
<circle cx="438.16" cy="557.02" r="2.7" fill="#0000ff"/>
<circle cx="286.35" cy="522.99" r="2.7" fill="#ff3b3b"/>
<circle cx="300.15" cy="530.63" r="2.7" fill="#ff3b3b"/>
<circle cx="313.95" cy="526.76" r="2.7" fill="#ff3b3b"/>
<circle cx="327.76" cy="529.51" r="2.7" fill="#ff3b3b"/>
<circle cx="341.56" cy="532.87" r="2.7" fill="#ff3b3b"/>
<circle cx="355.36" cy="541.02" r="2.7" fill="#ff3b3b"/>
<circle cx="369.16" cy="546.93" r="2.7" fill="#ff3b3b"/>
<circle cx="382.96" cy="590.75" r="2.7" fill="#ff3b3b"/>
<circle cx="396.76" cy="605.22" r="2.7" fill="#ff3b3b"/>
<circle cx="410.56" cy="616.12" r="2.7" fill="#ff3b3b"/>
<circle cx="424.36" cy="619.79" r="2.7" fill="#ff3b3b"/>
<circle cx="438.16" cy="623.26" r="2.7" fill="#ff3b3b"/>
<circle cx="286.35" cy="525.74" r="2.7" fill="#000000"/>
<circle cx="300.15" cy="524.52" r="2.7" fill="#000000"/>
<circle cx="313.95" cy="527.78" r="2.7" fill="#000000"/>
<circle cx="327.76" cy="528.39" r="2.7" fill="#000000"/>
<circle cx="341.56" cy="534.3" r="2.7" fill="#000000"/>
<circle cx="355.36" cy="540.82" r="2.7" fill="#000000"/>
<circle cx="369.16" cy="580.15" r="2.7" fill="#000000"/>
<circle cx="382.96" cy="610.21" r="2.7" fill="#000000"/>
<circle cx="396.76" cy="618.16" r="2.7" fill="#000000"/>
<circle cx="410.56" cy="622.95" r="2.7" fill="#000000"/>
<circle cx="424.36" cy="623.97" r="2.7" fill="#000000"/>
<circle cx="438.16" cy="624.58" r="2.7" fill="#000000"/>
<line x1="278.1" y1="502.8" x2="278.1" y2="626.2" stroke="#000" stroke-width="1.45" />
<line x1="272.8" y1="625.6" x2="278.1" y2="625.6" stroke="#000" stroke-width="1.45" />
<line x1="272.8" y1="574.65" x2="278.1" y2="574.65" stroke="#000" stroke-width="1.45" />
<line x1="272.8" y1="523.7" x2="278.1" y2="523.7" stroke="#000" stroke-width="1.45" />
<line x1="274.6" y1="600.12" x2="278.1" y2="600.12" stroke="#000" stroke-width="1.45" />
<line x1="274.6" y1="549.18" x2="278.1" y2="549.18" stroke="#000" stroke-width="1.45" />
<text x="271.5" y="628.91" font-size="9.2" text-anchor="end" fill="#000" >0</text>
<text x="271.5" y="577.96" font-size="9.2" text-anchor="end" fill="#000" >50</text>
<text x="271.5" y="527.01" font-size="9.2" text-anchor="end" fill="#000" >100</text>
<line x1="277.5" y1="625.6" x2="462.1" y2="625.6" stroke="#000" stroke-width="1.45" />
<line x1="278.1" y1="625.6" x2="278.1" y2="629.8" stroke="#000" stroke-width="1.45" />
<line x1="323.95" y1="625.6" x2="323.95" y2="629.8" stroke="#000" stroke-width="1.45" />
<line x1="369.8" y1="625.6" x2="369.8" y2="629.8" stroke="#000" stroke-width="1.45" />
<line x1="415.65" y1="625.6" x2="415.65" y2="629.8" stroke="#000" stroke-width="1.45" />
<line x1="461.5" y1="625.6" x2="461.5" y2="629.8" stroke="#000" stroke-width="1.45" />
<line x1="289.56" y1="625.6" x2="289.56" y2="628.4" stroke="#000" stroke-width="1.45" />
<line x1="301.03" y1="625.6" x2="301.03" y2="628.4" stroke="#000" stroke-width="1.45" />
<line x1="312.49" y1="625.6" x2="312.49" y2="628.4" stroke="#000" stroke-width="1.45" />
<line x1="335.41" y1="625.6" x2="335.41" y2="628.4" stroke="#000" stroke-width="1.45" />
<line x1="346.88" y1="625.6" x2="346.88" y2="628.4" stroke="#000" stroke-width="1.45" />
<line x1="358.34" y1="625.6" x2="358.34" y2="628.4" stroke="#000" stroke-width="1.45" />
<line x1="381.26" y1="625.6" x2="381.26" y2="628.4" stroke="#000" stroke-width="1.45" />
<line x1="392.73" y1="625.6" x2="392.73" y2="628.4" stroke="#000" stroke-width="1.45" />
<line x1="404.19" y1="625.6" x2="404.19" y2="628.4" stroke="#000" stroke-width="1.45" />
<line x1="427.11" y1="625.6" x2="427.11" y2="628.4" stroke="#000" stroke-width="1.45" />
<line x1="438.58" y1="625.6" x2="438.58" y2="628.4" stroke="#000" stroke-width="1.45" />
<line x1="450.04" y1="625.6" x2="450.04" y2="628.4" stroke="#000" stroke-width="1.45" />
<text x="278.1" y="640.8" font-size="9.2" text-anchor="middle" fill="#000" >-9</text>
<text x="323.95" y="640.8" font-size="9.2" text-anchor="middle" fill="#000" >-8</text>
<text x="369.8" y="640.8" font-size="9.2" text-anchor="middle" fill="#000" >-7</text>
<text x="415.65" y="640.8" font-size="9.2" text-anchor="middle" fill="#000" >-6</text>
<text x="461.5" y="640.8" font-size="9.2" text-anchor="middle" fill="#000" >-5</text>
<text transform="translate(244.7,564.4) rotate(-90)" font-size="9.1" text-anchor="middle">Activity (%)</text>
<text x="370.1" y="654.4" font-size="9.45" text-anchor="middle">Log<tspan font-size="6.3" dy="2.2">10</tspan><tspan dy="-2.2"> [ensitrelvir] μM</tspan></text>
<text x="415.4" y="452.2" font-size="9" text-anchor="middle">IC<tspan font-size="6.2" dy="1.8">50</tspan><tspan dy="-1.8"> ± SD (μM)</tspan></text>
<line x1="385.5" y1="455.3" x2="444.5" y2="455.3" stroke="#000" stroke-width="1.45" />
<line x1="288.5" y1="464.6" x2="302.1" y2="464.6" stroke="#000000" stroke-width="1.3" />
<circle cx="295.3" cy="464.6" r="2.3" fill="#000000"/>
<text x="309.3" y="467.6" font-size="8.5" text-anchor="start" fill="#000" >M<tspan font-size="6.6" dy="-2.8">pro</tspan><tspan dy="2.8">-WT</tspan></text>
<line x1="288.5" y1="476" x2="302.1" y2="476" stroke="#ff3b3b" stroke-width="1.3" />
<circle cx="295.3" cy="476" r="2.3" fill="#ff3b3b"/>
<text x="309.3" y="479" font-size="8.5" text-anchor="start" fill="#000" >M<tspan font-size="6.6" dy="-2.8">pro</tspan><tspan dy="2.8">-T45I</tspan></text>
<line x1="288.5" y1="487.5" x2="302.1" y2="487.5" stroke="#0000ff" stroke-width="1.3" />
<circle cx="295.3" cy="487.5" r="2.3" fill="#0000ff"/>
<text x="309.3" y="490.5" font-size="8.5" text-anchor="start" fill="#000" >M<tspan font-size="6.6" dy="-2.8">pro</tspan><tspan dy="2.8">-Δ23G</tspan></text>
<line x1="288.5" y1="499" x2="302.1" y2="499" stroke="#9b00e0" stroke-width="1.3" />
<circle cx="295.3" cy="499" r="2.3" fill="#9b00e0"/>
<text x="309.3" y="502" font-size="8.5" text-anchor="start" fill="#000" >M<tspan font-size="6.6" dy="-2.8">pro</tspan><tspan dy="2.8">-Δ23G/T45I</tspan></text>
<text x="416.2" y="467" font-size="8.6" text-anchor="middle" fill="#000" >0.096 ± 0.006</text>
<text x="416.2" y="478.4" font-size="8.6" text-anchor="middle" fill="#000" >0.184 ± 0.010</text>
<text x="413" y="489.9" font-size="8.6" text-anchor="middle" fill="#000" >N.D</text>
<text x="413" y="501.4" font-size="8.6" text-anchor="middle" fill="#000" >N.D</text>
<text x="472.2" y="474.3" font-size="9.6" text-anchor="start" fill="#000" font-weight="bold">h</text>
<line x1="501.3" y1="574.95" x2="680" y2="574.95" stroke="#000" stroke-width="1.25" stroke-dasharray="1.4 2.36"/>
<polyline points="506.31,523.48 507.57,523.52 508.82,523.56 510.08,523.6 511.34,523.65 512.6,523.71 513.86,523.76 515.12,523.83 516.37,523.9 517.63,523.97 518.89,524.05 520.15,524.13 521.41,524.23 522.66,524.33 523.92,524.43 525.18,524.55 526.44,524.67 527.7,524.81 528.96,524.96 530.21,525.11 531.47,525.28 532.73,525.47 533.99,525.67 535.25,525.88 536.5,526.11 537.76,526.36 539.02,526.62 540.28,526.91 541.54,527.22 542.8,527.55 544.05,527.9 545.31,528.29 546.57,528.7 547.83,529.14 549.09,529.61 550.34,530.11 551.6,530.65 552.86,531.23 554.12,531.84 555.38,532.5 556.64,533.2 557.89,533.94 559.15,534.74 560.41,535.58 561.67,536.47 562.93,537.42 564.18,538.41 565.44,539.47 566.7,540.58 567.96,541.75 569.22,542.98 570.48,544.26 571.73,545.6 572.99,547.01 574.25,548.47 575.51,549.98 576.77,551.55 578.02,553.17 579.28,554.84 580.54,556.56 581.8,558.32 583.06,560.12 584.32,561.96 585.57,563.82 586.83,565.7 588.09,567.61 589.35,569.53 590.61,571.45 591.86,573.38 593.12,575.29 594.38,577.2 595.64,579.09 596.9,580.96 598.16,582.8 599.41,584.61 600.67,586.38 601.93,588.11 603.19,589.79 604.45,591.43 605.7,593.01 606.96,594.54 608.22,596.01 609.48,597.43 610.74,598.79 612,600.09 613.25,601.33 614.51,602.51 615.77,603.64 617.03,604.7 618.29,605.72 619.54,606.67 620.8,607.58 622.06,608.43 623.32,609.24 624.58,609.99 625.84,610.7 627.09,611.37 628.35,612 629.61,612.58 630.87,613.13 632.13,613.64 633.38,614.12 634.64,614.57 635.9,614.99 637.16,615.38 638.42,615.74 639.68,616.07 640.93,616.39 642.19,616.68 643.45,616.95 644.71,617.2 645.97,617.44 647.22,617.65 648.48,617.85 649.74,618.04 651,618.21 652.26,618.38 653.52,618.52 654.77,618.66 656.03,618.79 657.29,618.91" fill="none" stroke="#9b00e0" stroke-width="1.45" stroke-linejoin="round" />
<polyline points="506.31,528.09 507.57,528.14 508.82,528.19 510.08,528.24 511.34,528.3 512.6,528.36 513.86,528.43 515.12,528.5 516.37,528.58 517.63,528.66 518.89,528.76 520.15,528.85 521.41,528.96 522.66,529.08 523.92,529.2 525.18,529.34 526.44,529.48 527.7,529.64 528.96,529.81 530.21,529.99 531.47,530.18 532.73,530.39 533.99,530.62 535.25,530.87 536.5,531.13 537.76,531.41 539.02,531.72 540.28,532.04 541.54,532.4 542.8,532.77 544.05,533.18 545.31,533.61 546.57,534.08 547.83,534.58 549.09,535.11 550.34,535.69 551.6,536.3 552.86,536.95 554.12,537.64 555.38,538.38 556.64,539.17 557.89,540.01 559.15,540.9 560.41,541.84 561.67,542.83 562.93,543.89 564.18,545 565.44,546.17 566.7,547.4 567.96,548.7 569.22,550.05 570.48,551.46 571.73,552.94 572.99,554.48 574.25,556.07 575.51,557.72 576.77,559.43 578.02,561.19 579.28,562.99 580.54,564.85 581.8,566.74 583.06,568.67 584.32,570.63 585.57,572.61 586.83,574.62 588.09,576.63 589.35,578.66 590.61,580.69 591.86,582.71 593.12,584.72 594.38,586.72 595.64,588.69 596.9,590.63 598.16,592.54 599.41,594.41 600.67,596.24 601.93,598.02 603.19,599.74 604.45,601.42 605.7,603.04 606.96,604.6 608.22,606.1 609.48,607.54 610.74,608.92 612,610.24 613.25,611.5 614.51,612.7 615.77,613.84 617.03,614.91 618.29,615.93 619.54,616.9 620.8,617.81 622.06,618.67 623.32,619.48 624.58,620.24 625.84,620.95 627.09,621.62 628.35,622.25 629.61,622.84 630.87,623.39 632.13,623.9 633.38,624.38 634.64,624.83 635.9,625.25 637.16,625.6 638.42,625.6 639.68,625.6 640.93,625.6 642.19,625.6 643.45,625.6 644.71,625.6 645.97,625.6 647.22,625.6 648.48,625.6 649.74,625.6 651,625.6 652.26,625.6 653.52,625.6 654.77,625.6 656.03,625.6 657.29,625.6" fill="none" stroke="#0000ff" stroke-width="1.45" stroke-linejoin="round" />
<polyline points="506.31,521.72 507.57,521.76 508.82,521.81 510.08,521.86 511.34,521.91 512.6,521.97 513.86,522.03 515.12,522.1 516.37,522.17 517.63,522.25 518.89,522.33 520.15,522.42 521.41,522.51 522.66,522.61 523.92,522.72 525.18,522.83 526.44,522.95 527.7,523.09 528.96,523.23 530.21,523.38 531.47,523.54 532.73,523.71 533.99,523.89 535.25,524.09 536.5,524.3 537.76,524.52 539.02,524.76 540.28,525.02 541.54,525.29 542.8,525.59 544.05,525.9 545.31,526.23 546.57,526.58 547.83,526.96 549.09,527.36 550.34,527.79 551.6,528.24 552.86,528.72 554.12,529.24 555.38,529.78 556.64,530.36 557.89,530.97 559.15,531.62 560.41,532.31 561.67,533.04 562.93,533.8 564.18,534.61 565.44,535.47 566.7,536.37 567.96,537.32 569.22,538.31 570.48,539.36 571.73,540.46 572.99,541.6 574.25,542.8 575.51,544.06 576.77,545.36 578.02,546.72 579.28,548.13 580.54,549.59 581.8,551.11 583.06,552.67 584.32,554.28 585.57,555.94 586.83,557.65 588.09,559.39 589.35,561.18 590.61,563 591.86,564.85 593.12,566.73 594.38,568.63 595.64,570.56 596.9,572.5 598.16,574.45 599.41,576.41 600.67,578.37 601.93,580.33 603.19,582.27 604.45,584.21 605.7,586.13 606.96,588.02 608.22,589.89 609.48,591.73 610.74,593.54 612,595.31 613.25,597.04 614.51,598.72 615.77,600.36 617.03,601.95 618.29,603.5 619.54,604.99 620.8,606.43 622.06,607.82 623.32,609.16 624.58,610.44 625.84,611.68 627.09,612.85 628.35,613.98 629.61,615.06 630.87,616.08 632.13,617.06 633.38,617.99 634.64,618.87 635.9,619.71 637.16,620.5 638.42,621.25 639.68,621.96 640.93,622.63 642.19,623.27 643.45,623.87 644.71,624.43 645.97,624.96 647.22,625.46 648.48,625.6 649.74,625.6 651,625.6 652.26,625.6 653.52,625.6 654.77,625.6 656.03,625.6 657.29,625.6" fill="none" stroke="#ff3b3b" stroke-width="1.45" stroke-linejoin="round" />
<polyline points="506.31,522.12 507.57,522.16 508.82,522.2 510.08,522.25 511.34,522.3 512.6,522.35 513.86,522.4 515.12,522.47 516.37,522.53 517.63,522.6 518.89,522.68 520.15,522.76 521.41,522.85 522.66,522.94 523.92,523.04 525.18,523.15 526.44,523.27 527.7,523.39 528.96,523.53 530.21,523.67 531.47,523.83 532.73,523.99 533.99,524.17 535.25,524.37 536.5,524.57 537.76,524.79 539.02,525.03 540.28,525.28 541.54,525.55 542.8,525.85 544.05,526.16 545.31,526.49 546.57,526.85 547.83,527.23 549.09,527.64 550.34,528.07 551.6,528.54 552.86,529.03 554.12,529.56 555.38,530.12 556.64,530.72 557.89,531.36 559.15,532.03 560.41,532.75 561.67,533.52 562.93,534.33 564.18,535.18 565.44,536.09 566.7,537.04 567.96,538.05 569.22,539.12 570.48,540.23 571.73,541.41 572.99,542.64 574.25,543.93 575.51,545.28 576.77,546.69 578.02,548.16 579.28,549.68 580.54,551.27 581.8,552.91 583.06,554.6 584.32,556.35 585.57,558.14 586.83,559.99 588.09,561.88 589.35,563.8 590.61,565.77 591.86,567.77 593.12,569.79 594.38,571.83 595.64,573.9 596.9,575.97 598.16,578.05 599.41,580.13 600.67,582.2 601.93,584.26 603.19,586.31 604.45,588.33 605.7,590.32 606.96,592.29 608.22,594.22 609.48,596.1 610.74,597.95 612,599.74 613.25,601.49 614.51,603.18 615.77,604.82 617.03,606.4 618.29,607.93 619.54,609.4 620.8,610.8 622.06,612.15 623.32,613.44 624.58,614.67 625.84,615.85 627.09,616.97 628.35,618.03 629.61,619.04 630.87,619.99 632.13,620.9 633.38,621.75 634.64,622.56 635.9,623.32 637.16,624.04 638.42,624.72 639.68,625.35 640.93,625.6 642.19,625.6 643.45,625.6 644.71,625.6 645.97,625.6 647.22,625.6 648.48,625.6 649.74,625.6 651,625.6 652.26,625.6 653.52,625.6 654.77,625.6 656.03,625.6 657.29,625.6" fill="none" stroke="#000000" stroke-width="1.45" stroke-linejoin="round" />
<line x1="506.31" y1="514.73" x2="506.31" y2="524.92" stroke="#9b00e0" stroke-width="0.95" />
<line x1="503.61" y1="514.73" x2="509.01" y2="514.73" stroke="#9b00e0" stroke-width="0.95" />
<line x1="503.61" y1="524.92" x2="509.01" y2="524.92" stroke="#9b00e0" stroke-width="0.95" />
<line x1="506.31" y1="519.73" x2="506.31" y2="529.92" stroke="#0000ff" stroke-width="0.95" />
<line x1="503.61" y1="519.73" x2="509.01" y2="519.73" stroke="#0000ff" stroke-width="0.95" />
<line x1="503.61" y1="529.92" x2="509.01" y2="529.92" stroke="#0000ff" stroke-width="0.95" />
<line x1="520.03" y1="523.5" x2="520.03" y2="533.69" stroke="#0000ff" stroke-width="0.95" />
<line x1="517.33" y1="523.5" x2="522.73" y2="523.5" stroke="#0000ff" stroke-width="0.95" />
<line x1="517.33" y1="533.69" x2="522.73" y2="533.69" stroke="#0000ff" stroke-width="0.95" />
<line x1="533.76" y1="525.74" x2="533.76" y2="533.89" stroke="#0000ff" stroke-width="0.95" />
<line x1="531.06" y1="525.74" x2="536.46" y2="525.74" stroke="#0000ff" stroke-width="0.95" />
<line x1="531.06" y1="533.89" x2="536.46" y2="533.89" stroke="#0000ff" stroke-width="0.95" />
<line x1="547.48" y1="531.65" x2="547.48" y2="543.88" stroke="#0000ff" stroke-width="0.95" />
<line x1="544.78" y1="531.65" x2="550.18" y2="531.65" stroke="#0000ff" stroke-width="0.95" />
<line x1="544.78" y1="543.88" x2="550.18" y2="543.88" stroke="#0000ff" stroke-width="0.95" />
<line x1="561.21" y1="554.98" x2="561.21" y2="563.14" stroke="#0000ff" stroke-width="0.95" />
<line x1="558.51" y1="554.98" x2="563.91" y2="554.98" stroke="#0000ff" stroke-width="0.95" />
<line x1="558.51" y1="563.14" x2="563.91" y2="563.14" stroke="#0000ff" stroke-width="0.95" />
<line x1="602.39" y1="603.79" x2="602.39" y2="611.95" stroke="#0000ff" stroke-width="0.95" />
<line x1="599.69" y1="603.79" x2="605.09" y2="603.79" stroke="#0000ff" stroke-width="0.95" />
<line x1="599.69" y1="611.95" x2="605.09" y2="611.95" stroke="#0000ff" stroke-width="0.95" />
<line x1="506.31" y1="517.99" x2="506.31" y2="524.11" stroke="#ff3b3b" stroke-width="0.95" />
<line x1="503.61" y1="517.99" x2="509.01" y2="517.99" stroke="#ff3b3b" stroke-width="0.95" />
<line x1="503.61" y1="524.11" x2="509.01" y2="524.11" stroke="#ff3b3b" stroke-width="0.95" />
<line x1="533.76" y1="521.25" x2="533.76" y2="529.41" stroke="#ff3b3b" stroke-width="0.95" />
<line x1="531.06" y1="521.25" x2="536.46" y2="521.25" stroke="#ff3b3b" stroke-width="0.95" />
<line x1="531.06" y1="529.41" x2="536.46" y2="529.41" stroke="#ff3b3b" stroke-width="0.95" />
<line x1="547.48" y1="524.72" x2="547.48" y2="530.83" stroke="#ff3b3b" stroke-width="0.95" />
<line x1="544.78" y1="524.72" x2="550.18" y2="524.72" stroke="#ff3b3b" stroke-width="0.95" />
<line x1="544.78" y1="530.83" x2="550.18" y2="530.83" stroke="#ff3b3b" stroke-width="0.95" />
<line x1="561.21" y1="530.53" x2="561.21" y2="536.64" stroke="#ff3b3b" stroke-width="0.95" />
<line x1="558.51" y1="530.53" x2="563.91" y2="530.53" stroke="#ff3b3b" stroke-width="0.95" />
<line x1="558.51" y1="536.64" x2="563.91" y2="536.64" stroke="#ff3b3b" stroke-width="0.95" />
<line x1="588.66" y1="546.63" x2="588.66" y2="558.86" stroke="#ff3b3b" stroke-width="0.95" />
<line x1="585.96" y1="546.63" x2="591.36" y2="546.63" stroke="#ff3b3b" stroke-width="0.95" />
<line x1="585.96" y1="558.86" x2="591.36" y2="558.86" stroke="#ff3b3b" stroke-width="0.95" />
<line x1="533.76" y1="529.2" x2="533.76" y2="539.39" stroke="#000000" stroke-width="0.95" />
<line x1="531.06" y1="529.2" x2="536.46" y2="529.2" stroke="#000000" stroke-width="0.95" />
<line x1="531.06" y1="539.39" x2="536.46" y2="539.39" stroke="#000000" stroke-width="0.95" />
<line x1="561.21" y1="527.98" x2="561.21" y2="534.09" stroke="#000000" stroke-width="0.95" />
<line x1="558.51" y1="527.98" x2="563.91" y2="527.98" stroke="#000000" stroke-width="0.95" />
<line x1="558.51" y1="534.09" x2="563.91" y2="534.09" stroke="#000000" stroke-width="0.95" />
<line x1="574.94" y1="539.19" x2="574.94" y2="545.3" stroke="#000000" stroke-width="0.95" />
<line x1="572.24" y1="539.19" x2="577.64" y2="539.19" stroke="#000000" stroke-width="0.95" />
<line x1="572.24" y1="545.3" x2="577.64" y2="545.3" stroke="#000000" stroke-width="0.95" />
<line x1="588.66" y1="561.5" x2="588.66" y2="567.62" stroke="#000000" stroke-width="0.95" />
<line x1="585.96" y1="561.5" x2="591.36" y2="561.5" stroke="#000000" stroke-width="0.95" />
<line x1="585.96" y1="567.62" x2="591.36" y2="567.62" stroke="#000000" stroke-width="0.95" />
<circle cx="506.31" cy="519.83" r="2.7" fill="#9b00e0"/>
<circle cx="520.03" cy="524.31" r="2.7" fill="#9b00e0"/>
<circle cx="533.76" cy="528.59" r="2.7" fill="#9b00e0"/>
<circle cx="547.48" cy="529.81" r="2.7" fill="#9b00e0"/>
<circle cx="561.21" cy="539.8" r="2.7" fill="#9b00e0"/>
<circle cx="574.94" cy="549.18" r="2.7" fill="#9b00e0"/>
<circle cx="588.66" cy="566.5" r="2.7" fill="#9b00e0"/>
<circle cx="602.39" cy="597.88" r="2.7" fill="#9b00e0"/>
<circle cx="616.11" cy="610.32" r="2.7" fill="#9b00e0"/>
<circle cx="629.84" cy="609.09" r="2.7" fill="#9b00e0"/>
<circle cx="643.56" cy="610.42" r="2.7" fill="#9b00e0"/>
<circle cx="657.29" cy="615.41" r="2.7" fill="#9b00e0"/>
<circle cx="506.31" cy="524.82" r="2.7" fill="#0000ff"/>
<circle cx="520.03" cy="528.59" r="2.7" fill="#0000ff"/>
<circle cx="533.76" cy="529.81" r="2.7" fill="#0000ff"/>
<circle cx="547.48" cy="537.76" r="2.7" fill="#0000ff"/>
<circle cx="561.21" cy="559.06" r="2.7" fill="#0000ff"/>
<circle cx="574.94" cy="558.35" r="2.7" fill="#0000ff"/>
<circle cx="588.66" cy="569.45" r="2.7" fill="#0000ff"/>
<circle cx="602.39" cy="607.87" r="2.7" fill="#0000ff"/>
<circle cx="616.11" cy="624.48" r="2.7" fill="#0000ff"/>
<circle cx="629.84" cy="624.48" r="2.7" fill="#0000ff"/>
<circle cx="643.56" cy="625.09" r="2.7" fill="#0000ff"/>
<circle cx="657.29" cy="625.09" r="2.7" fill="#0000ff"/>
<circle cx="506.31" cy="521.05" r="2.7" fill="#ff3b3b"/>
<circle cx="520.03" cy="524.31" r="2.7" fill="#ff3b3b"/>
<circle cx="533.76" cy="525.33" r="2.7" fill="#ff3b3b"/>
<circle cx="547.48" cy="527.78" r="2.7" fill="#ff3b3b"/>
<circle cx="561.21" cy="533.58" r="2.7" fill="#ff3b3b"/>
<circle cx="574.94" cy="528.59" r="2.7" fill="#ff3b3b"/>
<circle cx="588.66" cy="552.74" r="2.7" fill="#ff3b3b"/>
<circle cx="602.39" cy="582.09" r="2.7" fill="#ff3b3b"/>
<circle cx="616.11" cy="610.62" r="2.7" fill="#ff3b3b"/>
<circle cx="629.84" cy="620.3" r="2.7" fill="#ff3b3b"/>
<circle cx="643.56" cy="621.12" r="2.7" fill="#ff3b3b"/>
<circle cx="657.29" cy="621.63" r="2.7" fill="#ff3b3b"/>
<circle cx="506.31" cy="523.6" r="2.7" fill="#000000"/>
<circle cx="520.03" cy="524.31" r="2.7" fill="#000000"/>
<circle cx="533.76" cy="534.3" r="2.7" fill="#000000"/>
<circle cx="547.48" cy="523.6" r="2.7" fill="#000000"/>
<circle cx="561.21" cy="531.04" r="2.7" fill="#000000"/>
<circle cx="574.94" cy="542.25" r="2.7" fill="#000000"/>
<circle cx="588.66" cy="564.56" r="2.7" fill="#000000"/>
<circle cx="602.39" cy="574.96" r="2.7" fill="#000000"/>
<circle cx="616.11" cy="619.89" r="2.7" fill="#000000"/>
<circle cx="629.84" cy="624.17" r="2.7" fill="#000000"/>
<circle cx="643.56" cy="622.95" r="2.7" fill="#000000"/>
<circle cx="657.29" cy="625.6" r="2.7" fill="#000000"/>
<line x1="498.1" y1="502.8" x2="498.1" y2="626.2" stroke="#000" stroke-width="1.45" />
<line x1="492.8" y1="625.6" x2="498.1" y2="625.6" stroke="#000" stroke-width="1.45" />
<line x1="492.8" y1="574.65" x2="498.1" y2="574.65" stroke="#000" stroke-width="1.45" />
<line x1="492.8" y1="523.7" x2="498.1" y2="523.7" stroke="#000" stroke-width="1.45" />
<line x1="494.6" y1="600.12" x2="498.1" y2="600.12" stroke="#000" stroke-width="1.45" />
<line x1="494.6" y1="549.18" x2="498.1" y2="549.18" stroke="#000" stroke-width="1.45" />
<text x="491.5" y="628.91" font-size="9.2" text-anchor="end" fill="#000" >0</text>
<text x="491.5" y="577.96" font-size="9.2" text-anchor="end" fill="#000" >50</text>
<text x="491.5" y="527.01" font-size="9.2" text-anchor="end" fill="#000" >100</text>
<line x1="497.5" y1="625.6" x2="681.1" y2="625.6" stroke="#000" stroke-width="1.45" />
<line x1="498.1" y1="625.6" x2="498.1" y2="629.8" stroke="#000" stroke-width="1.45" />
<line x1="543.7" y1="625.6" x2="543.7" y2="629.8" stroke="#000" stroke-width="1.45" />
<line x1="589.3" y1="625.6" x2="589.3" y2="629.8" stroke="#000" stroke-width="1.45" />
<line x1="634.9" y1="625.6" x2="634.9" y2="629.8" stroke="#000" stroke-width="1.45" />
<line x1="680.5" y1="625.6" x2="680.5" y2="629.8" stroke="#000" stroke-width="1.45" />
<line x1="509.5" y1="625.6" x2="509.5" y2="628.4" stroke="#000" stroke-width="1.45" />
<line x1="520.9" y1="625.6" x2="520.9" y2="628.4" stroke="#000" stroke-width="1.45" />
<line x1="532.3" y1="625.6" x2="532.3" y2="628.4" stroke="#000" stroke-width="1.45" />
<line x1="555.1" y1="625.6" x2="555.1" y2="628.4" stroke="#000" stroke-width="1.45" />
<line x1="566.5" y1="625.6" x2="566.5" y2="628.4" stroke="#000" stroke-width="1.45" />
<line x1="577.9" y1="625.6" x2="577.9" y2="628.4" stroke="#000" stroke-width="1.45" />
<line x1="600.7" y1="625.6" x2="600.7" y2="628.4" stroke="#000" stroke-width="1.45" />
<line x1="612.1" y1="625.6" x2="612.1" y2="628.4" stroke="#000" stroke-width="1.45" />
<line x1="623.5" y1="625.6" x2="623.5" y2="628.4" stroke="#000" stroke-width="1.45" />
<line x1="646.3" y1="625.6" x2="646.3" y2="628.4" stroke="#000" stroke-width="1.45" />
<line x1="657.7" y1="625.6" x2="657.7" y2="628.4" stroke="#000" stroke-width="1.45" />
<line x1="669.1" y1="625.6" x2="669.1" y2="628.4" stroke="#000" stroke-width="1.45" />
<text x="498.1" y="640.8" font-size="9.2" text-anchor="middle" fill="#000" >-9</text>
<text x="543.7" y="640.8" font-size="9.2" text-anchor="middle" fill="#000" >-8</text>
<text x="589.3" y="640.8" font-size="9.2" text-anchor="middle" fill="#000" >-7</text>
<text x="634.9" y="640.8" font-size="9.2" text-anchor="middle" fill="#000" >-6</text>
<text x="680.5" y="640.8" font-size="9.2" text-anchor="middle" fill="#000" >-5</text>
<text transform="translate(464.7,564.4) rotate(-90)" font-size="9.1" text-anchor="middle">Activity (%)</text>
<text x="589.6" y="654.4" font-size="9.45" text-anchor="middle">Log<tspan font-size="6.3" dy="2.2">10</tspan><tspan dy="-2.2"> [nirmatrelvir] μM</tspan></text>
<text x="637.6" y="452.2" font-size="9" text-anchor="middle">IC<tspan font-size="6.2" dy="1.8">50</tspan><tspan dy="-1.8"> ± SD (μM)</tspan></text>
<line x1="607.8" y1="456.7" x2="667.8" y2="456.7" stroke="#000" stroke-width="1.45" />
<line x1="509.4" y1="464.6" x2="523" y2="464.6" stroke="#000000" stroke-width="1.3" />
<circle cx="516.2" cy="464.6" r="2.3" fill="#000000"/>
<text x="530.2" y="467.6" font-size="8.5" text-anchor="start" fill="#000" >M<tspan font-size="6.6" dy="-2.8">pro</tspan><tspan dy="2.8">-WT</tspan></text>
<line x1="509.4" y1="476" x2="523" y2="476" stroke="#ff3b3b" stroke-width="1.3" />
<circle cx="516.2" cy="476" r="2.3" fill="#ff3b3b"/>
<text x="530.2" y="479" font-size="8.5" text-anchor="start" fill="#000" >M<tspan font-size="6.6" dy="-2.8">pro</tspan><tspan dy="2.8">-T45I</tspan></text>
<line x1="509.4" y1="487.5" x2="523" y2="487.5" stroke="#0000ff" stroke-width="1.3" />
<circle cx="516.2" cy="487.5" r="2.3" fill="#0000ff"/>
<text x="530.2" y="490.5" font-size="8.5" text-anchor="start" fill="#000" >M<tspan font-size="6.6" dy="-2.8">pro</tspan><tspan dy="2.8">-Δ23G</tspan></text>
<line x1="509.4" y1="499" x2="523" y2="499" stroke="#9b00e0" stroke-width="1.3" />
<circle cx="516.2" cy="499" r="2.3" fill="#9b00e0"/>
<text x="530.2" y="502" font-size="8.5" text-anchor="start" fill="#000" >M<tspan font-size="6.6" dy="-2.8">pro</tspan><tspan dy="2.8">-Δ23G/T45I</tspan></text>
<text x="636.6" y="467" font-size="8.6" text-anchor="middle" fill="#000" >0.166 ± 0.009</text>
<text x="636.6" y="478.4" font-size="8.6" text-anchor="middle" fill="#000" >0.193 ± 0.015</text>
<text x="636.6" y="489.9" font-size="8.6" text-anchor="middle" fill="#000" >0.084 ± 0.005</text>
<text x="636.6" y="501.4" font-size="8.6" text-anchor="middle" fill="#000" >0.102 ± 0.008</text>
<text x="-0.4" y="692.8" font-size="9.6" text-anchor="start" fill="#000" font-weight="bold">i</text>
<polyline points="61.21,831.5 78.12,810.25 95.02,793.41 111.93,776.57 128.84,766.54 145.75,758.92 162.66,753.71 179.56,751.91 196.47,751.3 213.38,761.33" fill="none" stroke="#9b00e0" stroke-width="1.35" stroke-linejoin="round" stroke-linejoin="miter"/>
<polyline points="61.21,832.91 78.12,832.91 95.02,816.67 111.93,798.22 128.84,773.36 145.75,764.94 162.66,765.34 179.56,746.29 196.47,746.29 213.38,751.3" fill="none" stroke="#0000ff" stroke-width="1.35" stroke-linejoin="round" stroke-linejoin="miter"/>
<polyline points="61.21,821.08 78.12,793.41 95.02,748.1 111.93,747.29 128.84,742.88 145.75,746.29 162.66,748.1 179.56,759.93 196.47,766.54 213.38,766.54" fill="none" stroke="#ff1010" stroke-width="1.35" stroke-linejoin="round" stroke-linejoin="miter"/>
<polyline points="61.21,828.5 78.12,806.64 95.02,759.93 111.93,748.1 128.84,746.29 145.75,755.32 162.66,757.32 179.56,759.93 196.47,766.54 213.38,766.54" fill="none" stroke="#000000" stroke-width="1.35" stroke-linejoin="round" stroke-linejoin="miter"/>
<line x1="78.12" y1="807.24" x2="78.12" y2="813.26" stroke="#9b00e0" stroke-width="0.95" />
<line x1="75.42" y1="807.24" x2="80.82" y2="807.24" stroke="#9b00e0" stroke-width="0.95" />
<line x1="75.42" y1="813.26" x2="80.82" y2="813.26" stroke="#9b00e0" stroke-width="0.95" />
<line x1="95.02" y1="788.4" x2="95.02" y2="798.42" stroke="#9b00e0" stroke-width="0.95" />
<line x1="92.32" y1="788.4" x2="97.72" y2="788.4" stroke="#9b00e0" stroke-width="0.95" />
<line x1="92.32" y1="798.42" x2="97.72" y2="798.42" stroke="#9b00e0" stroke-width="0.95" />
<line x1="128.84" y1="758.52" x2="128.84" y2="774.56" stroke="#9b00e0" stroke-width="0.95" />
<line x1="126.14" y1="758.52" x2="131.54" y2="758.52" stroke="#9b00e0" stroke-width="0.95" />
<line x1="126.14" y1="774.56" x2="131.54" y2="774.56" stroke="#9b00e0" stroke-width="0.95" />
<line x1="145.75" y1="752.91" x2="145.75" y2="764.94" stroke="#9b00e0" stroke-width="0.95" />
<line x1="143.05" y1="752.91" x2="148.45" y2="752.91" stroke="#9b00e0" stroke-width="0.95" />
<line x1="143.05" y1="764.94" x2="148.45" y2="764.94" stroke="#9b00e0" stroke-width="0.95" />
<line x1="162.66" y1="749.7" x2="162.66" y2="757.72" stroke="#9b00e0" stroke-width="0.95" />
<line x1="159.96" y1="749.7" x2="165.36" y2="749.7" stroke="#9b00e0" stroke-width="0.95" />
<line x1="159.96" y1="757.72" x2="165.36" y2="757.72" stroke="#9b00e0" stroke-width="0.95" />
<line x1="179.56" y1="746.89" x2="179.56" y2="756.92" stroke="#9b00e0" stroke-width="0.95" />
<line x1="176.86" y1="746.89" x2="182.26" y2="746.89" stroke="#9b00e0" stroke-width="0.95" />
<line x1="176.86" y1="756.92" x2="182.26" y2="756.92" stroke="#9b00e0" stroke-width="0.95" />
<line x1="196.47" y1="746.29" x2="196.47" y2="756.32" stroke="#9b00e0" stroke-width="0.95" />
<line x1="193.77" y1="746.29" x2="199.17" y2="746.29" stroke="#9b00e0" stroke-width="0.95" />
<line x1="193.77" y1="756.32" x2="199.17" y2="756.32" stroke="#9b00e0" stroke-width="0.95" />
<line x1="213.38" y1="755.32" x2="213.38" y2="767.35" stroke="#9b00e0" stroke-width="0.95" />
<line x1="210.68" y1="755.32" x2="216.08" y2="755.32" stroke="#9b00e0" stroke-width="0.95" />
<line x1="210.68" y1="767.35" x2="216.08" y2="767.35" stroke="#9b00e0" stroke-width="0.95" />
<line x1="111.93" y1="788.2" x2="111.93" y2="808.25" stroke="#0000ff" stroke-width="0.95" />
<line x1="109.23" y1="788.2" x2="114.63" y2="788.2" stroke="#0000ff" stroke-width="0.95" />
<line x1="109.23" y1="808.25" x2="114.63" y2="808.25" stroke="#0000ff" stroke-width="0.95" />
<line x1="128.84" y1="768.35" x2="128.84" y2="778.37" stroke="#0000ff" stroke-width="0.95" />
<line x1="126.14" y1="768.35" x2="131.54" y2="768.35" stroke="#0000ff" stroke-width="0.95" />
<line x1="126.14" y1="778.37" x2="131.54" y2="778.37" stroke="#0000ff" stroke-width="0.95" />
<line x1="145.75" y1="754.91" x2="145.75" y2="774.96" stroke="#0000ff" stroke-width="0.95" />
<line x1="143.05" y1="754.91" x2="148.45" y2="754.91" stroke="#0000ff" stroke-width="0.95" />
<line x1="143.05" y1="774.96" x2="148.45" y2="774.96" stroke="#0000ff" stroke-width="0.95" />
<line x1="162.66" y1="759.33" x2="162.66" y2="771.36" stroke="#0000ff" stroke-width="0.95" />
<line x1="159.96" y1="759.33" x2="165.36" y2="759.33" stroke="#0000ff" stroke-width="0.95" />
<line x1="159.96" y1="771.36" x2="165.36" y2="771.36" stroke="#0000ff" stroke-width="0.95" />
<line x1="179.56" y1="738.27" x2="179.56" y2="754.31" stroke="#0000ff" stroke-width="0.95" />
<line x1="176.86" y1="738.27" x2="182.26" y2="738.27" stroke="#0000ff" stroke-width="0.95" />
<line x1="176.86" y1="754.31" x2="182.26" y2="754.31" stroke="#0000ff" stroke-width="0.95" />
<line x1="196.47" y1="738.27" x2="196.47" y2="754.31" stroke="#0000ff" stroke-width="0.95" />
<line x1="193.77" y1="738.27" x2="199.17" y2="738.27" stroke="#0000ff" stroke-width="0.95" />
<line x1="193.77" y1="754.31" x2="199.17" y2="754.31" stroke="#0000ff" stroke-width="0.95" />
<line x1="213.38" y1="748.3" x2="213.38" y2="754.31" stroke="#0000ff" stroke-width="0.95" />
<line x1="210.68" y1="748.3" x2="216.08" y2="748.3" stroke="#0000ff" stroke-width="0.95" />
<line x1="210.68" y1="754.31" x2="216.08" y2="754.31" stroke="#0000ff" stroke-width="0.95" />
<line x1="61.21" y1="811.05" x2="61.21" y2="831.1" stroke="#ff1010" stroke-width="0.95" />
<line x1="58.51" y1="811.05" x2="63.91" y2="811.05" stroke="#ff1010" stroke-width="0.95" />
<line x1="58.51" y1="831.1" x2="63.91" y2="831.1" stroke="#ff1010" stroke-width="0.95" />
<line x1="78.12" y1="788.4" x2="78.12" y2="798.42" stroke="#ff1010" stroke-width="0.95" />
<line x1="75.42" y1="788.4" x2="80.82" y2="788.4" stroke="#ff1010" stroke-width="0.95" />
<line x1="75.42" y1="798.42" x2="80.82" y2="798.42" stroke="#ff1010" stroke-width="0.95" />
<line x1="95.02" y1="739.07" x2="95.02" y2="757.12" stroke="#ff1010" stroke-width="0.95" />
<line x1="92.32" y1="739.07" x2="97.72" y2="739.07" stroke="#ff1010" stroke-width="0.95" />
<line x1="92.32" y1="757.12" x2="97.72" y2="757.12" stroke="#ff1010" stroke-width="0.95" />
<line x1="111.93" y1="735.26" x2="111.93" y2="759.33" stroke="#ff1010" stroke-width="0.95" />
<line x1="109.23" y1="735.26" x2="114.63" y2="735.26" stroke="#ff1010" stroke-width="0.95" />
<line x1="109.23" y1="759.33" x2="114.63" y2="759.33" stroke="#ff1010" stroke-width="0.95" />
<line x1="128.84" y1="734.86" x2="128.84" y2="750.9" stroke="#ff1010" stroke-width="0.95" />
<line x1="126.14" y1="734.86" x2="131.54" y2="734.86" stroke="#ff1010" stroke-width="0.95" />
<line x1="126.14" y1="750.9" x2="131.54" y2="750.9" stroke="#ff1010" stroke-width="0.95" />
<line x1="145.75" y1="738.27" x2="145.75" y2="754.31" stroke="#ff1010" stroke-width="0.95" />
<line x1="143.05" y1="738.27" x2="148.45" y2="738.27" stroke="#ff1010" stroke-width="0.95" />
<line x1="143.05" y1="754.31" x2="148.45" y2="754.31" stroke="#ff1010" stroke-width="0.95" />
<line x1="162.66" y1="739.07" x2="162.66" y2="757.12" stroke="#ff1010" stroke-width="0.95" />
<line x1="159.96" y1="739.07" x2="165.36" y2="739.07" stroke="#ff1010" stroke-width="0.95" />
<line x1="159.96" y1="757.12" x2="165.36" y2="757.12" stroke="#ff1010" stroke-width="0.95" />
<line x1="179.56" y1="753.91" x2="179.56" y2="765.94" stroke="#ff1010" stroke-width="0.95" />
<line x1="176.86" y1="753.91" x2="182.26" y2="753.91" stroke="#ff1010" stroke-width="0.95" />
<line x1="176.86" y1="765.94" x2="182.26" y2="765.94" stroke="#ff1010" stroke-width="0.95" />
<line x1="196.47" y1="760.53" x2="196.47" y2="772.56" stroke="#ff1010" stroke-width="0.95" />
<line x1="193.77" y1="760.53" x2="199.17" y2="760.53" stroke="#ff1010" stroke-width="0.95" />
<line x1="193.77" y1="772.56" x2="199.17" y2="772.56" stroke="#ff1010" stroke-width="0.95" />
<line x1="213.38" y1="760.53" x2="213.38" y2="772.56" stroke="#ff1010" stroke-width="0.95" />
<line x1="210.68" y1="760.53" x2="216.08" y2="760.53" stroke="#ff1010" stroke-width="0.95" />
<line x1="210.68" y1="772.56" x2="216.08" y2="772.56" stroke="#ff1010" stroke-width="0.95" />
<line x1="78.12" y1="800.63" x2="78.12" y2="812.66" stroke="#000000" stroke-width="0.95" />
<line x1="75.42" y1="800.63" x2="80.82" y2="800.63" stroke="#000000" stroke-width="0.95" />
<line x1="75.42" y1="812.66" x2="80.82" y2="812.66" stroke="#000000" stroke-width="0.95" />
<line x1="95.02" y1="753.91" x2="95.02" y2="765.94" stroke="#000000" stroke-width="0.95" />
<line x1="92.32" y1="753.91" x2="97.72" y2="753.91" stroke="#000000" stroke-width="0.95" />
<line x1="92.32" y1="765.94" x2="97.72" y2="765.94" stroke="#000000" stroke-width="0.95" />
<line x1="111.93" y1="738.07" x2="111.93" y2="758.12" stroke="#000000" stroke-width="0.95" />
<line x1="109.23" y1="738.07" x2="114.63" y2="738.07" stroke="#000000" stroke-width="0.95" />
<line x1="109.23" y1="758.12" x2="114.63" y2="758.12" stroke="#000000" stroke-width="0.95" />
<line x1="128.84" y1="736.27" x2="128.84" y2="756.32" stroke="#000000" stroke-width="0.95" />
<line x1="126.14" y1="736.27" x2="131.54" y2="736.27" stroke="#000000" stroke-width="0.95" />
<line x1="126.14" y1="756.32" x2="131.54" y2="756.32" stroke="#000000" stroke-width="0.95" />
<line x1="145.75" y1="749.3" x2="145.75" y2="761.33" stroke="#000000" stroke-width="0.95" />
<line x1="143.05" y1="749.3" x2="148.45" y2="749.3" stroke="#000000" stroke-width="0.95" />
<line x1="143.05" y1="761.33" x2="148.45" y2="761.33" stroke="#000000" stroke-width="0.95" />
<line x1="162.66" y1="751.31" x2="162.66" y2="763.34" stroke="#000000" stroke-width="0.95" />
<line x1="159.96" y1="751.31" x2="165.36" y2="751.31" stroke="#000000" stroke-width="0.95" />
<line x1="159.96" y1="763.34" x2="165.36" y2="763.34" stroke="#000000" stroke-width="0.95" />
<line x1="179.56" y1="751.91" x2="179.56" y2="767.95" stroke="#000000" stroke-width="0.95" />
<line x1="176.86" y1="751.91" x2="182.26" y2="751.91" stroke="#000000" stroke-width="0.95" />
<line x1="176.86" y1="767.95" x2="182.26" y2="767.95" stroke="#000000" stroke-width="0.95" />
<line x1="196.47" y1="758.52" x2="196.47" y2="774.56" stroke="#000000" stroke-width="0.95" />
<line x1="193.77" y1="758.52" x2="199.17" y2="758.52" stroke="#000000" stroke-width="0.95" />
<line x1="193.77" y1="774.56" x2="199.17" y2="774.56" stroke="#000000" stroke-width="0.95" />
<line x1="213.38" y1="760.53" x2="213.38" y2="772.56" stroke="#000000" stroke-width="0.95" />
<line x1="210.68" y1="760.53" x2="216.08" y2="760.53" stroke="#000000" stroke-width="0.95" />
<line x1="210.68" y1="772.56" x2="216.08" y2="772.56" stroke="#000000" stroke-width="0.95" />
<circle cx="61.21" cy="831.5" r="2.65" fill="#9b00e0"/>
<circle cx="78.12" cy="810.25" r="2.65" fill="#9b00e0"/>
<circle cx="95.02" cy="793.41" r="2.65" fill="#9b00e0"/>
<circle cx="111.93" cy="776.57" r="2.65" fill="#9b00e0"/>
<circle cx="128.84" cy="766.54" r="2.65" fill="#9b00e0"/>
<circle cx="145.75" cy="758.92" r="2.65" fill="#9b00e0"/>
<circle cx="162.66" cy="753.71" r="2.65" fill="#9b00e0"/>
<circle cx="179.56" cy="751.91" r="2.65" fill="#9b00e0"/>
<circle cx="196.47" cy="751.3" r="2.65" fill="#9b00e0"/>
<circle cx="213.38" cy="761.33" r="2.65" fill="#9b00e0"/>
<circle cx="61.21" cy="832.91" r="2.65" fill="#0000ff"/>
<circle cx="78.12" cy="832.91" r="2.65" fill="#0000ff"/>
<circle cx="95.02" cy="816.67" r="2.65" fill="#0000ff"/>
<circle cx="111.93" cy="798.22" r="2.65" fill="#0000ff"/>
<circle cx="128.84" cy="773.36" r="2.65" fill="#0000ff"/>
<circle cx="145.75" cy="764.94" r="2.65" fill="#0000ff"/>
<circle cx="162.66" cy="765.34" r="2.65" fill="#0000ff"/>
<circle cx="179.56" cy="746.29" r="2.65" fill="#0000ff"/>
<circle cx="196.47" cy="746.29" r="2.65" fill="#0000ff"/>
<circle cx="213.38" cy="751.3" r="2.65" fill="#0000ff"/>
<circle cx="61.21" cy="821.08" r="2.65" fill="#ff1010"/>
<circle cx="78.12" cy="793.41" r="2.65" fill="#ff1010"/>
<circle cx="95.02" cy="748.1" r="2.65" fill="#ff1010"/>
<circle cx="111.93" cy="747.29" r="2.65" fill="#ff1010"/>
<circle cx="128.84" cy="742.88" r="2.65" fill="#ff1010"/>
<circle cx="145.75" cy="746.29" r="2.65" fill="#ff1010"/>
<circle cx="162.66" cy="748.1" r="2.65" fill="#ff1010"/>
<circle cx="179.56" cy="759.93" r="2.65" fill="#ff1010"/>
<circle cx="196.47" cy="766.54" r="2.65" fill="#ff1010"/>
<circle cx="213.38" cy="766.54" r="2.65" fill="#ff1010"/>
<circle cx="61.21" cy="828.5" r="2.65" fill="#000000"/>
<circle cx="78.12" cy="806.64" r="2.65" fill="#000000"/>
<circle cx="95.02" cy="759.93" r="2.65" fill="#000000"/>
<circle cx="111.93" cy="748.1" r="2.65" fill="#000000"/>
<circle cx="128.84" cy="746.29" r="2.65" fill="#000000"/>
<circle cx="145.75" cy="755.32" r="2.65" fill="#000000"/>
<circle cx="162.66" cy="757.32" r="2.65" fill="#000000"/>
<circle cx="179.56" cy="759.93" r="2.65" fill="#000000"/>
<circle cx="196.47" cy="766.54" r="2.65" fill="#000000"/>
<circle cx="213.38" cy="766.54" r="2.65" fill="#000000"/>
<line x1="44.3" y1="709.2" x2="44.3" y2="834.2" stroke="#000" stroke-width="1.45" />
<line x1="39.1" y1="829.5" x2="44.3" y2="829.5" stroke="#000" stroke-width="1.45" />
<line x1="39.1" y1="789.4" x2="44.3" y2="789.4" stroke="#000" stroke-width="1.45" />
<line x1="39.1" y1="749.3" x2="44.3" y2="749.3" stroke="#000" stroke-width="1.45" />
<line x1="39.1" y1="709.2" x2="44.3" y2="709.2" stroke="#000" stroke-width="1.45" />
<line x1="41.1" y1="809.45" x2="44.3" y2="809.45" stroke="#000" stroke-width="1.45" />
<line x1="41.1" y1="769.35" x2="44.3" y2="769.35" stroke="#000" stroke-width="1.45" />
<line x1="41.1" y1="729.25" x2="44.3" y2="729.25" stroke="#000" stroke-width="1.45" />
<text x="37.5" y="832.74" font-size="9.0" text-anchor="end" fill="#000" >2</text>
<text x="37.5" y="792.64" font-size="9.0" text-anchor="end" fill="#000" >4</text>
<text x="37.5" y="752.54" font-size="9.0" text-anchor="end" fill="#000" >6</text>
<text x="37.5" y="712.44" font-size="9.0" text-anchor="end" fill="#000" >8</text>
<line x1="43.7" y1="833.6" x2="230.89" y2="833.6" stroke="#000" stroke-width="1.45" />
<line x1="44.3" y1="833.6" x2="44.3" y2="837.8" stroke="#000" stroke-width="1.45" />
<line x1="78.12" y1="833.6" x2="78.12" y2="837.8" stroke="#000" stroke-width="1.45" />
<line x1="111.93" y1="833.6" x2="111.93" y2="837.8" stroke="#000" stroke-width="1.45" />
<line x1="145.75" y1="833.6" x2="145.75" y2="837.8" stroke="#000" stroke-width="1.45" />
<line x1="179.56" y1="833.6" x2="179.56" y2="837.8" stroke="#000" stroke-width="1.45" />
<line x1="213.38" y1="833.6" x2="213.38" y2="837.8" stroke="#000" stroke-width="1.45" />
<line x1="61.21" y1="833.6" x2="61.21" y2="836.4" stroke="#000" stroke-width="1.45" />
<line x1="95.02" y1="833.6" x2="95.02" y2="836.4" stroke="#000" stroke-width="1.45" />
<line x1="128.84" y1="833.6" x2="128.84" y2="836.4" stroke="#000" stroke-width="1.45" />
<line x1="162.66" y1="833.6" x2="162.66" y2="836.4" stroke="#000" stroke-width="1.45" />
<line x1="196.47" y1="833.6" x2="196.47" y2="836.4" stroke="#000" stroke-width="1.45" />
<line x1="230.29" y1="833.6" x2="230.29" y2="836.4" stroke="#000" stroke-width="1.45" />
<text x="44.3" y="848.9" font-size="9.2" text-anchor="middle" fill="#000" >0</text>
<text x="78.12" y="848.9" font-size="9.2" text-anchor="middle" fill="#000" >24</text>
<text x="111.93" y="848.9" font-size="9.2" text-anchor="middle" fill="#000" >48</text>
<text x="145.75" y="848.9" font-size="9.2" text-anchor="middle" fill="#000" >72</text>
<text x="179.56" y="848.9" font-size="9.2" text-anchor="middle" fill="#000" >96</text>
<text x="213.38" y="848.9" font-size="9.2" text-anchor="middle" fill="#000" >120</text>
<text transform="translate(10.7,775.4) rotate(-90)" font-size="8.85" text-anchor="middle">Virus titre (Log<tspan font-size="6.2" dy="1.8">10</tspan><tspan dy="-1.8">TCID</tspan><tspan font-size="6.2" dy="1.8">50</tspan><tspan dy="-1.8">/mL)</tspan></text>
<text x="137.64" y="862.6" font-size="9.3" text-anchor="middle">Hours post infection</text>
<line x1="55.6" y1="671.4" x2="69.2" y2="671.4" stroke="#000000" stroke-width="1.3" />
<circle cx="62.4" cy="671.4" r="2.3" fill="#000000"/>
<text x="76.4" y="674.4" font-size="8.5" text-anchor="start" fill="#000" >M<tspan font-size="6.6" dy="-2.8">pro</tspan><tspan dy="2.8">-WT</tspan></text>
<line x1="55.6" y1="682.9" x2="69.2" y2="682.9" stroke="#ff3b3b" stroke-width="1.3" />
<circle cx="62.4" cy="682.9" r="2.3" fill="#ff3b3b"/>
<text x="76.4" y="685.9" font-size="8.5" text-anchor="start" fill="#000" >M<tspan font-size="6.6" dy="-2.8">pro</tspan><tspan dy="2.8">-T45I</tspan></text>
<line x1="55.6" y1="694.3" x2="69.2" y2="694.3" stroke="#0000ff" stroke-width="1.3" />
<circle cx="62.4" cy="694.3" r="2.3" fill="#0000ff"/>
<text x="76.4" y="697.3" font-size="8.5" text-anchor="start" fill="#000" >M<tspan font-size="6.6" dy="-2.8">pro</tspan><tspan dy="2.8">-Δ23G</tspan></text>
<line x1="55.6" y1="705.8" x2="69.2" y2="705.8" stroke="#9b00e0" stroke-width="1.3" />
<circle cx="62.4" cy="705.8" r="2.3" fill="#9b00e0"/>
<text x="76.4" y="708.8" font-size="8.5" text-anchor="start" fill="#000" >M<tspan font-size="6.6" dy="-2.8">pro</tspan><tspan dy="2.8">-Δ23G/T45I</tspan></text>
<text x="176.8" y="685.6" font-size="9.2" text-anchor="middle" fill="#000" >ns</text>
<line x1="167.6" y1="692" x2="167.6" y2="697.2" stroke="#000" stroke-width="1.25" />
<line x1="165.35" y1="693.3" x2="169.85" y2="695.9" stroke="#000" stroke-width="1.25" />
<line x1="165.35" y1="695.9" x2="169.85" y2="693.3" stroke="#000" stroke-width="1.25" />
<line x1="173.6" y1="692" x2="173.6" y2="697.2" stroke="#000" stroke-width="1.25" />
<line x1="171.35" y1="693.3" x2="175.85" y2="695.9" stroke="#000" stroke-width="1.25" />
<line x1="171.35" y1="695.9" x2="175.85" y2="693.3" stroke="#000" stroke-width="1.25" />
<line x1="179.6" y1="692" x2="179.6" y2="697.2" stroke="#000" stroke-width="1.25" />
<line x1="177.35" y1="693.3" x2="181.85" y2="695.9" stroke="#000" stroke-width="1.25" />
<line x1="177.35" y1="695.9" x2="181.85" y2="693.3" stroke="#000" stroke-width="1.25" />
<line x1="185.6" y1="692" x2="185.6" y2="697.2" stroke="#000" stroke-width="1.25" />
<line x1="183.35" y1="693.3" x2="187.85" y2="695.9" stroke="#000" stroke-width="1.25" />
<line x1="183.35" y1="695.9" x2="187.85" y2="693.3" stroke="#000" stroke-width="1.25" />
<line x1="170.6" y1="703.3" x2="170.6" y2="708.5" stroke="#000" stroke-width="1.25" />
<line x1="168.35" y1="704.6" x2="172.85" y2="707.2" stroke="#000" stroke-width="1.25" />
<line x1="168.35" y1="707.2" x2="172.85" y2="704.6" stroke="#000" stroke-width="1.25" />
<line x1="176.6" y1="703.3" x2="176.6" y2="708.5" stroke="#000" stroke-width="1.25" />
<line x1="174.35" y1="704.6" x2="178.85" y2="707.2" stroke="#000" stroke-width="1.25" />
<line x1="174.35" y1="707.2" x2="178.85" y2="704.6" stroke="#000" stroke-width="1.25" />
<line x1="182.6" y1="703.3" x2="182.6" y2="708.5" stroke="#000" stroke-width="1.25" />
<line x1="180.35" y1="704.6" x2="184.85" y2="707.2" stroke="#000" stroke-width="1.25" />
<line x1="180.35" y1="707.2" x2="184.85" y2="704.6" stroke="#000" stroke-width="1.25" />
<polyline points="193,694.3 199.4,694.3 199.4,705.9 193,705.9" fill="none" stroke="#000" stroke-width="1.2"/>
<text x="206.4" y="703.3" font-size="9.0" text-anchor="middle" fill="#000" >##</text>
<text x="241.3" y="692.8" font-size="9.6" text-anchor="start" fill="#000" font-weight="bold">j</text>
<polyline points="295.21,828.5 312.12,806.44 329.02,759.93 345.93,748.1 362.84,746.29 379.75,754.91 396.66,756.92 413.56,760.33 430.47,766.94 447.38,770.95" fill="none" stroke="#d4d4d4" stroke-width="1.3" stroke-linejoin="round" />
<polyline points="295.21,832.91 312.12,832.91 329.02,805.44 345.93,805.44 362.84,776.97 379.75,765.54 396.66,763.94 413.56,755.32 430.47,753.91 447.38,740.08" fill="none" stroke="#9b00e0" stroke-width="1.35" stroke-linejoin="round" stroke-linejoin="miter"/>
<polyline points="295.21,832.91 312.12,832.91 329.02,832.91 345.93,828.5 362.84,812.06 379.75,800.03 396.66,780.38 413.56,768.95 430.47,752.11 447.38,748.7" fill="none" stroke="#0000ff" stroke-width="1.35" stroke-linejoin="round" stroke-linejoin="miter"/>
<polyline points="295.21,832.91 312.12,832.91 329.02,832.91 345.93,832.91 362.84,832.91 379.75,832.91 396.66,832.91 413.56,832.91 430.47,832.91 447.38,832.91" fill="none" stroke="#ff1010" stroke-width="1.35" stroke-linejoin="round" stroke-linejoin="miter"/>
<polyline points="295.21,832.91 312.12,832.91 329.02,832.91 345.93,832.91 362.84,832.91 379.75,832.91 396.66,832.91 413.56,832.91 430.47,832.91 447.38,832.91" fill="none" stroke="#000000" stroke-width="1.35" stroke-linejoin="round" stroke-linejoin="miter"/>
<line x1="329.02" y1="799.42" x2="329.02" y2="811.46" stroke="#9b00e0" stroke-width="0.95" />
<line x1="326.32" y1="799.42" x2="331.72" y2="799.42" stroke="#9b00e0" stroke-width="0.95" />
<line x1="326.32" y1="811.46" x2="331.72" y2="811.46" stroke="#9b00e0" stroke-width="0.95" />
<line x1="345.93" y1="799.42" x2="345.93" y2="811.46" stroke="#9b00e0" stroke-width="0.95" />
<line x1="343.23" y1="799.42" x2="348.63" y2="799.42" stroke="#9b00e0" stroke-width="0.95" />
<line x1="343.23" y1="811.46" x2="348.63" y2="811.46" stroke="#9b00e0" stroke-width="0.95" />
<line x1="362.84" y1="766.94" x2="362.84" y2="786.99" stroke="#9b00e0" stroke-width="0.95" />
<line x1="360.14" y1="766.94" x2="365.54" y2="766.94" stroke="#9b00e0" stroke-width="0.95" />
<line x1="360.14" y1="786.99" x2="365.54" y2="786.99" stroke="#9b00e0" stroke-width="0.95" />
<line x1="379.75" y1="759.53" x2="379.75" y2="771.56" stroke="#9b00e0" stroke-width="0.95" />
<line x1="377.05" y1="759.53" x2="382.45" y2="759.53" stroke="#9b00e0" stroke-width="0.95" />
<line x1="377.05" y1="771.56" x2="382.45" y2="771.56" stroke="#9b00e0" stroke-width="0.95" />
<line x1="396.66" y1="755.92" x2="396.66" y2="771.96" stroke="#9b00e0" stroke-width="0.95" />
<line x1="393.96" y1="755.92" x2="399.36" y2="755.92" stroke="#9b00e0" stroke-width="0.95" />
<line x1="393.96" y1="771.96" x2="399.36" y2="771.96" stroke="#9b00e0" stroke-width="0.95" />
<line x1="413.56" y1="749.3" x2="413.56" y2="761.33" stroke="#9b00e0" stroke-width="0.95" />
<line x1="410.86" y1="749.3" x2="416.26" y2="749.3" stroke="#9b00e0" stroke-width="0.95" />
<line x1="410.86" y1="761.33" x2="416.26" y2="761.33" stroke="#9b00e0" stroke-width="0.95" />
<line x1="430.47" y1="748.9" x2="430.47" y2="758.92" stroke="#9b00e0" stroke-width="0.95" />
<line x1="427.77" y1="748.9" x2="433.17" y2="748.9" stroke="#9b00e0" stroke-width="0.95" />
<line x1="427.77" y1="758.92" x2="433.17" y2="758.92" stroke="#9b00e0" stroke-width="0.95" />
<line x1="447.38" y1="732.06" x2="447.38" y2="748.1" stroke="#9b00e0" stroke-width="0.95" />
<line x1="444.68" y1="732.06" x2="450.08" y2="732.06" stroke="#9b00e0" stroke-width="0.95" />
<line x1="444.68" y1="748.1" x2="450.08" y2="748.1" stroke="#9b00e0" stroke-width="0.95" />
<line x1="345.93" y1="821.48" x2="345.93" y2="833.6" stroke="#0000ff" stroke-width="0.95" />
<line x1="343.23" y1="821.48" x2="348.63" y2="821.48" stroke="#0000ff" stroke-width="0.95" />
<line x1="343.23" y1="833.6" x2="348.63" y2="833.6" stroke="#0000ff" stroke-width="0.95" />
<line x1="379.75" y1="792.01" x2="379.75" y2="808.05" stroke="#0000ff" stroke-width="0.95" />
<line x1="377.05" y1="792.01" x2="382.45" y2="792.01" stroke="#0000ff" stroke-width="0.95" />
<line x1="377.05" y1="808.05" x2="382.45" y2="808.05" stroke="#0000ff" stroke-width="0.95" />
<line x1="396.66" y1="772.36" x2="396.66" y2="788.4" stroke="#0000ff" stroke-width="0.95" />
<line x1="393.96" y1="772.36" x2="399.36" y2="772.36" stroke="#0000ff" stroke-width="0.95" />
<line x1="393.96" y1="788.4" x2="399.36" y2="788.4" stroke="#0000ff" stroke-width="0.95" />
<line x1="413.56" y1="759.93" x2="413.56" y2="777.97" stroke="#0000ff" stroke-width="0.95" />
<line x1="410.86" y1="759.93" x2="416.26" y2="759.93" stroke="#0000ff" stroke-width="0.95" />
<line x1="410.86" y1="777.97" x2="416.26" y2="777.97" stroke="#0000ff" stroke-width="0.95" />
<line x1="430.47" y1="746.09" x2="430.47" y2="758.12" stroke="#0000ff" stroke-width="0.95" />
<line x1="427.77" y1="746.09" x2="433.17" y2="746.09" stroke="#0000ff" stroke-width="0.95" />
<line x1="427.77" y1="758.12" x2="433.17" y2="758.12" stroke="#0000ff" stroke-width="0.95" />
<line x1="447.38" y1="738.67" x2="447.38" y2="758.72" stroke="#0000ff" stroke-width="0.95" />
<line x1="444.68" y1="738.67" x2="450.08" y2="738.67" stroke="#0000ff" stroke-width="0.95" />
<line x1="444.68" y1="758.72" x2="450.08" y2="758.72" stroke="#0000ff" stroke-width="0.95" />
<circle cx="295.21" cy="832.91" r="2.65" fill="#9b00e0"/>
<circle cx="312.12" cy="832.91" r="2.65" fill="#9b00e0"/>
<circle cx="329.02" cy="805.44" r="2.65" fill="#9b00e0"/>
<circle cx="345.93" cy="805.44" r="2.65" fill="#9b00e0"/>
<circle cx="362.84" cy="776.97" r="2.65" fill="#9b00e0"/>
<circle cx="379.75" cy="765.54" r="2.65" fill="#9b00e0"/>
<circle cx="396.66" cy="763.94" r="2.65" fill="#9b00e0"/>
<circle cx="413.56" cy="755.32" r="2.65" fill="#9b00e0"/>
<circle cx="430.47" cy="753.91" r="2.65" fill="#9b00e0"/>
<circle cx="447.38" cy="740.08" r="2.65" fill="#9b00e0"/>
<circle cx="295.21" cy="832.91" r="2.65" fill="#0000ff"/>
<circle cx="312.12" cy="832.91" r="2.65" fill="#0000ff"/>
<circle cx="329.02" cy="832.91" r="2.65" fill="#0000ff"/>
<circle cx="345.93" cy="828.5" r="2.65" fill="#0000ff"/>
<circle cx="362.84" cy="812.06" r="2.65" fill="#0000ff"/>
<circle cx="379.75" cy="800.03" r="2.65" fill="#0000ff"/>
<circle cx="396.66" cy="780.38" r="2.65" fill="#0000ff"/>
<circle cx="413.56" cy="768.95" r="2.65" fill="#0000ff"/>
<circle cx="430.47" cy="752.11" r="2.65" fill="#0000ff"/>
<circle cx="447.38" cy="748.7" r="2.65" fill="#0000ff"/>
<circle cx="295.21" cy="832.91" r="2.65" fill="#ff1010"/>
<circle cx="312.12" cy="832.91" r="2.65" fill="#ff1010"/>
<circle cx="329.02" cy="832.91" r="2.65" fill="#ff1010"/>
<circle cx="345.93" cy="832.91" r="2.65" fill="#ff1010"/>
<circle cx="362.84" cy="832.91" r="2.65" fill="#ff1010"/>
<circle cx="379.75" cy="832.91" r="2.65" fill="#ff1010"/>
<circle cx="396.66" cy="832.91" r="2.65" fill="#ff1010"/>
<circle cx="413.56" cy="832.91" r="2.65" fill="#ff1010"/>
<circle cx="430.47" cy="832.91" r="2.65" fill="#ff1010"/>
<circle cx="447.38" cy="832.91" r="2.65" fill="#ff1010"/>
<circle cx="295.21" cy="832.91" r="2.65" fill="#000000"/>
<circle cx="312.12" cy="832.91" r="2.65" fill="#000000"/>
<circle cx="329.02" cy="832.91" r="2.65" fill="#000000"/>
<circle cx="345.93" cy="832.91" r="2.65" fill="#000000"/>
<circle cx="362.84" cy="832.91" r="2.65" fill="#000000"/>
<circle cx="379.75" cy="832.91" r="2.65" fill="#000000"/>
<circle cx="396.66" cy="832.91" r="2.65" fill="#000000"/>
<circle cx="413.56" cy="832.91" r="2.65" fill="#000000"/>
<circle cx="430.47" cy="832.91" r="2.65" fill="#000000"/>
<circle cx="447.38" cy="832.91" r="2.65" fill="#000000"/>
<line x1="278.3" y1="709.2" x2="278.3" y2="834.2" stroke="#000" stroke-width="1.45" />
<line x1="273.1" y1="829.5" x2="278.3" y2="829.5" stroke="#000" stroke-width="1.45" />
<line x1="273.1" y1="789.4" x2="278.3" y2="789.4" stroke="#000" stroke-width="1.45" />
<line x1="273.1" y1="749.3" x2="278.3" y2="749.3" stroke="#000" stroke-width="1.45" />
<line x1="273.1" y1="709.2" x2="278.3" y2="709.2" stroke="#000" stroke-width="1.45" />
<line x1="275.1" y1="809.45" x2="278.3" y2="809.45" stroke="#000" stroke-width="1.45" />
<line x1="275.1" y1="769.35" x2="278.3" y2="769.35" stroke="#000" stroke-width="1.45" />
<line x1="275.1" y1="729.25" x2="278.3" y2="729.25" stroke="#000" stroke-width="1.45" />
<text x="271.5" y="832.74" font-size="9.0" text-anchor="end" fill="#000" >2</text>
<text x="271.5" y="792.64" font-size="9.0" text-anchor="end" fill="#000" >4</text>
<text x="271.5" y="752.54" font-size="9.0" text-anchor="end" fill="#000" >6</text>
<text x="271.5" y="712.44" font-size="9.0" text-anchor="end" fill="#000" >8</text>
<line x1="277.7" y1="833.6" x2="464.89" y2="833.6" stroke="#000" stroke-width="1.45" />
<line x1="278.3" y1="833.6" x2="278.3" y2="837.8" stroke="#000" stroke-width="1.45" />
<line x1="312.12" y1="833.6" x2="312.12" y2="837.8" stroke="#000" stroke-width="1.45" />
<line x1="345.93" y1="833.6" x2="345.93" y2="837.8" stroke="#000" stroke-width="1.45" />
<line x1="379.75" y1="833.6" x2="379.75" y2="837.8" stroke="#000" stroke-width="1.45" />
<line x1="413.56" y1="833.6" x2="413.56" y2="837.8" stroke="#000" stroke-width="1.45" />
<line x1="447.38" y1="833.6" x2="447.38" y2="837.8" stroke="#000" stroke-width="1.45" />
<line x1="295.21" y1="833.6" x2="295.21" y2="836.4" stroke="#000" stroke-width="1.45" />
<line x1="329.02" y1="833.6" x2="329.02" y2="836.4" stroke="#000" stroke-width="1.45" />
<line x1="362.84" y1="833.6" x2="362.84" y2="836.4" stroke="#000" stroke-width="1.45" />
<line x1="396.66" y1="833.6" x2="396.66" y2="836.4" stroke="#000" stroke-width="1.45" />
<line x1="430.47" y1="833.6" x2="430.47" y2="836.4" stroke="#000" stroke-width="1.45" />
<line x1="464.29" y1="833.6" x2="464.29" y2="836.4" stroke="#000" stroke-width="1.45" />
<text x="278.3" y="848.9" font-size="9.2" text-anchor="middle" fill="#000" >0</text>
<text x="312.12" y="848.9" font-size="9.2" text-anchor="middle" fill="#000" >24</text>
<text x="345.93" y="848.9" font-size="9.2" text-anchor="middle" fill="#000" >48</text>
<text x="379.75" y="848.9" font-size="9.2" text-anchor="middle" fill="#000" >72</text>
<text x="413.56" y="848.9" font-size="9.2" text-anchor="middle" fill="#000" >96</text>
<text x="447.38" y="848.9" font-size="9.2" text-anchor="middle" fill="#000" >120</text>
<text x="371.64" y="862.6" font-size="9.3" text-anchor="middle">Hours post infection</text>
<line x1="290.4" y1="671.4" x2="304" y2="671.4" stroke="#000000" stroke-width="1.3" />
<circle cx="297.2" cy="671.4" r="2.3" fill="#000000"/>
<text x="311.2" y="674.4" font-size="8.5" text-anchor="start" fill="#000" >M<tspan font-size="6.6" dy="-2.8">pro</tspan><tspan dy="2.8">-WT</tspan></text>
<line x1="290.4" y1="682.9" x2="304" y2="682.9" stroke="#ff3b3b" stroke-width="1.3" />
<circle cx="297.2" cy="682.9" r="2.3" fill="#ff3b3b"/>
<text x="311.2" y="685.9" font-size="8.5" text-anchor="start" fill="#000" >M<tspan font-size="6.6" dy="-2.8">pro</tspan><tspan dy="2.8">-T45I</tspan></text>
<line x1="290.4" y1="694.3" x2="304" y2="694.3" stroke="#0000ff" stroke-width="1.3" />
<circle cx="297.2" cy="694.3" r="2.3" fill="#0000ff"/>
<text x="311.2" y="697.3" font-size="8.5" text-anchor="start" fill="#000" >M<tspan font-size="6.6" dy="-2.8">pro</tspan><tspan dy="2.8">-Δ23G</tspan></text>
<line x1="290.4" y1="705.8" x2="304" y2="705.8" stroke="#9b00e0" stroke-width="1.3" />
<circle cx="297.2" cy="705.8" r="2.3" fill="#9b00e0"/>
<text x="311.2" y="708.8" font-size="8.5" text-anchor="start" fill="#000" >M<tspan font-size="6.6" dy="-2.8">pro</tspan><tspan dy="2.8">-Δ23G/T45I</tspan></text>
<text x="411.5" y="685.6" font-size="9.2" text-anchor="middle" fill="#000" >ns</text>
<line x1="411.3" y1="692" x2="411.3" y2="697.2" stroke="#000" stroke-width="1.25" />
<line x1="409.05" y1="693.3" x2="413.55" y2="695.9" stroke="#000" stroke-width="1.25" />
<line x1="409.05" y1="695.9" x2="413.55" y2="693.3" stroke="#000" stroke-width="1.25" />
<line x1="402.4" y1="703.3" x2="402.4" y2="708.5" stroke="#000" stroke-width="1.25" />
<line x1="400.15" y1="704.6" x2="404.65" y2="707.2" stroke="#000" stroke-width="1.25" />
<line x1="400.15" y1="707.2" x2="404.65" y2="704.6" stroke="#000" stroke-width="1.25" />
<line x1="408.4" y1="703.3" x2="408.4" y2="708.5" stroke="#000" stroke-width="1.25" />
<line x1="406.15" y1="704.6" x2="410.65" y2="707.2" stroke="#000" stroke-width="1.25" />
<line x1="406.15" y1="707.2" x2="410.65" y2="704.6" stroke="#000" stroke-width="1.25" />
<line x1="414.4" y1="703.3" x2="414.4" y2="708.5" stroke="#000" stroke-width="1.25" />
<line x1="412.15" y1="704.6" x2="416.65" y2="707.2" stroke="#000" stroke-width="1.25" />
<line x1="412.15" y1="707.2" x2="416.65" y2="704.6" stroke="#000" stroke-width="1.25" />
<line x1="420.4" y1="703.3" x2="420.4" y2="708.5" stroke="#000" stroke-width="1.25" />
<line x1="418.15" y1="704.6" x2="422.65" y2="707.2" stroke="#000" stroke-width="1.25" />
<line x1="418.15" y1="707.2" x2="422.65" y2="704.6" stroke="#000" stroke-width="1.25" />
<polyline points="427.8,694.1 433.5,694.1 433.5,706.1 427.8,706.1" fill="none" stroke="#000" stroke-width="1.2"/>
<text x="441.3" y="703.3" font-size="9.0" text-anchor="middle" fill="#000" >##</text>
<text x="472.2" y="692.8" font-size="9.6" text-anchor="start" fill="#000" font-weight="bold">k</text>
<polyline points="515.01,828.5 531.92,806.44 548.82,759.93 565.73,748.1 582.64,746.29 599.55,754.91 616.46,756.92 633.36,760.33 650.27,766.54 667.18,766.54" fill="none" stroke="#d4d4d4" stroke-width="1.3" stroke-linejoin="round" />
<polyline points="515.01,832.91 531.92,832.91 548.82,832.91 565.73,832.91 582.64,832.91 599.55,832.91 616.46,832.91 633.36,832.91 650.27,832.91 667.18,832.91" fill="none" stroke="#9b00e0" stroke-width="1.35" stroke-linejoin="round" stroke-linejoin="miter"/>
<polyline points="515.01,832.91 531.92,832.91 548.82,832.91 565.73,832.91 582.64,832.91 599.55,832.91 616.46,832.91 633.36,832.91 650.27,832.91 667.18,832.91" fill="none" stroke="#0000ff" stroke-width="1.35" stroke-linejoin="round" stroke-linejoin="miter"/>
<polyline points="515.01,832.91 531.92,832.91 548.82,832.91 565.73,827.5 582.64,807.04 599.55,787.19 616.46,767.35 633.36,748.7 650.27,745.29 667.18,732.06" fill="none" stroke="#ff1010" stroke-width="1.35" stroke-linejoin="round" stroke-linejoin="miter"/>
<polyline points="515.01,832.91 531.92,832.91 548.82,832.91 565.73,828.5 582.64,817.47 599.55,798.42 616.46,785.39 633.36,770.75 650.27,753.51 667.18,751.71" fill="none" stroke="#000000" stroke-width="1.35" stroke-linejoin="round" stroke-linejoin="miter"/>
<line x1="565.73" y1="815.47" x2="565.73" y2="833.6" stroke="#ff1010" stroke-width="0.95" />
<line x1="563.03" y1="815.47" x2="568.43" y2="815.47" stroke="#ff1010" stroke-width="0.95" />
<line x1="563.03" y1="833.6" x2="568.43" y2="833.6" stroke="#ff1010" stroke-width="0.95" />
<line x1="582.64" y1="799.02" x2="582.64" y2="815.06" stroke="#ff1010" stroke-width="0.95" />
<line x1="579.94" y1="799.02" x2="585.34" y2="799.02" stroke="#ff1010" stroke-width="0.95" />
<line x1="579.94" y1="815.06" x2="585.34" y2="815.06" stroke="#ff1010" stroke-width="0.95" />
<line x1="599.55" y1="779.17" x2="599.55" y2="795.21" stroke="#ff1010" stroke-width="0.95" />
<line x1="596.85" y1="779.17" x2="602.25" y2="779.17" stroke="#ff1010" stroke-width="0.95" />
<line x1="596.85" y1="795.21" x2="602.25" y2="795.21" stroke="#ff1010" stroke-width="0.95" />
<line x1="616.46" y1="759.33" x2="616.46" y2="775.37" stroke="#ff1010" stroke-width="0.95" />
<line x1="613.76" y1="759.33" x2="619.16" y2="759.33" stroke="#ff1010" stroke-width="0.95" />
<line x1="613.76" y1="775.37" x2="619.16" y2="775.37" stroke="#ff1010" stroke-width="0.95" />
<line x1="633.36" y1="739.68" x2="633.36" y2="757.72" stroke="#ff1010" stroke-width="0.95" />
<line x1="630.66" y1="739.68" x2="636.06" y2="739.68" stroke="#ff1010" stroke-width="0.95" />
<line x1="630.66" y1="757.72" x2="636.06" y2="757.72" stroke="#ff1010" stroke-width="0.95" />
<line x1="650.27" y1="735.26" x2="650.27" y2="755.32" stroke="#ff1010" stroke-width="0.95" />
<line x1="647.57" y1="735.26" x2="652.97" y2="735.26" stroke="#ff1010" stroke-width="0.95" />
<line x1="647.57" y1="755.32" x2="652.97" y2="755.32" stroke="#ff1010" stroke-width="0.95" />
<line x1="667.18" y1="729.05" x2="667.18" y2="735.06" stroke="#ff1010" stroke-width="0.95" />
<line x1="664.48" y1="729.05" x2="669.88" y2="729.05" stroke="#ff1010" stroke-width="0.95" />
<line x1="664.48" y1="735.06" x2="669.88" y2="735.06" stroke="#ff1010" stroke-width="0.95" />
<line x1="565.73" y1="820.48" x2="565.73" y2="833.6" stroke="#000000" stroke-width="0.95" />
<line x1="563.03" y1="820.48" x2="568.43" y2="820.48" stroke="#000000" stroke-width="0.95" />
<line x1="563.03" y1="833.6" x2="568.43" y2="833.6" stroke="#000000" stroke-width="0.95" />
<line x1="599.55" y1="789.4" x2="599.55" y2="807.45" stroke="#000000" stroke-width="0.95" />
<line x1="596.85" y1="789.4" x2="602.25" y2="789.4" stroke="#000000" stroke-width="0.95" />
<line x1="596.85" y1="807.45" x2="602.25" y2="807.45" stroke="#000000" stroke-width="0.95" />
<line x1="616.46" y1="775.37" x2="616.46" y2="795.41" stroke="#000000" stroke-width="0.95" />
<line x1="613.76" y1="775.37" x2="619.16" y2="775.37" stroke="#000000" stroke-width="0.95" />
<line x1="613.76" y1="795.41" x2="619.16" y2="795.41" stroke="#000000" stroke-width="0.95" />
<line x1="633.36" y1="760.73" x2="633.36" y2="780.78" stroke="#000000" stroke-width="0.95" />
<line x1="630.66" y1="760.73" x2="636.06" y2="760.73" stroke="#000000" stroke-width="0.95" />
<line x1="630.66" y1="780.78" x2="636.06" y2="780.78" stroke="#000000" stroke-width="0.95" />
<line x1="650.27" y1="748.5" x2="650.27" y2="758.52" stroke="#000000" stroke-width="0.95" />
<line x1="647.57" y1="748.5" x2="652.97" y2="748.5" stroke="#000000" stroke-width="0.95" />
<line x1="647.57" y1="758.52" x2="652.97" y2="758.52" stroke="#000000" stroke-width="0.95" />
<line x1="667.18" y1="740.68" x2="667.18" y2="762.73" stroke="#000000" stroke-width="0.95" />
<line x1="664.48" y1="740.68" x2="669.88" y2="740.68" stroke="#000000" stroke-width="0.95" />
<line x1="664.48" y1="762.73" x2="669.88" y2="762.73" stroke="#000000" stroke-width="0.95" />
<circle cx="515.01" cy="832.91" r="2.65" fill="#9b00e0"/>
<circle cx="531.92" cy="832.91" r="2.65" fill="#9b00e0"/>
<circle cx="548.82" cy="832.91" r="2.65" fill="#9b00e0"/>
<circle cx="565.73" cy="832.91" r="2.65" fill="#9b00e0"/>
<circle cx="582.64" cy="832.91" r="2.65" fill="#9b00e0"/>
<circle cx="599.55" cy="832.91" r="2.65" fill="#9b00e0"/>
<circle cx="616.46" cy="832.91" r="2.65" fill="#9b00e0"/>
<circle cx="633.36" cy="832.91" r="2.65" fill="#9b00e0"/>
<circle cx="650.27" cy="832.91" r="2.65" fill="#9b00e0"/>
<circle cx="667.18" cy="832.91" r="2.65" fill="#9b00e0"/>
<circle cx="515.01" cy="832.91" r="2.65" fill="#0000ff"/>
<circle cx="531.92" cy="832.91" r="2.65" fill="#0000ff"/>
<circle cx="548.82" cy="832.91" r="2.65" fill="#0000ff"/>
<circle cx="565.73" cy="832.91" r="2.65" fill="#0000ff"/>
<circle cx="582.64" cy="832.91" r="2.65" fill="#0000ff"/>
<circle cx="599.55" cy="832.91" r="2.65" fill="#0000ff"/>
<circle cx="616.46" cy="832.91" r="2.65" fill="#0000ff"/>
<circle cx="633.36" cy="832.91" r="2.65" fill="#0000ff"/>
<circle cx="650.27" cy="832.91" r="2.65" fill="#0000ff"/>
<circle cx="667.18" cy="832.91" r="2.65" fill="#0000ff"/>
<circle cx="515.01" cy="832.91" r="2.65" fill="#ff1010"/>
<circle cx="531.92" cy="832.91" r="2.65" fill="#ff1010"/>
<circle cx="548.82" cy="832.91" r="2.65" fill="#ff1010"/>
<circle cx="565.73" cy="827.5" r="2.65" fill="#ff1010"/>
<circle cx="582.64" cy="807.04" r="2.65" fill="#ff1010"/>
<circle cx="599.55" cy="787.19" r="2.65" fill="#ff1010"/>
<circle cx="616.46" cy="767.35" r="2.65" fill="#ff1010"/>
<circle cx="633.36" cy="748.7" r="2.65" fill="#ff1010"/>
<circle cx="650.27" cy="745.29" r="2.65" fill="#ff1010"/>
<circle cx="667.18" cy="732.06" r="2.65" fill="#ff1010"/>
<circle cx="515.01" cy="832.91" r="2.65" fill="#000000"/>
<circle cx="531.92" cy="832.91" r="2.65" fill="#000000"/>
<circle cx="548.82" cy="832.91" r="2.65" fill="#000000"/>
<circle cx="565.73" cy="828.5" r="2.65" fill="#000000"/>
<circle cx="582.64" cy="817.47" r="2.65" fill="#000000"/>
<circle cx="599.55" cy="798.42" r="2.65" fill="#000000"/>
<circle cx="616.46" cy="785.39" r="2.65" fill="#000000"/>
<circle cx="633.36" cy="770.75" r="2.65" fill="#000000"/>
<circle cx="650.27" cy="753.51" r="2.65" fill="#000000"/>
<circle cx="667.18" cy="751.71" r="2.65" fill="#000000"/>
<line x1="498.1" y1="709.2" x2="498.1" y2="834.2" stroke="#000" stroke-width="1.45" />
<line x1="492.9" y1="829.5" x2="498.1" y2="829.5" stroke="#000" stroke-width="1.45" />
<line x1="492.9" y1="789.4" x2="498.1" y2="789.4" stroke="#000" stroke-width="1.45" />
<line x1="492.9" y1="749.3" x2="498.1" y2="749.3" stroke="#000" stroke-width="1.45" />
<line x1="492.9" y1="709.2" x2="498.1" y2="709.2" stroke="#000" stroke-width="1.45" />
<line x1="494.9" y1="809.45" x2="498.1" y2="809.45" stroke="#000" stroke-width="1.45" />
<line x1="494.9" y1="769.35" x2="498.1" y2="769.35" stroke="#000" stroke-width="1.45" />
<line x1="494.9" y1="729.25" x2="498.1" y2="729.25" stroke="#000" stroke-width="1.45" />
<text x="491.3" y="832.74" font-size="9.0" text-anchor="end" fill="#000" >2</text>
<text x="491.3" y="792.64" font-size="9.0" text-anchor="end" fill="#000" >4</text>
<text x="491.3" y="752.54" font-size="9.0" text-anchor="end" fill="#000" >6</text>
<text x="491.3" y="712.44" font-size="9.0" text-anchor="end" fill="#000" >8</text>
<line x1="497.5" y1="833.6" x2="684.69" y2="833.6" stroke="#000" stroke-width="1.45" />
<line x1="498.1" y1="833.6" x2="498.1" y2="837.8" stroke="#000" stroke-width="1.45" />
<line x1="531.92" y1="833.6" x2="531.92" y2="837.8" stroke="#000" stroke-width="1.45" />
<line x1="565.73" y1="833.6" x2="565.73" y2="837.8" stroke="#000" stroke-width="1.45" />
<line x1="599.55" y1="833.6" x2="599.55" y2="837.8" stroke="#000" stroke-width="1.45" />
<line x1="633.36" y1="833.6" x2="633.36" y2="837.8" stroke="#000" stroke-width="1.45" />
<line x1="667.18" y1="833.6" x2="667.18" y2="837.8" stroke="#000" stroke-width="1.45" />
<line x1="515.01" y1="833.6" x2="515.01" y2="836.4" stroke="#000" stroke-width="1.45" />
<line x1="548.82" y1="833.6" x2="548.82" y2="836.4" stroke="#000" stroke-width="1.45" />
<line x1="582.64" y1="833.6" x2="582.64" y2="836.4" stroke="#000" stroke-width="1.45" />
<line x1="616.46" y1="833.6" x2="616.46" y2="836.4" stroke="#000" stroke-width="1.45" />
<line x1="650.27" y1="833.6" x2="650.27" y2="836.4" stroke="#000" stroke-width="1.45" />
<line x1="684.09" y1="833.6" x2="684.09" y2="836.4" stroke="#000" stroke-width="1.45" />
<text x="498.1" y="848.9" font-size="9.2" text-anchor="middle" fill="#000" >0</text>
<text x="531.92" y="848.9" font-size="9.2" text-anchor="middle" fill="#000" >24</text>
<text x="565.73" y="848.9" font-size="9.2" text-anchor="middle" fill="#000" >48</text>
<text x="599.55" y="848.9" font-size="9.2" text-anchor="middle" fill="#000" >72</text>
<text x="633.36" y="848.9" font-size="9.2" text-anchor="middle" fill="#000" >96</text>
<text x="667.18" y="848.9" font-size="9.2" text-anchor="middle" fill="#000" >120</text>
<text x="591.44" y="862.6" font-size="9.3" text-anchor="middle">Hours post infection</text>
<line x1="509.4" y1="671.4" x2="523" y2="671.4" stroke="#000000" stroke-width="1.3" />
<circle cx="516.2" cy="671.4" r="2.3" fill="#000000"/>
<text x="530.2" y="674.4" font-size="8.5" text-anchor="start" fill="#000" >M<tspan font-size="6.6" dy="-2.8">pro</tspan><tspan dy="2.8">-WT</tspan></text>
<line x1="509.4" y1="682.9" x2="523" y2="682.9" stroke="#ff3b3b" stroke-width="1.3" />
<circle cx="516.2" cy="682.9" r="2.3" fill="#ff3b3b"/>
<text x="530.2" y="685.9" font-size="8.5" text-anchor="start" fill="#000" >M<tspan font-size="6.6" dy="-2.8">pro</tspan><tspan dy="2.8">-T45I</tspan></text>
<line x1="509.4" y1="694.3" x2="523" y2="694.3" stroke="#0000ff" stroke-width="1.3" />
<circle cx="516.2" cy="694.3" r="2.3" fill="#0000ff"/>
<text x="530.2" y="697.3" font-size="8.5" text-anchor="start" fill="#000" >M<tspan font-size="6.6" dy="-2.8">pro</tspan><tspan dy="2.8">-Δ23G</tspan></text>
<line x1="509.4" y1="705.8" x2="523" y2="705.8" stroke="#9b00e0" stroke-width="1.3" />
<circle cx="516.2" cy="705.8" r="2.3" fill="#9b00e0"/>
<text x="530.2" y="708.8" font-size="8.5" text-anchor="start" fill="#000" >M<tspan font-size="6.6" dy="-2.8">pro</tspan><tspan dy="2.8">-Δ23G/T45I</tspan></text>
<text x="630.8" y="685.6" font-size="9.2" text-anchor="middle" fill="#000" >ns</text>
<line x1="627.8" y1="692" x2="627.8" y2="697.2" stroke="#000" stroke-width="1.25" />
<line x1="625.55" y1="693.3" x2="630.05" y2="695.9" stroke="#000" stroke-width="1.25" />
<line x1="625.55" y1="695.9" x2="630.05" y2="693.3" stroke="#000" stroke-width="1.25" />
<line x1="633.8" y1="692" x2="633.8" y2="697.2" stroke="#000" stroke-width="1.25" />
<line x1="631.55" y1="693.3" x2="636.05" y2="695.9" stroke="#000" stroke-width="1.25" />
<line x1="631.55" y1="695.9" x2="636.05" y2="693.3" stroke="#000" stroke-width="1.25" />
<line x1="627.8" y1="703.3" x2="627.8" y2="708.5" stroke="#000" stroke-width="1.25" />
<line x1="625.55" y1="704.6" x2="630.05" y2="707.2" stroke="#000" stroke-width="1.25" />
<line x1="625.55" y1="707.2" x2="630.05" y2="704.6" stroke="#000" stroke-width="1.25" />
<line x1="633.8" y1="703.3" x2="633.8" y2="708.5" stroke="#000" stroke-width="1.25" />
<line x1="631.55" y1="704.6" x2="636.05" y2="707.2" stroke="#000" stroke-width="1.25" />
<line x1="631.55" y1="707.2" x2="636.05" y2="704.6" stroke="#000" stroke-width="1.25" />
</svg></div></body></html>
